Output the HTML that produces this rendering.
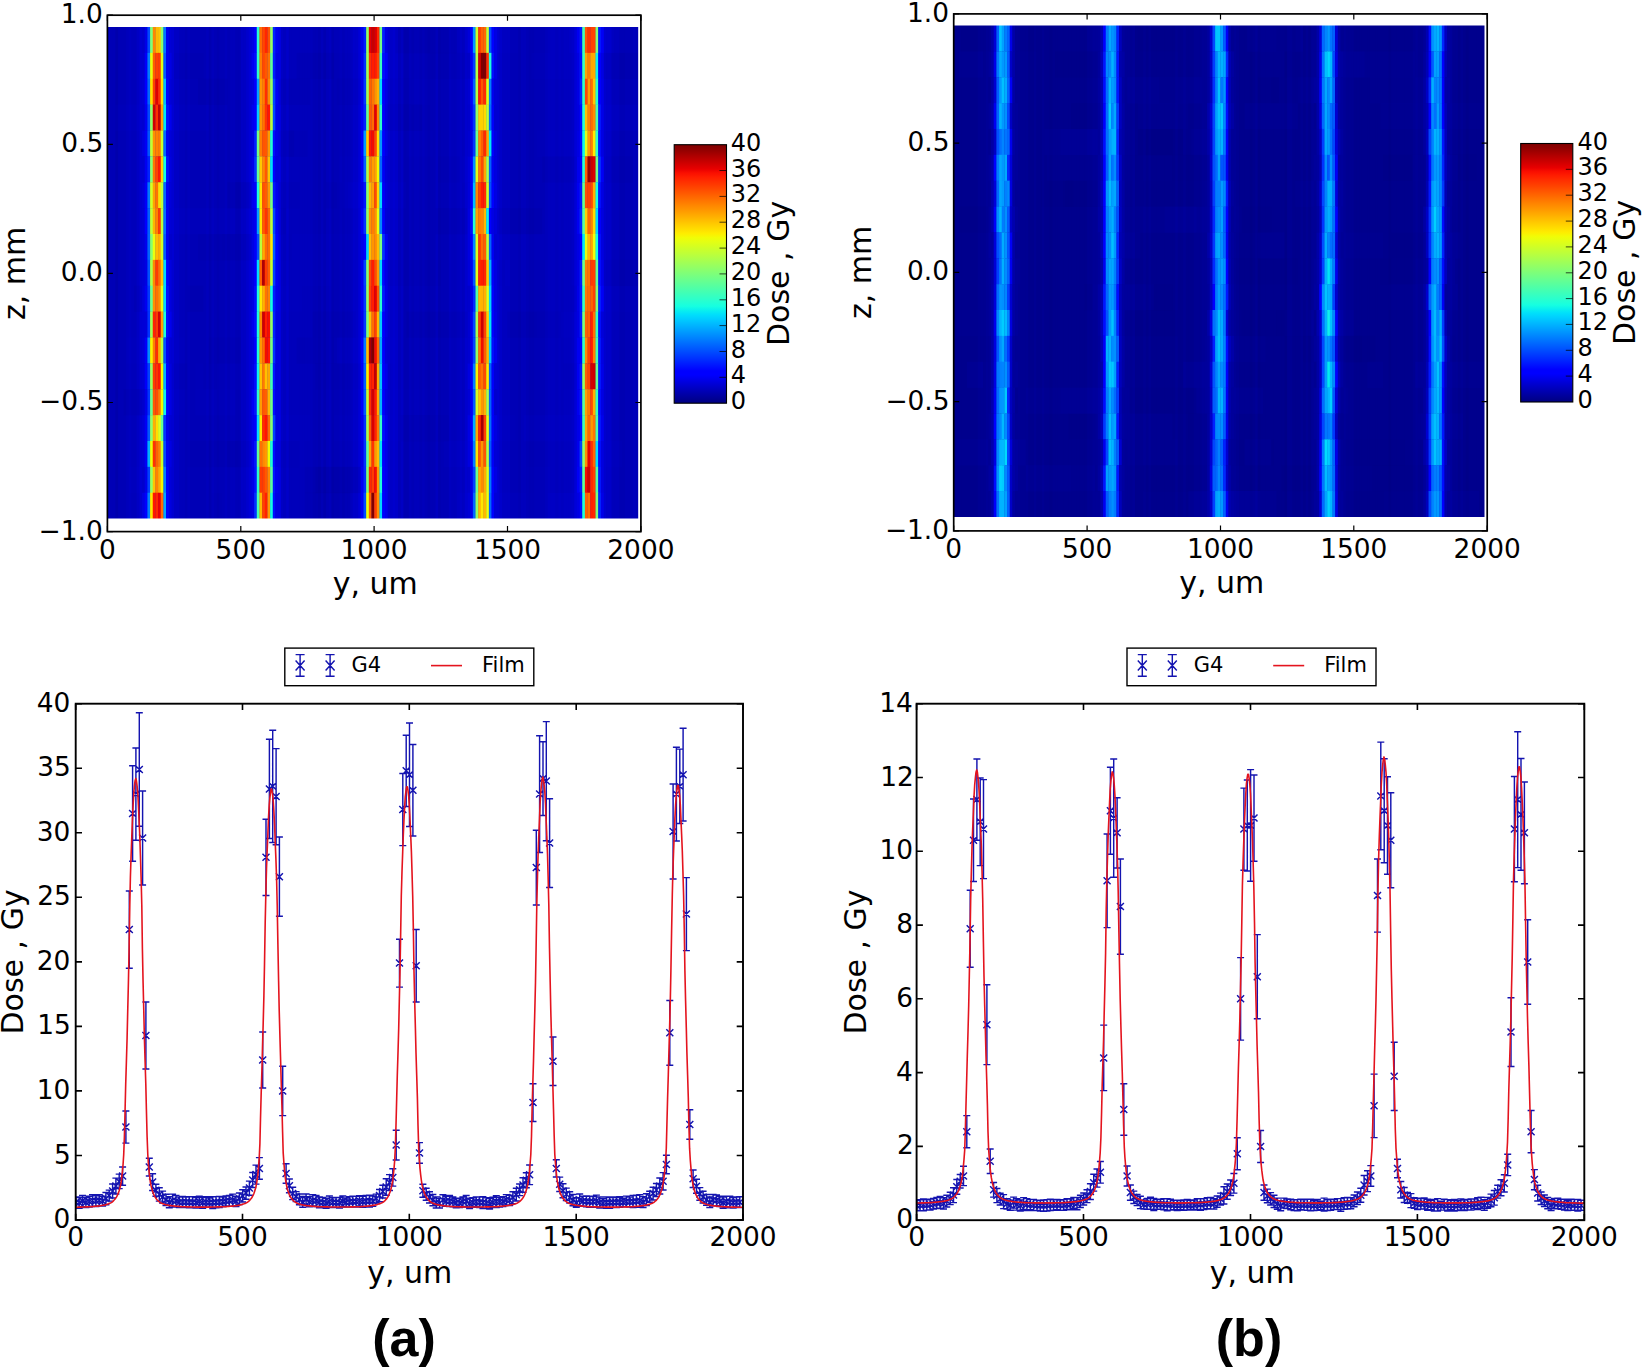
<!DOCTYPE html>
<html lang="en"><head><meta charset="utf-8"><title>Dose maps and profiles</title><style>html,body{margin:0;padding:0;background:#fff}svg{display:block}</style></head><body>
<svg width="1645" height="1369" viewBox="0 0 1645 1369" font-family="'DejaVu Sans','Liberation Sans',sans-serif" fill="#000">
<rect width="1645" height="1369" fill="#fff"/>
<defs><filter id="soft" x="-2%" y="-2%" width="104%" height="104%"><feGaussianBlur stdDeviation="0.7"/></filter><linearGradient id="jet" x1="0" y1="0" x2="0" y2="1"><stop offset="0" stop-color="#800000"/><stop offset="0.0156" stop-color="#8d0000"/><stop offset="0.0312" stop-color="#9f0000"/><stop offset="0.0469" stop-color="#b20000"/><stop offset="0.0625" stop-color="#c40000"/><stop offset="0.0781" stop-color="#d60000"/><stop offset="0.0938" stop-color="#e80000"/><stop offset="0.1094" stop-color="#fa0f00"/><stop offset="0.125" stop-color="#ff1e00"/><stop offset="0.1406" stop-color="#ff2d00"/><stop offset="0.1562" stop-color="#ff3b00"/><stop offset="0.1719" stop-color="#ff4a00"/><stop offset="0.1875" stop-color="#ff5900"/><stop offset="0.2031" stop-color="#ff6800"/><stop offset="0.2188" stop-color="#ff7700"/><stop offset="0.2344" stop-color="#ff8600"/><stop offset="0.25" stop-color="#ff9400"/><stop offset="0.2656" stop-color="#ffa300"/><stop offset="0.2812" stop-color="#ffb200"/><stop offset="0.2969" stop-color="#ffc100"/><stop offset="0.3125" stop-color="#ffd000"/><stop offset="0.3281" stop-color="#ffde00"/><stop offset="0.3438" stop-color="#feed00"/><stop offset="0.3594" stop-color="#f1fc06"/><stop offset="0.375" stop-color="#e4ff13"/><stop offset="0.3906" stop-color="#d7ff1f"/><stop offset="0.4062" stop-color="#caff2c"/><stop offset="0.4219" stop-color="#beff39"/><stop offset="0.4375" stop-color="#b1ff46"/><stop offset="0.4531" stop-color="#a4ff53"/><stop offset="0.4688" stop-color="#97ff60"/><stop offset="0.4844" stop-color="#8aff6d"/><stop offset="0.5" stop-color="#7dff7a"/><stop offset="0.5156" stop-color="#70ff87"/><stop offset="0.5312" stop-color="#63ff94"/><stop offset="0.5469" stop-color="#56ffa0"/><stop offset="0.5625" stop-color="#49ffad"/><stop offset="0.5781" stop-color="#3cffba"/><stop offset="0.5938" stop-color="#30ffc7"/><stop offset="0.6094" stop-color="#23ffd4"/><stop offset="0.625" stop-color="#16ffe1"/><stop offset="0.6406" stop-color="#09f0ee"/><stop offset="0.6562" stop-color="#00e0fb"/><stop offset="0.6719" stop-color="#00d0ff"/><stop offset="0.6875" stop-color="#00c0ff"/><stop offset="0.7031" stop-color="#00b0ff"/><stop offset="0.7188" stop-color="#00a0ff"/><stop offset="0.7344" stop-color="#0090ff"/><stop offset="0.75" stop-color="#0080ff"/><stop offset="0.7656" stop-color="#0070ff"/><stop offset="0.7812" stop-color="#0060ff"/><stop offset="0.7969" stop-color="#0050ff"/><stop offset="0.8125" stop-color="#0040ff"/><stop offset="0.8281" stop-color="#0030ff"/><stop offset="0.8438" stop-color="#0020ff"/><stop offset="0.8594" stop-color="#0010ff"/><stop offset="0.875" stop-color="#0000ff"/><stop offset="0.8906" stop-color="#0000ff"/><stop offset="0.9062" stop-color="#0000ed"/><stop offset="0.9219" stop-color="#0000da"/><stop offset="0.9375" stop-color="#0000c8"/><stop offset="0.9531" stop-color="#0000b6"/><stop offset="0.9688" stop-color="#0000a4"/><stop offset="0.9844" stop-color="#000092"/><stop offset="1" stop-color="#000080"/></linearGradient></defs>
<clipPath id="hc1"><rect x="107.4" y="27" width="530.8" height="491.6"/></clipPath>
<g clip-path="url(#hc1)"><g filter="url(#soft)">
<rect x="103.4" y="23" width="538.8" height="499.6" fill="#0000b6"/>
<rect x="107.4" y="23" width="2.97" height="499.6" fill="#0000bf"/>
<rect x="110.07" y="23" width="2.97" height="499.6" fill="#0000b6"/>
<rect x="112.73" y="23" width="2.97" height="499.6" fill="#0000b6"/>
<rect x="115.4" y="23" width="2.97" height="499.6" fill="#0000ad"/>
<rect x="118.07" y="23" width="2.97" height="499.6" fill="#0000b6"/>
<rect x="120.74" y="23" width="2.97" height="499.6" fill="#0000b6"/>
<rect x="123.41" y="23" width="2.97" height="499.6" fill="#0000b6"/>
<rect x="126.07" y="23" width="2.97" height="499.6" fill="#0000bb"/>
<rect x="128.74" y="23" width="2.97" height="499.6" fill="#0000bf"/>
<rect x="131.41" y="23" width="2.97" height="499.6" fill="#0000bb"/>
<rect x="134.08" y="23" width="2.97" height="499.6" fill="#0000bb"/>
<rect x="136.74" y="23" width="2.97" height="499.6" fill="#0000c4"/>
<rect x="139.41" y="23" width="2.97" height="499.6" fill="#0000d1"/>
<rect x="171.42" y="23" width="2.97" height="499.6" fill="#0000d1"/>
<rect x="174.09" y="23" width="2.97" height="499.6" fill="#0000c4"/>
<rect x="176.75" y="23" width="2.97" height="499.6" fill="#0000c4"/>
<rect x="179.42" y="23" width="2.97" height="499.6" fill="#0000bb"/>
<rect x="182.09" y="23" width="2.97" height="499.6" fill="#0000bb"/>
<rect x="184.76" y="23" width="2.97" height="499.6" fill="#0000b6"/>
<rect x="187.43" y="23" width="2.97" height="499.6" fill="#0000bb"/>
<rect x="190.09" y="23" width="2.97" height="499.6" fill="#0000b6"/>
<rect x="192.76" y="23" width="2.97" height="499.6" fill="#0000b6"/>
<rect x="195.43" y="23" width="2.97" height="499.6" fill="#0000b6"/>
<rect x="198.09" y="23" width="2.97" height="499.6" fill="#0000b6"/>
<rect x="200.76" y="23" width="2.97" height="499.6" fill="#0000b6"/>
<rect x="203.43" y="23" width="2.97" height="499.6" fill="#0000b6"/>
<rect x="206.1" y="23" width="2.97" height="499.6" fill="#0000bb"/>
<rect x="208.76" y="23" width="2.97" height="499.6" fill="#0000b2"/>
<rect x="211.43" y="23" width="2.97" height="499.6" fill="#0000bb"/>
<rect x="214.1" y="23" width="2.97" height="499.6" fill="#0000b6"/>
<rect x="216.77" y="23" width="2.97" height="499.6" fill="#0000b2"/>
<rect x="219.44" y="23" width="2.97" height="499.6" fill="#0000b6"/>
<rect x="222.1" y="23" width="2.97" height="499.6" fill="#0000b6"/>
<rect x="224.77" y="23" width="2.97" height="499.6" fill="#0000bb"/>
<rect x="227.44" y="23" width="2.97" height="499.6" fill="#0000b6"/>
<rect x="230.11" y="23" width="2.97" height="499.6" fill="#0000bb"/>
<rect x="232.77" y="23" width="2.97" height="499.6" fill="#0000bb"/>
<rect x="235.44" y="23" width="2.97" height="499.6" fill="#0000b6"/>
<rect x="238.11" y="23" width="2.97" height="499.6" fill="#0000b6"/>
<rect x="240.78" y="23" width="2.97" height="499.6" fill="#0000c4"/>
<rect x="243.44" y="23" width="2.97" height="499.6" fill="#0000c4"/>
<rect x="246.11" y="23" width="2.97" height="499.6" fill="#0000cd"/>
<rect x="248.78" y="23" width="2.97" height="499.6" fill="#0000d6"/>
<rect x="278.12" y="23" width="2.97" height="499.6" fill="#0000e3"/>
<rect x="280.79" y="23" width="2.97" height="499.6" fill="#0000c4"/>
<rect x="283.46" y="23" width="2.97" height="499.6" fill="#0000bf"/>
<rect x="286.12" y="23" width="2.97" height="499.6" fill="#0000c8"/>
<rect x="288.79" y="23" width="2.97" height="499.6" fill="#0000bb"/>
<rect x="291.46" y="23" width="2.97" height="499.6" fill="#0000bb"/>
<rect x="294.12" y="23" width="2.97" height="499.6" fill="#0000bb"/>
<rect x="296.79" y="23" width="2.97" height="499.6" fill="#0000bb"/>
<rect x="299.46" y="23" width="2.97" height="499.6" fill="#0000bb"/>
<rect x="302.13" y="23" width="2.97" height="499.6" fill="#0000bb"/>
<rect x="304.8" y="23" width="2.97" height="499.6" fill="#0000bb"/>
<rect x="307.46" y="23" width="2.97" height="499.6" fill="#0000bb"/>
<rect x="310.13" y="23" width="2.97" height="499.6" fill="#0000bb"/>
<rect x="312.8" y="23" width="2.97" height="499.6" fill="#0000b6"/>
<rect x="315.47" y="23" width="2.97" height="499.6" fill="#0000b6"/>
<rect x="318.13" y="23" width="2.97" height="499.6" fill="#0000b2"/>
<rect x="320.8" y="23" width="2.97" height="499.6" fill="#0000bb"/>
<rect x="323.47" y="23" width="2.97" height="499.6" fill="#0000b2"/>
<rect x="326.13" y="23" width="2.97" height="499.6" fill="#0000bb"/>
<rect x="328.8" y="23" width="2.97" height="499.6" fill="#0000bf"/>
<rect x="331.47" y="23" width="2.97" height="499.6" fill="#0000b2"/>
<rect x="334.14" y="23" width="2.97" height="499.6" fill="#0000b6"/>
<rect x="336.81" y="23" width="2.97" height="499.6" fill="#0000b6"/>
<rect x="339.47" y="23" width="2.97" height="499.6" fill="#0000bb"/>
<rect x="342.14" y="23" width="2.97" height="499.6" fill="#0000b6"/>
<rect x="344.81" y="23" width="2.97" height="499.6" fill="#0000bb"/>
<rect x="347.48" y="23" width="2.97" height="499.6" fill="#0000bb"/>
<rect x="350.14" y="23" width="2.97" height="499.6" fill="#0000bf"/>
<rect x="352.81" y="23" width="2.97" height="499.6" fill="#0000c8"/>
<rect x="355.48" y="23" width="2.97" height="499.6" fill="#0000c8"/>
<rect x="358.14" y="23" width="2.97" height="499.6" fill="#0000d6"/>
<rect x="387.49" y="23" width="2.97" height="499.6" fill="#0000d1"/>
<rect x="390.15" y="23" width="2.97" height="499.6" fill="#0000c8"/>
<rect x="392.82" y="23" width="2.97" height="499.6" fill="#0000cd"/>
<rect x="395.49" y="23" width="2.97" height="499.6" fill="#0000c8"/>
<rect x="398.16" y="23" width="2.97" height="499.6" fill="#0000bb"/>
<rect x="400.83" y="23" width="2.97" height="499.6" fill="#0000c4"/>
<rect x="403.49" y="23" width="2.97" height="499.6" fill="#0000b2"/>
<rect x="406.16" y="23" width="2.97" height="499.6" fill="#0000b2"/>
<rect x="408.83" y="23" width="2.97" height="499.6" fill="#0000bb"/>
<rect x="411.5" y="23" width="2.97" height="499.6" fill="#0000b6"/>
<rect x="414.16" y="23" width="2.97" height="499.6" fill="#0000bb"/>
<rect x="416.83" y="23" width="2.97" height="499.6" fill="#0000bb"/>
<rect x="419.5" y="23" width="2.97" height="499.6" fill="#0000b6"/>
<rect x="422.16" y="23" width="2.97" height="499.6" fill="#0000bb"/>
<rect x="424.83" y="23" width="2.97" height="499.6" fill="#0000b6"/>
<rect x="427.5" y="23" width="2.97" height="499.6" fill="#0000b2"/>
<rect x="430.17" y="23" width="2.97" height="499.6" fill="#0000b6"/>
<rect x="432.84" y="23" width="2.97" height="499.6" fill="#0000b6"/>
<rect x="435.5" y="23" width="2.97" height="499.6" fill="#0000bf"/>
<rect x="438.17" y="23" width="2.97" height="499.6" fill="#0000b2"/>
<rect x="440.84" y="23" width="2.97" height="499.6" fill="#0000b6"/>
<rect x="443.5" y="23" width="2.97" height="499.6" fill="#0000b6"/>
<rect x="446.17" y="23" width="2.97" height="499.6" fill="#0000b6"/>
<rect x="448.84" y="23" width="2.97" height="499.6" fill="#0000bf"/>
<rect x="451.51" y="23" width="2.97" height="499.6" fill="#0000bb"/>
<rect x="454.17" y="23" width="2.97" height="499.6" fill="#0000bb"/>
<rect x="456.84" y="23" width="2.97" height="499.6" fill="#0000bf"/>
<rect x="459.51" y="23" width="2.97" height="499.6" fill="#0000c4"/>
<rect x="462.18" y="23" width="2.97" height="499.6" fill="#0000bf"/>
<rect x="464.85" y="23" width="2.97" height="499.6" fill="#0000cd"/>
<rect x="496.86" y="23" width="2.97" height="499.6" fill="#0000d1"/>
<rect x="499.52" y="23" width="2.97" height="499.6" fill="#0000c8"/>
<rect x="502.19" y="23" width="2.97" height="499.6" fill="#0000bf"/>
<rect x="504.86" y="23" width="2.97" height="499.6" fill="#0000bf"/>
<rect x="507.52" y="23" width="2.97" height="499.6" fill="#0000bf"/>
<rect x="510.19" y="23" width="2.97" height="499.6" fill="#0000b6"/>
<rect x="512.86" y="23" width="2.97" height="499.6" fill="#0000b6"/>
<rect x="515.53" y="23" width="2.97" height="499.6" fill="#0000b6"/>
<rect x="518.2" y="23" width="2.97" height="499.6" fill="#0000b2"/>
<rect x="520.86" y="23" width="2.97" height="499.6" fill="#0000bb"/>
<rect x="523.53" y="23" width="2.97" height="499.6" fill="#0000bb"/>
<rect x="526.2" y="23" width="2.97" height="499.6" fill="#0000b6"/>
<rect x="528.87" y="23" width="2.97" height="499.6" fill="#0000b2"/>
<rect x="531.53" y="23" width="2.97" height="499.6" fill="#0000b2"/>
<rect x="534.2" y="23" width="2.97" height="499.6" fill="#0000b6"/>
<rect x="536.87" y="23" width="2.97" height="499.6" fill="#0000b6"/>
<rect x="539.53" y="23" width="2.97" height="499.6" fill="#0000b6"/>
<rect x="542.2" y="23" width="2.97" height="499.6" fill="#0000b6"/>
<rect x="544.87" y="23" width="2.97" height="499.6" fill="#0000bb"/>
<rect x="547.54" y="23" width="2.97" height="499.6" fill="#0000bf"/>
<rect x="550.21" y="23" width="2.97" height="499.6" fill="#0000bf"/>
<rect x="552.87" y="23" width="2.97" height="499.6" fill="#0000bf"/>
<rect x="555.54" y="23" width="2.97" height="499.6" fill="#0000bb"/>
<rect x="558.21" y="23" width="2.97" height="499.6" fill="#0000bf"/>
<rect x="560.88" y="23" width="2.97" height="499.6" fill="#0000bb"/>
<rect x="563.54" y="23" width="2.97" height="499.6" fill="#0000bf"/>
<rect x="566.21" y="23" width="2.97" height="499.6" fill="#0000bf"/>
<rect x="568.88" y="23" width="2.97" height="499.6" fill="#0000bf"/>
<rect x="571.54" y="23" width="2.97" height="499.6" fill="#0000c4"/>
<rect x="574.21" y="23" width="2.97" height="499.6" fill="#0000d6"/>
<rect x="603.55" y="23" width="2.97" height="499.6" fill="#0000cd"/>
<rect x="606.22" y="23" width="2.97" height="499.6" fill="#0000c8"/>
<rect x="608.89" y="23" width="2.97" height="499.6" fill="#0000c8"/>
<rect x="611.56" y="23" width="2.97" height="499.6" fill="#0000bb"/>
<rect x="614.23" y="23" width="2.97" height="499.6" fill="#0000bb"/>
<rect x="616.89" y="23" width="2.97" height="499.6" fill="#0000bb"/>
<rect x="619.56" y="23" width="2.97" height="499.6" fill="#0000b2"/>
<rect x="622.23" y="23" width="2.97" height="499.6" fill="#0000b2"/>
<rect x="624.89" y="23" width="2.97" height="499.6" fill="#0000b6"/>
<rect x="627.56" y="23" width="2.97" height="499.6" fill="#0000b6"/>
<rect x="630.23" y="23" width="2.97" height="499.6" fill="#0000b6"/>
<rect x="632.9" y="23" width="2.97" height="499.6" fill="#0000bb"/>
<rect x="635.56" y="23" width="2.97" height="499.6" fill="#0000b6"/>
<rect x="499.5" y="27" width="18.7" height="26.2" fill="#0000ff" opacity="0.04"/>
<rect x="568.9" y="27" width="45.3" height="26.2" fill="#0000ff" opacity="0.05"/>
<rect x="334.1" y="27" width="40" height="26.2" fill="#0000ff" opacity="0.04"/>
<rect x="550.2" y="27" width="74.7" height="26.2" fill="#0000ff" opacity="0.04"/>
<rect x="395.5" y="27" width="61.4" height="26.2" fill="#000060" opacity="0.06"/>
<rect x="296.8" y="52.9" width="37.3" height="26.2" fill="#000060" opacity="0.06"/>
<rect x="430.2" y="52.9" width="69.4" height="26.2" fill="#000060" opacity="0.04"/>
<rect x="174.1" y="52.9" width="29.3" height="26.2" fill="#000060" opacity="0.03"/>
<rect x="531.5" y="52.9" width="42.7" height="26.2" fill="#0000ff" opacity="0.04"/>
<rect x="603.6" y="52.9" width="34.7" height="26.2" fill="#000060" opacity="0.06"/>
<rect x="275.5" y="78.7" width="34.7" height="26.2" fill="#000060" opacity="0.05"/>
<rect x="198.1" y="78.7" width="29.3" height="26.2" fill="#000060" opacity="0.06"/>
<rect x="576.9" y="78.7" width="21.3" height="26.2" fill="#0000ff" opacity="0.05"/>
<rect x="336.8" y="78.7" width="74.7" height="26.2" fill="#000060" opacity="0.03"/>
<rect x="387.5" y="78.7" width="42.7" height="26.2" fill="#0000ff" opacity="0.03"/>
<rect x="574.2" y="104.6" width="64" height="26.2" fill="#0000ff" opacity="0.05"/>
<rect x="376.8" y="104.6" width="45.3" height="26.2" fill="#000060" opacity="0.06"/>
<rect x="160.8" y="104.6" width="48" height="26.2" fill="#0000ff" opacity="0.05"/>
<rect x="115.4" y="104.6" width="42.7" height="26.2" fill="#0000ff" opacity="0.05"/>
<rect x="579.5" y="104.6" width="58.7" height="26.2" fill="#0000ff" opacity="0.03"/>
<rect x="406.2" y="130.5" width="26.7" height="26.2" fill="#0000ff" opacity="0.03"/>
<rect x="286.1" y="130.5" width="21.3" height="26.2" fill="#000060" opacity="0.04"/>
<rect x="568.9" y="130.5" width="18.7" height="26.2" fill="#0000ff" opacity="0.03"/>
<rect x="278.1" y="130.5" width="16" height="26.2" fill="#000060" opacity="0.05"/>
<rect x="536.9" y="130.5" width="32" height="26.2" fill="#0000ff" opacity="0.04"/>
<rect x="576.9" y="156.4" width="56" height="26.2" fill="#000060" opacity="0.04"/>
<rect x="438.2" y="156.4" width="24" height="26.2" fill="#000060" opacity="0.03"/>
<rect x="339.5" y="156.4" width="29.3" height="26.2" fill="#0000ff" opacity="0.03"/>
<rect x="542.2" y="156.4" width="53.4" height="26.2" fill="#000060" opacity="0.05"/>
<rect x="459.5" y="156.4" width="26.7" height="26.2" fill="#0000ff" opacity="0.06"/>
<rect x="326.1" y="182.2" width="16" height="26.2" fill="#000060" opacity="0.04"/>
<rect x="347.5" y="182.2" width="21.3" height="26.2" fill="#0000ff" opacity="0.05"/>
<rect x="227.4" y="182.2" width="53.4" height="26.2" fill="#000060" opacity="0.05"/>
<rect x="336.8" y="182.2" width="69.4" height="26.2" fill="#0000ff" opacity="0.05"/>
<rect x="235.4" y="182.2" width="64" height="26.2" fill="#000060" opacity="0.03"/>
<rect x="470.2" y="208.1" width="72" height="26.2" fill="#000060" opacity="0.05"/>
<rect x="168.8" y="208.1" width="66.7" height="26.2" fill="#0000ff" opacity="0.06"/>
<rect x="435.5" y="208.1" width="40" height="26.2" fill="#000060" opacity="0.06"/>
<rect x="142.1" y="208.1" width="24" height="26.2" fill="#0000ff" opacity="0.05"/>
<rect x="251.4" y="208.1" width="34.7" height="26.2" fill="#000060" opacity="0.06"/>
<rect x="259.4" y="234" width="16" height="26.2" fill="#0000ff" opacity="0.04"/>
<rect x="280.8" y="234" width="74.7" height="26.2" fill="#0000ff" opacity="0.04"/>
<rect x="222.1" y="234" width="69.4" height="26.2" fill="#000060" opacity="0.03"/>
<rect x="198.1" y="234" width="77.4" height="26.2" fill="#000060" opacity="0.04"/>
<rect x="478.2" y="234" width="66.7" height="26.2" fill="#0000ff" opacity="0.06"/>
<rect x="590.2" y="259.9" width="48" height="26.2" fill="#000060" opacity="0.06"/>
<rect x="384.8" y="259.9" width="56" height="26.2" fill="#000060" opacity="0.03"/>
<rect x="288.8" y="259.9" width="42.7" height="26.2" fill="#0000ff" opacity="0.04"/>
<rect x="472.8" y="259.9" width="37.3" height="26.2" fill="#0000ff" opacity="0.05"/>
<rect x="478.2" y="259.9" width="26.7" height="26.2" fill="#000060" opacity="0.03"/>
<rect x="134.1" y="285.7" width="37.3" height="26.2" fill="#000060" opacity="0.05"/>
<rect x="262.1" y="285.7" width="40" height="26.2" fill="#0000ff" opacity="0.03"/>
<rect x="187.4" y="285.7" width="16" height="26.2" fill="#000060" opacity="0.05"/>
<rect x="571.5" y="285.7" width="21.3" height="26.2" fill="#000060" opacity="0.05"/>
<rect x="571.5" y="285.7" width="61.4" height="26.2" fill="#0000ff" opacity="0.03"/>
<rect x="406.2" y="311.6" width="72" height="26.2" fill="#000060" opacity="0.05"/>
<rect x="536.9" y="311.6" width="53.4" height="26.2" fill="#0000ff" opacity="0.03"/>
<rect x="139.4" y="311.6" width="34.7" height="26.2" fill="#0000ff" opacity="0.05"/>
<rect x="507.5" y="311.6" width="53.4" height="26.2" fill="#000060" opacity="0.05"/>
<rect x="312.8" y="311.6" width="42.7" height="26.2" fill="#000060" opacity="0.04"/>
<rect x="304.8" y="337.5" width="37.3" height="26.2" fill="#0000ff" opacity="0.03"/>
<rect x="126.1" y="337.5" width="58.7" height="26.2" fill="#0000ff" opacity="0.03"/>
<rect x="334.1" y="337.5" width="61.4" height="26.2" fill="#0000ff" opacity="0.04"/>
<rect x="208.8" y="337.5" width="32" height="26.2" fill="#000060" opacity="0.03"/>
<rect x="296.8" y="337.5" width="40" height="26.2" fill="#000060" opacity="0.06"/>
<rect x="195.4" y="363.4" width="45.3" height="26.2" fill="#0000ff" opacity="0.04"/>
<rect x="168.8" y="363.4" width="48" height="26.2" fill="#000060" opacity="0.03"/>
<rect x="563.5" y="363.4" width="21.3" height="26.2" fill="#000060" opacity="0.03"/>
<rect x="315.5" y="363.4" width="74.7" height="26.2" fill="#000060" opacity="0.04"/>
<rect x="187.4" y="363.4" width="16" height="26.2" fill="#0000ff" opacity="0.05"/>
<rect x="123.4" y="389.2" width="34.7" height="26.2" fill="#000060" opacity="0.05"/>
<rect x="392.8" y="389.2" width="37.3" height="26.2" fill="#0000ff" opacity="0.03"/>
<rect x="166.1" y="389.2" width="18.7" height="26.2" fill="#0000ff" opacity="0.03"/>
<rect x="195.4" y="389.2" width="40" height="26.2" fill="#0000ff" opacity="0.05"/>
<rect x="136.7" y="389.2" width="34.7" height="26.2" fill="#000060" opacity="0.05"/>
<rect x="270.1" y="415.1" width="40" height="26.2" fill="#0000ff" opacity="0.04"/>
<rect x="334.1" y="415.1" width="66.7" height="26.2" fill="#0000ff" opacity="0.03"/>
<rect x="523.5" y="415.1" width="53.4" height="26.2" fill="#0000ff" opacity="0.06"/>
<rect x="400.8" y="415.1" width="48" height="26.2" fill="#000060" opacity="0.03"/>
<rect x="472.8" y="415.1" width="42.7" height="26.2" fill="#0000ff" opacity="0.03"/>
<rect x="251.4" y="441" width="53.4" height="26.2" fill="#0000ff" opacity="0.03"/>
<rect x="587.5" y="441" width="34.7" height="26.2" fill="#0000ff" opacity="0.04"/>
<rect x="187.4" y="441" width="50.7" height="26.2" fill="#000060" opacity="0.03"/>
<rect x="443.5" y="441" width="37.3" height="26.2" fill="#0000ff" opacity="0.05"/>
<rect x="227.4" y="441" width="72" height="26.2" fill="#000060" opacity="0.04"/>
<rect x="304.8" y="466.9" width="69.4" height="26.2" fill="#000060" opacity="0.05"/>
<rect x="526.2" y="466.9" width="24" height="26.2" fill="#0000ff" opacity="0.03"/>
<rect x="128.7" y="466.9" width="21.3" height="26.2" fill="#0000ff" opacity="0.04"/>
<rect x="315.5" y="466.9" width="45.3" height="26.2" fill="#000060" opacity="0.06"/>
<rect x="211.4" y="466.9" width="45.3" height="26.2" fill="#0000ff" opacity="0.04"/>
<rect x="304.8" y="492.7" width="45.3" height="26.2" fill="#000060" opacity="0.05"/>
<rect x="222.1" y="492.7" width="40" height="26.2" fill="#0000ff" opacity="0.03"/>
<rect x="520.9" y="492.7" width="58.7" height="26.2" fill="#0000ff" opacity="0.04"/>
<rect x="547.5" y="492.7" width="58.7" height="26.2" fill="#0000ff" opacity="0.05"/>
<rect x="456.8" y="492.7" width="64" height="26.2" fill="#0000ff" opacity="0.06"/>
<rect x="142.08" y="23" width="2.97" height="30.17" fill="#0000cd"/>
<rect x="144.75" y="23" width="2.97" height="30.17" fill="#0000e8"/>
<rect x="147.41" y="23" width="2.97" height="30.17" fill="#0048ff"/>
<rect x="150.08" y="23" width="2.97" height="30.17" fill="#7dff7a"/>
<rect x="152.75" y="23" width="2.97" height="30.17" fill="#ff8600"/>
<rect x="155.42" y="23" width="2.97" height="30.17" fill="#ffb900"/>
<rect x="158.08" y="23" width="2.97" height="30.17" fill="#ffc400"/>
<rect x="160.75" y="23" width="2.97" height="30.17" fill="#8dff6a"/>
<rect x="163.42" y="23" width="2.97" height="30.17" fill="#0078ff"/>
<rect x="166.09" y="23" width="2.97" height="30.17" fill="#0000f1"/>
<rect x="168.75" y="23" width="2.97" height="30.17" fill="#0000d6"/>
<rect x="251.44" y="23" width="2.97" height="30.17" fill="#0000e3"/>
<rect x="254.11" y="23" width="2.97" height="30.17" fill="#0004ff"/>
<rect x="256.78" y="23" width="2.97" height="30.17" fill="#26ffd1"/>
<rect x="259.45" y="23" width="2.97" height="30.17" fill="#ff6c00"/>
<rect x="262.12" y="23" width="2.97" height="30.17" fill="#ff4700"/>
<rect x="264.78" y="23" width="2.97" height="30.17" fill="#ff2500"/>
<rect x="267.45" y="23" width="2.97" height="30.17" fill="#ff5200"/>
<rect x="270.12" y="23" width="2.97" height="30.17" fill="#97ff60"/>
<rect x="272.78" y="23" width="2.97" height="30.17" fill="#0024ff"/>
<rect x="275.45" y="23" width="2.97" height="30.17" fill="#0000f1"/>
<rect x="360.81" y="23" width="2.97" height="30.17" fill="#0000ed"/>
<rect x="363.48" y="23" width="2.97" height="30.17" fill="#001cff"/>
<rect x="366.15" y="23" width="2.97" height="30.17" fill="#94ff63"/>
<rect x="368.82" y="23" width="2.97" height="30.17" fill="#e80000"/>
<rect x="371.48" y="23" width="2.97" height="30.17" fill="#c80000"/>
<rect x="374.15" y="23" width="2.97" height="30.17" fill="#da0000"/>
<rect x="376.82" y="23" width="2.97" height="30.17" fill="#ff2500"/>
<rect x="379.49" y="23" width="2.97" height="30.17" fill="#73ff83"/>
<rect x="382.15" y="23" width="2.97" height="30.17" fill="#0024ff"/>
<rect x="384.82" y="23" width="2.97" height="30.17" fill="#0000e3"/>
<rect x="467.51" y="23" width="2.97" height="30.17" fill="#0000da"/>
<rect x="470.18" y="23" width="2.97" height="30.17" fill="#0000ff"/>
<rect x="472.85" y="23" width="2.97" height="30.17" fill="#0098ff"/>
<rect x="475.51" y="23" width="2.97" height="30.17" fill="#caff2c"/>
<rect x="478.18" y="23" width="2.97" height="30.17" fill="#ff3b00"/>
<rect x="480.85" y="23" width="2.97" height="30.17" fill="#ff6000"/>
<rect x="483.52" y="23" width="2.97" height="30.17" fill="#ff6800"/>
<rect x="486.19" y="23" width="2.97" height="30.17" fill="#c4ff33"/>
<rect x="488.85" y="23" width="2.97" height="30.17" fill="#0050ff"/>
<rect x="491.52" y="23" width="2.97" height="30.17" fill="#0000ff"/>
<rect x="494.19" y="23" width="2.97" height="30.17" fill="#0000e3"/>
<rect x="576.88" y="23" width="2.97" height="30.17" fill="#0000f1"/>
<rect x="579.55" y="23" width="2.97" height="30.17" fill="#0018ff"/>
<rect x="582.22" y="23" width="2.97" height="30.17" fill="#43ffb4"/>
<rect x="584.88" y="23" width="2.97" height="30.17" fill="#ff5500"/>
<rect x="587.55" y="23" width="2.97" height="30.17" fill="#ff3000"/>
<rect x="590.22" y="23" width="2.97" height="30.17" fill="#ff3f00"/>
<rect x="592.88" y="23" width="2.97" height="30.17" fill="#ff4300"/>
<rect x="595.55" y="23" width="2.97" height="30.17" fill="#80ff77"/>
<rect x="598.22" y="23" width="2.97" height="30.17" fill="#0018ff"/>
<rect x="600.89" y="23" width="2.97" height="30.17" fill="#0000f6"/>
<rect x="142.08" y="52.87" width="2.97" height="26.17" fill="#0000d1"/>
<rect x="144.75" y="52.87" width="2.97" height="26.17" fill="#0000fa"/>
<rect x="147.41" y="52.87" width="2.97" height="26.17" fill="#007cff"/>
<rect x="150.08" y="52.87" width="2.97" height="26.17" fill="#e7ff0f"/>
<rect x="152.75" y="52.87" width="2.97" height="26.17" fill="#ff5d00"/>
<rect x="155.42" y="52.87" width="2.97" height="26.17" fill="#ff3f00"/>
<rect x="158.08" y="52.87" width="2.97" height="26.17" fill="#ff3b00"/>
<rect x="160.75" y="52.87" width="2.97" height="26.17" fill="#e1ff16"/>
<rect x="163.42" y="52.87" width="2.97" height="26.17" fill="#005cff"/>
<rect x="166.09" y="52.87" width="2.97" height="26.17" fill="#0000f1"/>
<rect x="168.75" y="52.87" width="2.97" height="26.17" fill="#0000e3"/>
<rect x="251.44" y="52.87" width="2.97" height="26.17" fill="#0000f1"/>
<rect x="254.11" y="52.87" width="2.97" height="26.17" fill="#000cff"/>
<rect x="256.78" y="52.87" width="2.97" height="26.17" fill="#2cffca"/>
<rect x="259.45" y="52.87" width="2.97" height="26.17" fill="#ff7e00"/>
<rect x="262.12" y="52.87" width="2.97" height="26.17" fill="#ff4a00"/>
<rect x="264.78" y="52.87" width="2.97" height="26.17" fill="#ff5900"/>
<rect x="267.45" y="52.87" width="2.97" height="26.17" fill="#ff6f00"/>
<rect x="270.12" y="52.87" width="2.97" height="26.17" fill="#60ff97"/>
<rect x="272.78" y="52.87" width="2.97" height="26.17" fill="#001cff"/>
<rect x="275.45" y="52.87" width="2.97" height="26.17" fill="#0000e3"/>
<rect x="360.81" y="52.87" width="2.97" height="26.17" fill="#0000f1"/>
<rect x="363.48" y="52.87" width="2.97" height="26.17" fill="#0030ff"/>
<rect x="366.15" y="52.87" width="2.97" height="26.17" fill="#9dff5a"/>
<rect x="368.82" y="52.87" width="2.97" height="26.17" fill="#ff2d00"/>
<rect x="371.48" y="52.87" width="2.97" height="26.17" fill="#ff1e00"/>
<rect x="374.15" y="52.87" width="2.97" height="26.17" fill="#ff1e00"/>
<rect x="376.82" y="52.87" width="2.97" height="26.17" fill="#ff4300"/>
<rect x="379.49" y="52.87" width="2.97" height="26.17" fill="#39ffbe"/>
<rect x="382.15" y="52.87" width="2.97" height="26.17" fill="#0010ff"/>
<rect x="384.82" y="52.87" width="2.97" height="26.17" fill="#0000f6"/>
<rect x="467.51" y="52.87" width="2.97" height="26.17" fill="#0000c8"/>
<rect x="470.18" y="52.87" width="2.97" height="26.17" fill="#0000fa"/>
<rect x="472.85" y="52.87" width="2.97" height="26.17" fill="#0040ff"/>
<rect x="475.51" y="52.87" width="2.97" height="26.17" fill="#b7ff40"/>
<rect x="478.18" y="52.87" width="2.97" height="26.17" fill="#d60000"/>
<rect x="480.85" y="52.87" width="2.97" height="26.17" fill="#800000"/>
<rect x="483.52" y="52.87" width="2.97" height="26.17" fill="#800000"/>
<rect x="486.19" y="52.87" width="2.97" height="26.17" fill="#ff3000"/>
<rect x="488.85" y="52.87" width="2.97" height="26.17" fill="#1cffdb"/>
<rect x="491.52" y="52.87" width="2.97" height="26.17" fill="#0008ff"/>
<rect x="494.19" y="52.87" width="2.97" height="26.17" fill="#0000e3"/>
<rect x="576.88" y="52.87" width="2.97" height="26.17" fill="#0000e3"/>
<rect x="579.55" y="52.87" width="2.97" height="26.17" fill="#0010ff"/>
<rect x="582.22" y="52.87" width="2.97" height="26.17" fill="#39ffbe"/>
<rect x="584.88" y="52.87" width="2.97" height="26.17" fill="#ffa300"/>
<rect x="587.55" y="52.87" width="2.97" height="26.17" fill="#ff7e00"/>
<rect x="590.22" y="52.87" width="2.97" height="26.17" fill="#ffa700"/>
<rect x="592.88" y="52.87" width="2.97" height="26.17" fill="#ffab00"/>
<rect x="595.55" y="52.87" width="2.97" height="26.17" fill="#09f0ee"/>
<rect x="598.22" y="52.87" width="2.97" height="26.17" fill="#0004ff"/>
<rect x="600.89" y="52.87" width="2.97" height="26.17" fill="#0000e3"/>
<rect x="142.08" y="78.75" width="2.97" height="26.17" fill="#0000d6"/>
<rect x="144.75" y="78.75" width="2.97" height="26.17" fill="#0000ff"/>
<rect x="147.41" y="78.75" width="2.97" height="26.17" fill="#0068ff"/>
<rect x="150.08" y="78.75" width="2.97" height="26.17" fill="#ffe200"/>
<rect x="152.75" y="78.75" width="2.97" height="26.17" fill="#ff4300"/>
<rect x="155.42" y="78.75" width="2.97" height="26.17" fill="#df0000"/>
<rect x="158.08" y="78.75" width="2.97" height="26.17" fill="#ff2d00"/>
<rect x="160.75" y="78.75" width="2.97" height="26.17" fill="#ffe200"/>
<rect x="163.42" y="78.75" width="2.97" height="26.17" fill="#00bcff"/>
<rect x="166.09" y="78.75" width="2.97" height="26.17" fill="#0000ff"/>
<rect x="168.75" y="78.75" width="2.97" height="26.17" fill="#0000da"/>
<rect x="251.44" y="78.75" width="2.97" height="26.17" fill="#0000df"/>
<rect x="254.11" y="78.75" width="2.97" height="26.17" fill="#0000ff"/>
<rect x="256.78" y="78.75" width="2.97" height="26.17" fill="#00a4ff"/>
<rect x="259.45" y="78.75" width="2.97" height="26.17" fill="#ff9400"/>
<rect x="262.12" y="78.75" width="2.97" height="26.17" fill="#ff7e00"/>
<rect x="264.78" y="78.75" width="2.97" height="26.17" fill="#ff2d00"/>
<rect x="267.45" y="78.75" width="2.97" height="26.17" fill="#ff8900"/>
<rect x="270.12" y="78.75" width="2.97" height="26.17" fill="#97ff60"/>
<rect x="272.78" y="78.75" width="2.97" height="26.17" fill="#0044ff"/>
<rect x="275.45" y="78.75" width="2.97" height="26.17" fill="#0000f6"/>
<rect x="360.81" y="78.75" width="2.97" height="26.17" fill="#0000ed"/>
<rect x="363.48" y="78.75" width="2.97" height="26.17" fill="#0038ff"/>
<rect x="366.15" y="78.75" width="2.97" height="26.17" fill="#a0ff56"/>
<rect x="368.82" y="78.75" width="2.97" height="26.17" fill="#ff6000"/>
<rect x="371.48" y="78.75" width="2.97" height="26.17" fill="#ff7700"/>
<rect x="374.15" y="78.75" width="2.97" height="26.17" fill="#ff9400"/>
<rect x="376.82" y="78.75" width="2.97" height="26.17" fill="#ffb200"/>
<rect x="379.49" y="78.75" width="2.97" height="26.17" fill="#00dcfe"/>
<rect x="382.15" y="78.75" width="2.97" height="26.17" fill="#0000ff"/>
<rect x="384.82" y="78.75" width="2.97" height="26.17" fill="#0000e3"/>
<rect x="467.51" y="78.75" width="2.97" height="26.17" fill="#0000d1"/>
<rect x="470.18" y="78.75" width="2.97" height="26.17" fill="#0000ff"/>
<rect x="472.85" y="78.75" width="2.97" height="26.17" fill="#0060ff"/>
<rect x="475.51" y="78.75" width="2.97" height="26.17" fill="#b4ff43"/>
<rect x="478.18" y="78.75" width="2.97" height="26.17" fill="#ff1a00"/>
<rect x="480.85" y="78.75" width="2.97" height="26.17" fill="#ff5200"/>
<rect x="483.52" y="78.75" width="2.97" height="26.17" fill="#ff2900"/>
<rect x="486.19" y="78.75" width="2.97" height="26.17" fill="#deff19"/>
<rect x="488.85" y="78.75" width="2.97" height="26.17" fill="#007cff"/>
<rect x="491.52" y="78.75" width="2.97" height="26.17" fill="#0000ed"/>
<rect x="494.19" y="78.75" width="2.97" height="26.17" fill="#0000d6"/>
<rect x="576.88" y="78.75" width="2.97" height="26.17" fill="#0000e3"/>
<rect x="579.55" y="78.75" width="2.97" height="26.17" fill="#0020ff"/>
<rect x="582.22" y="78.75" width="2.97" height="26.17" fill="#33ffc4"/>
<rect x="584.88" y="78.75" width="2.97" height="26.17" fill="#ff4700"/>
<rect x="587.55" y="78.75" width="2.97" height="26.17" fill="#ff9f00"/>
<rect x="590.22" y="78.75" width="2.97" height="26.17" fill="#ff6c00"/>
<rect x="592.88" y="78.75" width="2.97" height="26.17" fill="#ffc800"/>
<rect x="595.55" y="78.75" width="2.97" height="26.17" fill="#2cffca"/>
<rect x="598.22" y="78.75" width="2.97" height="26.17" fill="#0004ff"/>
<rect x="600.89" y="78.75" width="2.97" height="26.17" fill="#0000e8"/>
<rect x="142.08" y="104.62" width="2.97" height="26.17" fill="#0000d1"/>
<rect x="144.75" y="104.62" width="2.97" height="26.17" fill="#0000f1"/>
<rect x="147.41" y="104.62" width="2.97" height="26.17" fill="#0048ff"/>
<rect x="150.08" y="104.62" width="2.97" height="26.17" fill="#90ff66"/>
<rect x="152.75" y="104.62" width="2.97" height="26.17" fill="#cd0000"/>
<rect x="155.42" y="104.62" width="2.97" height="26.17" fill="#ff2d00"/>
<rect x="158.08" y="104.62" width="2.97" height="26.17" fill="#c40000"/>
<rect x="160.75" y="104.62" width="2.97" height="26.17" fill="#ffa700"/>
<rect x="163.42" y="104.62" width="2.97" height="26.17" fill="#02e8f4"/>
<rect x="166.09" y="104.62" width="2.97" height="26.17" fill="#000cff"/>
<rect x="168.75" y="104.62" width="2.97" height="26.17" fill="#0000ed"/>
<rect x="251.44" y="104.62" width="2.97" height="26.17" fill="#0000ed"/>
<rect x="254.11" y="104.62" width="2.97" height="26.17" fill="#0000ff"/>
<rect x="256.78" y="104.62" width="2.97" height="26.17" fill="#00ccff"/>
<rect x="259.45" y="104.62" width="2.97" height="26.17" fill="#ff9400"/>
<rect x="262.12" y="104.62" width="2.97" height="26.17" fill="#ff7300"/>
<rect x="264.78" y="104.62" width="2.97" height="26.17" fill="#ff3000"/>
<rect x="267.45" y="104.62" width="2.97" height="26.17" fill="#ff1600"/>
<rect x="270.12" y="104.62" width="2.97" height="26.17" fill="#baff3c"/>
<rect x="272.78" y="104.62" width="2.97" height="26.17" fill="#0048ff"/>
<rect x="275.45" y="104.62" width="2.97" height="26.17" fill="#0000ed"/>
<rect x="360.81" y="104.62" width="2.97" height="26.17" fill="#0000f6"/>
<rect x="363.48" y="104.62" width="2.97" height="26.17" fill="#0024ff"/>
<rect x="366.15" y="104.62" width="2.97" height="26.17" fill="#66ff90"/>
<rect x="368.82" y="104.62" width="2.97" height="26.17" fill="#ff5900"/>
<rect x="371.48" y="104.62" width="2.97" height="26.17" fill="#ff6c00"/>
<rect x="374.15" y="104.62" width="2.97" height="26.17" fill="#e40000"/>
<rect x="376.82" y="104.62" width="2.97" height="26.17" fill="#ff8d00"/>
<rect x="379.49" y="104.62" width="2.97" height="26.17" fill="#2cffca"/>
<rect x="382.15" y="104.62" width="2.97" height="26.17" fill="#0000ff"/>
<rect x="384.82" y="104.62" width="2.97" height="26.17" fill="#0000df"/>
<rect x="467.51" y="104.62" width="2.97" height="26.17" fill="#0000cd"/>
<rect x="470.18" y="104.62" width="2.97" height="26.17" fill="#0000f6"/>
<rect x="472.85" y="104.62" width="2.97" height="26.17" fill="#0034ff"/>
<rect x="475.51" y="104.62" width="2.97" height="26.17" fill="#8dff6a"/>
<rect x="478.18" y="104.62" width="2.97" height="26.17" fill="#ffd000"/>
<rect x="480.85" y="104.62" width="2.97" height="26.17" fill="#ffd000"/>
<rect x="483.52" y="104.62" width="2.97" height="26.17" fill="#ffdb00"/>
<rect x="486.19" y="104.62" width="2.97" height="26.17" fill="#baff3c"/>
<rect x="488.85" y="104.62" width="2.97" height="26.17" fill="#006cff"/>
<rect x="491.52" y="104.62" width="2.97" height="26.17" fill="#0000fa"/>
<rect x="494.19" y="104.62" width="2.97" height="26.17" fill="#0000d1"/>
<rect x="576.88" y="104.62" width="2.97" height="26.17" fill="#0000df"/>
<rect x="579.55" y="104.62" width="2.97" height="26.17" fill="#000cff"/>
<rect x="582.22" y="104.62" width="2.97" height="26.17" fill="#26ffd1"/>
<rect x="584.88" y="104.62" width="2.97" height="26.17" fill="#ffc100"/>
<rect x="587.55" y="104.62" width="2.97" height="26.17" fill="#ff8200"/>
<rect x="590.22" y="104.62" width="2.97" height="26.17" fill="#ff6c00"/>
<rect x="592.88" y="104.62" width="2.97" height="26.17" fill="#ff8d00"/>
<rect x="595.55" y="104.62" width="2.97" height="26.17" fill="#49ffad"/>
<rect x="598.22" y="104.62" width="2.97" height="26.17" fill="#001cff"/>
<rect x="600.89" y="104.62" width="2.97" height="26.17" fill="#0000e8"/>
<rect x="142.08" y="130.49" width="2.97" height="26.17" fill="#0000df"/>
<rect x="144.75" y="130.49" width="2.97" height="26.17" fill="#0000f6"/>
<rect x="147.41" y="130.49" width="2.97" height="26.17" fill="#0054ff"/>
<rect x="150.08" y="130.49" width="2.97" height="26.17" fill="#beff39"/>
<rect x="152.75" y="130.49" width="2.97" height="26.17" fill="#ff9100"/>
<rect x="155.42" y="130.49" width="2.97" height="26.17" fill="#ff8200"/>
<rect x="158.08" y="130.49" width="2.97" height="26.17" fill="#ff7a00"/>
<rect x="160.75" y="130.49" width="2.97" height="26.17" fill="#ceff29"/>
<rect x="163.42" y="130.49" width="2.97" height="26.17" fill="#006cff"/>
<rect x="166.09" y="130.49" width="2.97" height="26.17" fill="#0000f1"/>
<rect x="168.75" y="130.49" width="2.97" height="26.17" fill="#0000da"/>
<rect x="251.44" y="130.49" width="2.97" height="26.17" fill="#0000df"/>
<rect x="254.11" y="130.49" width="2.97" height="26.17" fill="#0020ff"/>
<rect x="256.78" y="130.49" width="2.97" height="26.17" fill="#73ff83"/>
<rect x="259.45" y="130.49" width="2.97" height="26.17" fill="#ff7e00"/>
<rect x="262.12" y="130.49" width="2.97" height="26.17" fill="#ff5500"/>
<rect x="264.78" y="130.49" width="2.97" height="26.17" fill="#ff5900"/>
<rect x="267.45" y="130.49" width="2.97" height="26.17" fill="#ff9800"/>
<rect x="270.12" y="130.49" width="2.97" height="26.17" fill="#23ffd4"/>
<rect x="272.78" y="130.49" width="2.97" height="26.17" fill="#0008ff"/>
<rect x="275.45" y="130.49" width="2.97" height="26.17" fill="#0000e8"/>
<rect x="360.81" y="130.49" width="2.97" height="26.17" fill="#0000ff"/>
<rect x="363.48" y="130.49" width="2.97" height="26.17" fill="#0098ff"/>
<rect x="366.15" y="130.49" width="2.97" height="26.17" fill="#ffd000"/>
<rect x="368.82" y="130.49" width="2.97" height="26.17" fill="#ff1600"/>
<rect x="371.48" y="130.49" width="2.97" height="26.17" fill="#f10800"/>
<rect x="374.15" y="130.49" width="2.97" height="26.17" fill="#ff4700"/>
<rect x="376.82" y="130.49" width="2.97" height="26.17" fill="#ffde00"/>
<rect x="379.49" y="130.49" width="2.97" height="26.17" fill="#0098ff"/>
<rect x="382.15" y="130.49" width="2.97" height="26.17" fill="#0000ff"/>
<rect x="384.82" y="130.49" width="2.97" height="26.17" fill="#0000e3"/>
<rect x="467.51" y="130.49" width="2.97" height="26.17" fill="#0000d1"/>
<rect x="470.18" y="130.49" width="2.97" height="26.17" fill="#0000e3"/>
<rect x="472.85" y="130.49" width="2.97" height="26.17" fill="#0034ff"/>
<rect x="475.51" y="130.49" width="2.97" height="26.17" fill="#6aff8d"/>
<rect x="478.18" y="130.49" width="2.97" height="26.17" fill="#ff8600"/>
<rect x="480.85" y="130.49" width="2.97" height="26.17" fill="#ff5d00"/>
<rect x="483.52" y="130.49" width="2.97" height="26.17" fill="#ff2900"/>
<rect x="486.19" y="130.49" width="2.97" height="26.17" fill="#ffa700"/>
<rect x="488.85" y="130.49" width="2.97" height="26.17" fill="#02e8f4"/>
<rect x="491.52" y="130.49" width="2.97" height="26.17" fill="#0000ff"/>
<rect x="494.19" y="130.49" width="2.97" height="26.17" fill="#0000df"/>
<rect x="576.88" y="130.49" width="2.97" height="26.17" fill="#0000e3"/>
<rect x="579.55" y="130.49" width="2.97" height="26.17" fill="#0008ff"/>
<rect x="582.22" y="130.49" width="2.97" height="26.17" fill="#0ff8e7"/>
<rect x="584.88" y="130.49" width="2.97" height="26.17" fill="#e1ff16"/>
<rect x="587.55" y="130.49" width="2.97" height="26.17" fill="#ff9c00"/>
<rect x="590.22" y="130.49" width="2.97" height="26.17" fill="#ff7e00"/>
<rect x="592.88" y="130.49" width="2.97" height="26.17" fill="#feed00"/>
<rect x="595.55" y="130.49" width="2.97" height="26.17" fill="#30ffc7"/>
<rect x="598.22" y="130.49" width="2.97" height="26.17" fill="#0014ff"/>
<rect x="600.89" y="130.49" width="2.97" height="26.17" fill="#0000e3"/>
<rect x="142.08" y="156.37" width="2.97" height="26.17" fill="#0000d1"/>
<rect x="144.75" y="156.37" width="2.97" height="26.17" fill="#0000f1"/>
<rect x="147.41" y="156.37" width="2.97" height="26.17" fill="#0024ff"/>
<rect x="150.08" y="156.37" width="2.97" height="26.17" fill="#87ff70"/>
<rect x="152.75" y="156.37" width="2.97" height="26.17" fill="#ff7700"/>
<rect x="155.42" y="156.37" width="2.97" height="26.17" fill="#ff4300"/>
<rect x="158.08" y="156.37" width="2.97" height="26.17" fill="#ff1300"/>
<rect x="160.75" y="156.37" width="2.97" height="26.17" fill="#ffd700"/>
<rect x="163.42" y="156.37" width="2.97" height="26.17" fill="#16ffe1"/>
<rect x="166.09" y="156.37" width="2.97" height="26.17" fill="#0010ff"/>
<rect x="168.75" y="156.37" width="2.97" height="26.17" fill="#0000df"/>
<rect x="251.44" y="156.37" width="2.97" height="26.17" fill="#0000e8"/>
<rect x="254.11" y="156.37" width="2.97" height="26.17" fill="#0030ff"/>
<rect x="256.78" y="156.37" width="2.97" height="26.17" fill="#63ff94"/>
<rect x="259.45" y="156.37" width="2.97" height="26.17" fill="#ffc800"/>
<rect x="262.12" y="156.37" width="2.97" height="26.17" fill="#ff8900"/>
<rect x="264.78" y="156.37" width="2.97" height="26.17" fill="#ff5900"/>
<rect x="267.45" y="156.37" width="2.97" height="26.17" fill="#ffc400"/>
<rect x="270.12" y="156.37" width="2.97" height="26.17" fill="#00e0fb"/>
<rect x="272.78" y="156.37" width="2.97" height="26.17" fill="#0004ff"/>
<rect x="275.45" y="156.37" width="2.97" height="26.17" fill="#0000df"/>
<rect x="360.81" y="156.37" width="2.97" height="26.17" fill="#0000fa"/>
<rect x="363.48" y="156.37" width="2.97" height="26.17" fill="#0060ff"/>
<rect x="366.15" y="156.37" width="2.97" height="26.17" fill="#adff49"/>
<rect x="368.82" y="156.37" width="2.97" height="26.17" fill="#ff7e00"/>
<rect x="371.48" y="156.37" width="2.97" height="26.17" fill="#ff9c00"/>
<rect x="374.15" y="156.37" width="2.97" height="26.17" fill="#ffa300"/>
<rect x="376.82" y="156.37" width="2.97" height="26.17" fill="#f1fc06"/>
<rect x="379.49" y="156.37" width="2.97" height="26.17" fill="#0068ff"/>
<rect x="382.15" y="156.37" width="2.97" height="26.17" fill="#0000f6"/>
<rect x="384.82" y="156.37" width="2.97" height="26.17" fill="#0000da"/>
<rect x="467.51" y="156.37" width="2.97" height="26.17" fill="#0000da"/>
<rect x="470.18" y="156.37" width="2.97" height="26.17" fill="#0000ff"/>
<rect x="472.85" y="156.37" width="2.97" height="26.17" fill="#0090ff"/>
<rect x="475.51" y="156.37" width="2.97" height="26.17" fill="#e1ff16"/>
<rect x="478.18" y="156.37" width="2.97" height="26.17" fill="#ff7a00"/>
<rect x="480.85" y="156.37" width="2.97" height="26.17" fill="#ff4a00"/>
<rect x="483.52" y="156.37" width="2.97" height="26.17" fill="#ffa700"/>
<rect x="486.19" y="156.37" width="2.97" height="26.17" fill="#aaff4d"/>
<rect x="488.85" y="156.37" width="2.97" height="26.17" fill="#0060ff"/>
<rect x="491.52" y="156.37" width="2.97" height="26.17" fill="#0000f1"/>
<rect x="494.19" y="156.37" width="2.97" height="26.17" fill="#0000df"/>
<rect x="576.88" y="156.37" width="2.97" height="26.17" fill="#0000ed"/>
<rect x="579.55" y="156.37" width="2.97" height="26.17" fill="#0004ff"/>
<rect x="582.22" y="156.37" width="2.97" height="26.17" fill="#26ffd1"/>
<rect x="584.88" y="156.37" width="2.97" height="26.17" fill="#ff5d00"/>
<rect x="587.55" y="156.37" width="2.97" height="26.17" fill="#960000"/>
<rect x="590.22" y="156.37" width="2.97" height="26.17" fill="#c80000"/>
<rect x="592.88" y="156.37" width="2.97" height="26.17" fill="#da0000"/>
<rect x="595.55" y="156.37" width="2.97" height="26.17" fill="#6dff8a"/>
<rect x="598.22" y="156.37" width="2.97" height="26.17" fill="#0030ff"/>
<rect x="600.89" y="156.37" width="2.97" height="26.17" fill="#0000f6"/>
<rect x="142.08" y="182.24" width="2.97" height="26.17" fill="#0000da"/>
<rect x="144.75" y="182.24" width="2.97" height="26.17" fill="#0000fa"/>
<rect x="147.41" y="182.24" width="2.97" height="26.17" fill="#0078ff"/>
<rect x="150.08" y="182.24" width="2.97" height="26.17" fill="#d1ff26"/>
<rect x="152.75" y="182.24" width="2.97" height="26.17" fill="#ffa300"/>
<rect x="155.42" y="182.24" width="2.97" height="26.17" fill="#ff7300"/>
<rect x="158.08" y="182.24" width="2.97" height="26.17" fill="#ffde00"/>
<rect x="160.75" y="182.24" width="2.97" height="26.17" fill="#baff3c"/>
<rect x="163.42" y="182.24" width="2.97" height="26.17" fill="#0068ff"/>
<rect x="166.09" y="182.24" width="2.97" height="26.17" fill="#0000f6"/>
<rect x="168.75" y="182.24" width="2.97" height="26.17" fill="#0000da"/>
<rect x="251.44" y="182.24" width="2.97" height="26.17" fill="#0000ed"/>
<rect x="254.11" y="182.24" width="2.97" height="26.17" fill="#0000ff"/>
<rect x="256.78" y="182.24" width="2.97" height="26.17" fill="#1cffdb"/>
<rect x="259.45" y="182.24" width="2.97" height="26.17" fill="#ffe200"/>
<rect x="262.12" y="182.24" width="2.97" height="26.17" fill="#ff5200"/>
<rect x="264.78" y="182.24" width="2.97" height="26.17" fill="#ff5d00"/>
<rect x="267.45" y="182.24" width="2.97" height="26.17" fill="#ff9800"/>
<rect x="270.12" y="182.24" width="2.97" height="26.17" fill="#77ff80"/>
<rect x="272.78" y="182.24" width="2.97" height="26.17" fill="#0018ff"/>
<rect x="275.45" y="182.24" width="2.97" height="26.17" fill="#0000ed"/>
<rect x="360.81" y="182.24" width="2.97" height="26.17" fill="#0000e8"/>
<rect x="363.48" y="182.24" width="2.97" height="26.17" fill="#0014ff"/>
<rect x="366.15" y="182.24" width="2.97" height="26.17" fill="#87ff70"/>
<rect x="368.82" y="182.24" width="2.97" height="26.17" fill="#ffb900"/>
<rect x="371.48" y="182.24" width="2.97" height="26.17" fill="#ff9f00"/>
<rect x="374.15" y="182.24" width="2.97" height="26.17" fill="#ff4e00"/>
<rect x="376.82" y="182.24" width="2.97" height="26.17" fill="#ffd700"/>
<rect x="379.49" y="182.24" width="2.97" height="26.17" fill="#00d8ff"/>
<rect x="382.15" y="182.24" width="2.97" height="26.17" fill="#0000fa"/>
<rect x="384.82" y="182.24" width="2.97" height="26.17" fill="#0000df"/>
<rect x="467.51" y="182.24" width="2.97" height="26.17" fill="#0000da"/>
<rect x="470.18" y="182.24" width="2.97" height="26.17" fill="#0004ff"/>
<rect x="472.85" y="182.24" width="2.97" height="26.17" fill="#00bcff"/>
<rect x="475.51" y="182.24" width="2.97" height="26.17" fill="#ff8600"/>
<rect x="478.18" y="182.24" width="2.97" height="26.17" fill="#ff3f00"/>
<rect x="480.85" y="182.24" width="2.97" height="26.17" fill="#ff1e00"/>
<rect x="483.52" y="182.24" width="2.97" height="26.17" fill="#ff2900"/>
<rect x="486.19" y="182.24" width="2.97" height="26.17" fill="#ceff29"/>
<rect x="488.85" y="182.24" width="2.97" height="26.17" fill="#0050ff"/>
<rect x="491.52" y="182.24" width="2.97" height="26.17" fill="#0000ff"/>
<rect x="494.19" y="182.24" width="2.97" height="26.17" fill="#0000e3"/>
<rect x="576.88" y="182.24" width="2.97" height="26.17" fill="#0000f1"/>
<rect x="579.55" y="182.24" width="2.97" height="26.17" fill="#0014ff"/>
<rect x="582.22" y="182.24" width="2.97" height="26.17" fill="#66ff90"/>
<rect x="584.88" y="182.24" width="2.97" height="26.17" fill="#ff4e00"/>
<rect x="587.55" y="182.24" width="2.97" height="26.17" fill="#ff3f00"/>
<rect x="590.22" y="182.24" width="2.97" height="26.17" fill="#ff4a00"/>
<rect x="592.88" y="182.24" width="2.97" height="26.17" fill="#ffb200"/>
<rect x="595.55" y="182.24" width="2.97" height="26.17" fill="#16ffe1"/>
<rect x="598.22" y="182.24" width="2.97" height="26.17" fill="#0014ff"/>
<rect x="600.89" y="182.24" width="2.97" height="26.17" fill="#0000e3"/>
<rect x="142.08" y="208.12" width="2.97" height="26.17" fill="#0000d6"/>
<rect x="144.75" y="208.12" width="2.97" height="26.17" fill="#0000ff"/>
<rect x="147.41" y="208.12" width="2.97" height="26.17" fill="#0060ff"/>
<rect x="150.08" y="208.12" width="2.97" height="26.17" fill="#c1ff36"/>
<rect x="152.75" y="208.12" width="2.97" height="26.17" fill="#ffb600"/>
<rect x="155.42" y="208.12" width="2.97" height="26.17" fill="#ff8200"/>
<rect x="158.08" y="208.12" width="2.97" height="26.17" fill="#ff3b00"/>
<rect x="160.75" y="208.12" width="2.97" height="26.17" fill="#baff3c"/>
<rect x="163.42" y="208.12" width="2.97" height="26.17" fill="#0070ff"/>
<rect x="166.09" y="208.12" width="2.97" height="26.17" fill="#0000f6"/>
<rect x="168.75" y="208.12" width="2.97" height="26.17" fill="#0000d6"/>
<rect x="251.44" y="208.12" width="2.97" height="26.17" fill="#0000e3"/>
<rect x="254.11" y="208.12" width="2.97" height="26.17" fill="#0000f1"/>
<rect x="256.78" y="208.12" width="2.97" height="26.17" fill="#00a0ff"/>
<rect x="259.45" y="208.12" width="2.97" height="26.17" fill="#ffe600"/>
<rect x="262.12" y="208.12" width="2.97" height="26.17" fill="#ff5d00"/>
<rect x="264.78" y="208.12" width="2.97" height="26.17" fill="#ff3400"/>
<rect x="267.45" y="208.12" width="2.97" height="26.17" fill="#ff6800"/>
<rect x="270.12" y="208.12" width="2.97" height="26.17" fill="#beff39"/>
<rect x="272.78" y="208.12" width="2.97" height="26.17" fill="#0044ff"/>
<rect x="275.45" y="208.12" width="2.97" height="26.17" fill="#0000f6"/>
<rect x="360.81" y="208.12" width="2.97" height="26.17" fill="#0000fa"/>
<rect x="363.48" y="208.12" width="2.97" height="26.17" fill="#0034ff"/>
<rect x="366.15" y="208.12" width="2.97" height="26.17" fill="#90ff66"/>
<rect x="368.82" y="208.12" width="2.97" height="26.17" fill="#ff9100"/>
<rect x="371.48" y="208.12" width="2.97" height="26.17" fill="#ff7e00"/>
<rect x="374.15" y="208.12" width="2.97" height="26.17" fill="#ff9400"/>
<rect x="376.82" y="208.12" width="2.97" height="26.17" fill="#ebff0c"/>
<rect x="379.49" y="208.12" width="2.97" height="26.17" fill="#0088ff"/>
<rect x="382.15" y="208.12" width="2.97" height="26.17" fill="#0000ff"/>
<rect x="384.82" y="208.12" width="2.97" height="26.17" fill="#0000d6"/>
<rect x="467.51" y="208.12" width="2.97" height="26.17" fill="#0000df"/>
<rect x="470.18" y="208.12" width="2.97" height="26.17" fill="#000cff"/>
<rect x="472.85" y="208.12" width="2.97" height="26.17" fill="#26ffd1"/>
<rect x="475.51" y="208.12" width="2.97" height="26.17" fill="#ff9f00"/>
<rect x="478.18" y="208.12" width="2.97" height="26.17" fill="#ff7e00"/>
<rect x="480.85" y="208.12" width="2.97" height="26.17" fill="#ff8600"/>
<rect x="483.52" y="208.12" width="2.97" height="26.17" fill="#ffb900"/>
<rect x="486.19" y="208.12" width="2.97" height="26.17" fill="#09f0ee"/>
<rect x="488.85" y="208.12" width="2.97" height="26.17" fill="#0000ff"/>
<rect x="491.52" y="208.12" width="2.97" height="26.17" fill="#0000e3"/>
<rect x="494.19" y="208.12" width="2.97" height="26.17" fill="#0000da"/>
<rect x="576.88" y="208.12" width="2.97" height="26.17" fill="#0000f1"/>
<rect x="579.55" y="208.12" width="2.97" height="26.17" fill="#0028ff"/>
<rect x="582.22" y="208.12" width="2.97" height="26.17" fill="#56ffa0"/>
<rect x="584.88" y="208.12" width="2.97" height="26.17" fill="#ffd000"/>
<rect x="587.55" y="208.12" width="2.97" height="26.17" fill="#ff6800"/>
<rect x="590.22" y="208.12" width="2.97" height="26.17" fill="#ff8200"/>
<rect x="592.88" y="208.12" width="2.97" height="26.17" fill="#ffde00"/>
<rect x="595.55" y="208.12" width="2.97" height="26.17" fill="#00d8ff"/>
<rect x="598.22" y="208.12" width="2.97" height="26.17" fill="#0000ff"/>
<rect x="600.89" y="208.12" width="2.97" height="26.17" fill="#0000df"/>
<rect x="142.08" y="233.99" width="2.97" height="26.17" fill="#0000d6"/>
<rect x="144.75" y="233.99" width="2.97" height="26.17" fill="#0000ed"/>
<rect x="147.41" y="233.99" width="2.97" height="26.17" fill="#0064ff"/>
<rect x="150.08" y="233.99" width="2.97" height="26.17" fill="#87ff70"/>
<rect x="152.75" y="233.99" width="2.97" height="26.17" fill="#ebff0c"/>
<rect x="155.42" y="233.99" width="2.97" height="26.17" fill="#ffbd00"/>
<rect x="158.08" y="233.99" width="2.97" height="26.17" fill="#ffae00"/>
<rect x="160.75" y="233.99" width="2.97" height="26.17" fill="#d1ff26"/>
<rect x="163.42" y="233.99" width="2.97" height="26.17" fill="#005cff"/>
<rect x="166.09" y="233.99" width="2.97" height="26.17" fill="#0000f1"/>
<rect x="168.75" y="233.99" width="2.97" height="26.17" fill="#0000cd"/>
<rect x="251.44" y="233.99" width="2.97" height="26.17" fill="#0000e3"/>
<rect x="254.11" y="233.99" width="2.97" height="26.17" fill="#0000fa"/>
<rect x="256.78" y="233.99" width="2.97" height="26.17" fill="#004cff"/>
<rect x="259.45" y="233.99" width="2.97" height="26.17" fill="#baff3c"/>
<rect x="262.12" y="233.99" width="2.97" height="26.17" fill="#ffab00"/>
<rect x="264.78" y="233.99" width="2.97" height="26.17" fill="#ff6c00"/>
<rect x="267.45" y="233.99" width="2.97" height="26.17" fill="#ff6c00"/>
<rect x="270.12" y="233.99" width="2.97" height="26.17" fill="#ffea00"/>
<rect x="272.78" y="233.99" width="2.97" height="26.17" fill="#005cff"/>
<rect x="275.45" y="233.99" width="2.97" height="26.17" fill="#0000ff"/>
<rect x="360.81" y="233.99" width="2.97" height="26.17" fill="#0000e8"/>
<rect x="363.48" y="233.99" width="2.97" height="26.17" fill="#0000ff"/>
<rect x="366.15" y="233.99" width="2.97" height="26.17" fill="#00d4ff"/>
<rect x="368.82" y="233.99" width="2.97" height="26.17" fill="#ffbd00"/>
<rect x="371.48" y="233.99" width="2.97" height="26.17" fill="#ff9400"/>
<rect x="374.15" y="233.99" width="2.97" height="26.17" fill="#ff8d00"/>
<rect x="376.82" y="233.99" width="2.97" height="26.17" fill="#ffbd00"/>
<rect x="379.49" y="233.99" width="2.97" height="26.17" fill="#7aff7d"/>
<rect x="382.15" y="233.99" width="2.97" height="26.17" fill="#0034ff"/>
<rect x="384.82" y="233.99" width="2.97" height="26.17" fill="#0000f1"/>
<rect x="467.51" y="233.99" width="2.97" height="26.17" fill="#0000df"/>
<rect x="470.18" y="233.99" width="2.97" height="26.17" fill="#0000ff"/>
<rect x="472.85" y="233.99" width="2.97" height="26.17" fill="#0088ff"/>
<rect x="475.51" y="233.99" width="2.97" height="26.17" fill="#dbff1c"/>
<rect x="478.18" y="233.99" width="2.97" height="26.17" fill="#ff3800"/>
<rect x="480.85" y="233.99" width="2.97" height="26.17" fill="#ff6c00"/>
<rect x="483.52" y="233.99" width="2.97" height="26.17" fill="#ff5d00"/>
<rect x="486.19" y="233.99" width="2.97" height="26.17" fill="#c1ff36"/>
<rect x="488.85" y="233.99" width="2.97" height="26.17" fill="#0064ff"/>
<rect x="491.52" y="233.99" width="2.97" height="26.17" fill="#0000f1"/>
<rect x="494.19" y="233.99" width="2.97" height="26.17" fill="#0000d1"/>
<rect x="576.88" y="233.99" width="2.97" height="26.17" fill="#0000e3"/>
<rect x="579.55" y="233.99" width="2.97" height="26.17" fill="#0000ff"/>
<rect x="582.22" y="233.99" width="2.97" height="26.17" fill="#02e8f4"/>
<rect x="584.88" y="233.99" width="2.97" height="26.17" fill="#e7ff0f"/>
<rect x="587.55" y="233.99" width="2.97" height="26.17" fill="#ffb900"/>
<rect x="590.22" y="233.99" width="2.97" height="26.17" fill="#ffa300"/>
<rect x="592.88" y="233.99" width="2.97" height="26.17" fill="#eeff09"/>
<rect x="595.55" y="233.99" width="2.97" height="26.17" fill="#19ffde"/>
<rect x="598.22" y="233.99" width="2.97" height="26.17" fill="#0008ff"/>
<rect x="600.89" y="233.99" width="2.97" height="26.17" fill="#0000df"/>
<rect x="142.08" y="259.86" width="2.97" height="26.17" fill="#0000d6"/>
<rect x="144.75" y="259.86" width="2.97" height="26.17" fill="#0000e3"/>
<rect x="147.41" y="259.86" width="2.97" height="26.17" fill="#0050ff"/>
<rect x="150.08" y="259.86" width="2.97" height="26.17" fill="#adff49"/>
<rect x="152.75" y="259.86" width="2.97" height="26.17" fill="#ff8900"/>
<rect x="155.42" y="259.86" width="2.97" height="26.17" fill="#ff3b00"/>
<rect x="158.08" y="259.86" width="2.97" height="26.17" fill="#ff6c00"/>
<rect x="160.75" y="259.86" width="2.97" height="26.17" fill="#ffc800"/>
<rect x="163.42" y="259.86" width="2.97" height="26.17" fill="#00d8ff"/>
<rect x="166.09" y="259.86" width="2.97" height="26.17" fill="#0000ff"/>
<rect x="168.75" y="259.86" width="2.97" height="26.17" fill="#0000df"/>
<rect x="251.44" y="259.86" width="2.97" height="26.17" fill="#0000e3"/>
<rect x="254.11" y="259.86" width="2.97" height="26.17" fill="#0004ff"/>
<rect x="256.78" y="259.86" width="2.97" height="26.17" fill="#00e0fb"/>
<rect x="259.45" y="259.86" width="2.97" height="26.17" fill="#ff6000"/>
<rect x="262.12" y="259.86" width="2.97" height="26.17" fill="#b20000"/>
<rect x="264.78" y="259.86" width="2.97" height="26.17" fill="#ff3b00"/>
<rect x="267.45" y="259.86" width="2.97" height="26.17" fill="#ff5d00"/>
<rect x="270.12" y="259.86" width="2.97" height="26.17" fill="#caff2c"/>
<rect x="272.78" y="259.86" width="2.97" height="26.17" fill="#0040ff"/>
<rect x="275.45" y="259.86" width="2.97" height="26.17" fill="#0000f6"/>
<rect x="360.81" y="259.86" width="2.97" height="26.17" fill="#0000f1"/>
<rect x="363.48" y="259.86" width="2.97" height="26.17" fill="#0040ff"/>
<rect x="366.15" y="259.86" width="2.97" height="26.17" fill="#87ff70"/>
<rect x="368.82" y="259.86" width="2.97" height="26.17" fill="#ff4a00"/>
<rect x="371.48" y="259.86" width="2.97" height="26.17" fill="#ff1e00"/>
<rect x="374.15" y="259.86" width="2.97" height="26.17" fill="#ff4e00"/>
<rect x="376.82" y="259.86" width="2.97" height="26.17" fill="#ff9800"/>
<rect x="379.49" y="259.86" width="2.97" height="26.17" fill="#00dcfe"/>
<rect x="382.15" y="259.86" width="2.97" height="26.17" fill="#0008ff"/>
<rect x="384.82" y="259.86" width="2.97" height="26.17" fill="#0000e3"/>
<rect x="467.51" y="259.86" width="2.97" height="26.17" fill="#0000da"/>
<rect x="470.18" y="259.86" width="2.97" height="26.17" fill="#0000f1"/>
<rect x="472.85" y="259.86" width="2.97" height="26.17" fill="#0058ff"/>
<rect x="475.51" y="259.86" width="2.97" height="26.17" fill="#e4ff13"/>
<rect x="478.18" y="259.86" width="2.97" height="26.17" fill="#ff2200"/>
<rect x="480.85" y="259.86" width="2.97" height="26.17" fill="#ff1e00"/>
<rect x="483.52" y="259.86" width="2.97" height="26.17" fill="#ff2500"/>
<rect x="486.19" y="259.86" width="2.97" height="26.17" fill="#ffcc00"/>
<rect x="488.85" y="259.86" width="2.97" height="26.17" fill="#00b0ff"/>
<rect x="491.52" y="259.86" width="2.97" height="26.17" fill="#0000fa"/>
<rect x="494.19" y="259.86" width="2.97" height="26.17" fill="#0000df"/>
<rect x="576.88" y="259.86" width="2.97" height="26.17" fill="#0000e3"/>
<rect x="579.55" y="259.86" width="2.97" height="26.17" fill="#001cff"/>
<rect x="582.22" y="259.86" width="2.97" height="26.17" fill="#6dff8a"/>
<rect x="584.88" y="259.86" width="2.97" height="26.17" fill="#ff7e00"/>
<rect x="587.55" y="259.86" width="2.97" height="26.17" fill="#ff7300"/>
<rect x="590.22" y="259.86" width="2.97" height="26.17" fill="#ff3b00"/>
<rect x="592.88" y="259.86" width="2.97" height="26.17" fill="#ff3f00"/>
<rect x="595.55" y="259.86" width="2.97" height="26.17" fill="#5dff9a"/>
<rect x="598.22" y="259.86" width="2.97" height="26.17" fill="#0010ff"/>
<rect x="600.89" y="259.86" width="2.97" height="26.17" fill="#0000e8"/>
<rect x="142.08" y="285.74" width="2.97" height="26.17" fill="#0000da"/>
<rect x="144.75" y="285.74" width="2.97" height="26.17" fill="#0000f1"/>
<rect x="147.41" y="285.74" width="2.97" height="26.17" fill="#0038ff"/>
<rect x="150.08" y="285.74" width="2.97" height="26.17" fill="#6aff8d"/>
<rect x="152.75" y="285.74" width="2.97" height="26.17" fill="#ff9100"/>
<rect x="155.42" y="285.74" width="2.97" height="26.17" fill="#ff7300"/>
<rect x="158.08" y="285.74" width="2.97" height="26.17" fill="#ff8d00"/>
<rect x="160.75" y="285.74" width="2.97" height="26.17" fill="#e4ff13"/>
<rect x="163.42" y="285.74" width="2.97" height="26.17" fill="#00d8ff"/>
<rect x="166.09" y="285.74" width="2.97" height="26.17" fill="#000cff"/>
<rect x="168.75" y="285.74" width="2.97" height="26.17" fill="#0000df"/>
<rect x="251.44" y="285.74" width="2.97" height="26.17" fill="#0000e3"/>
<rect x="254.11" y="285.74" width="2.97" height="26.17" fill="#0008ff"/>
<rect x="256.78" y="285.74" width="2.97" height="26.17" fill="#1cffdb"/>
<rect x="259.45" y="285.74" width="2.97" height="26.17" fill="#ffe600"/>
<rect x="262.12" y="285.74" width="2.97" height="26.17" fill="#ffb200"/>
<rect x="264.78" y="285.74" width="2.97" height="26.17" fill="#ff7300"/>
<rect x="267.45" y="285.74" width="2.97" height="26.17" fill="#ff8200"/>
<rect x="270.12" y="285.74" width="2.97" height="26.17" fill="#13fce4"/>
<rect x="272.78" y="285.74" width="2.97" height="26.17" fill="#001cff"/>
<rect x="275.45" y="285.74" width="2.97" height="26.17" fill="#0000ed"/>
<rect x="360.81" y="285.74" width="2.97" height="26.17" fill="#0000f6"/>
<rect x="363.48" y="285.74" width="2.97" height="26.17" fill="#0038ff"/>
<rect x="366.15" y="285.74" width="2.97" height="26.17" fill="#90ff66"/>
<rect x="368.82" y="285.74" width="2.97" height="26.17" fill="#ff3f00"/>
<rect x="371.48" y="285.74" width="2.97" height="26.17" fill="#ff1a00"/>
<rect x="374.15" y="285.74" width="2.97" height="26.17" fill="#e40000"/>
<rect x="376.82" y="285.74" width="2.97" height="26.17" fill="#ff5500"/>
<rect x="379.49" y="285.74" width="2.97" height="26.17" fill="#26ffd1"/>
<rect x="382.15" y="285.74" width="2.97" height="26.17" fill="#001cff"/>
<rect x="384.82" y="285.74" width="2.97" height="26.17" fill="#0000e8"/>
<rect x="467.51" y="285.74" width="2.97" height="26.17" fill="#0000cd"/>
<rect x="470.18" y="285.74" width="2.97" height="26.17" fill="#0000e8"/>
<rect x="472.85" y="285.74" width="2.97" height="26.17" fill="#002cff"/>
<rect x="475.51" y="285.74" width="2.97" height="26.17" fill="#50ffa7"/>
<rect x="478.18" y="285.74" width="2.97" height="26.17" fill="#ffb600"/>
<rect x="480.85" y="285.74" width="2.97" height="26.17" fill="#ffb200"/>
<rect x="483.52" y="285.74" width="2.97" height="26.17" fill="#ffb200"/>
<rect x="486.19" y="285.74" width="2.97" height="26.17" fill="#e4ff13"/>
<rect x="488.85" y="285.74" width="2.97" height="26.17" fill="#00d4ff"/>
<rect x="491.52" y="285.74" width="2.97" height="26.17" fill="#0000ff"/>
<rect x="494.19" y="285.74" width="2.97" height="26.17" fill="#0000df"/>
<rect x="576.88" y="285.74" width="2.97" height="26.17" fill="#0000e8"/>
<rect x="579.55" y="285.74" width="2.97" height="26.17" fill="#0014ff"/>
<rect x="582.22" y="285.74" width="2.97" height="26.17" fill="#36ffc1"/>
<rect x="584.88" y="285.74" width="2.97" height="26.17" fill="#ff7700"/>
<rect x="587.55" y="285.74" width="2.97" height="26.17" fill="#ff6800"/>
<rect x="590.22" y="285.74" width="2.97" height="26.17" fill="#ff6400"/>
<rect x="592.88" y="285.74" width="2.97" height="26.17" fill="#ff4300"/>
<rect x="595.55" y="285.74" width="2.97" height="26.17" fill="#83ff73"/>
<rect x="598.22" y="285.74" width="2.97" height="26.17" fill="#0020ff"/>
<rect x="600.89" y="285.74" width="2.97" height="26.17" fill="#0000f6"/>
<rect x="142.08" y="311.61" width="2.97" height="26.17" fill="#0000d6"/>
<rect x="144.75" y="311.61" width="2.97" height="26.17" fill="#0000da"/>
<rect x="147.41" y="311.61" width="2.97" height="26.17" fill="#0030ff"/>
<rect x="150.08" y="311.61" width="2.97" height="26.17" fill="#a0ff56"/>
<rect x="152.75" y="311.61" width="2.97" height="26.17" fill="#ff2200"/>
<rect x="155.42" y="311.61" width="2.97" height="26.17" fill="#ff3800"/>
<rect x="158.08" y="311.61" width="2.97" height="26.17" fill="#d60000"/>
<rect x="160.75" y="311.61" width="2.97" height="26.17" fill="#ffa300"/>
<rect x="163.42" y="311.61" width="2.97" height="26.17" fill="#1cffdb"/>
<rect x="166.09" y="311.61" width="2.97" height="26.17" fill="#0008ff"/>
<rect x="168.75" y="311.61" width="2.97" height="26.17" fill="#0000ed"/>
<rect x="251.44" y="311.61" width="2.97" height="26.17" fill="#0000ed"/>
<rect x="254.11" y="311.61" width="2.97" height="26.17" fill="#0010ff"/>
<rect x="256.78" y="311.61" width="2.97" height="26.17" fill="#1fffd7"/>
<rect x="259.45" y="311.61" width="2.97" height="26.17" fill="#ff8900"/>
<rect x="262.12" y="311.61" width="2.97" height="26.17" fill="#cd0000"/>
<rect x="264.78" y="311.61" width="2.97" height="26.17" fill="#ff1e00"/>
<rect x="267.45" y="311.61" width="2.97" height="26.17" fill="#f60b00"/>
<rect x="270.12" y="311.61" width="2.97" height="26.17" fill="#94ff63"/>
<rect x="272.78" y="311.61" width="2.97" height="26.17" fill="#0024ff"/>
<rect x="275.45" y="311.61" width="2.97" height="26.17" fill="#0000e3"/>
<rect x="360.81" y="311.61" width="2.97" height="26.17" fill="#0000ed"/>
<rect x="363.48" y="311.61" width="2.97" height="26.17" fill="#0038ff"/>
<rect x="366.15" y="311.61" width="2.97" height="26.17" fill="#7dff7a"/>
<rect x="368.82" y="311.61" width="2.97" height="26.17" fill="#ffc100"/>
<rect x="371.48" y="311.61" width="2.97" height="26.17" fill="#ff6c00"/>
<rect x="374.15" y="311.61" width="2.97" height="26.17" fill="#ff4300"/>
<rect x="376.82" y="311.61" width="2.97" height="26.17" fill="#ffb900"/>
<rect x="379.49" y="311.61" width="2.97" height="26.17" fill="#00ccff"/>
<rect x="382.15" y="311.61" width="2.97" height="26.17" fill="#0000ff"/>
<rect x="384.82" y="311.61" width="2.97" height="26.17" fill="#0000e3"/>
<rect x="467.51" y="311.61" width="2.97" height="26.17" fill="#0000d1"/>
<rect x="470.18" y="311.61" width="2.97" height="26.17" fill="#0000f1"/>
<rect x="472.85" y="311.61" width="2.97" height="26.17" fill="#0048ff"/>
<rect x="475.51" y="311.61" width="2.97" height="26.17" fill="#a7ff50"/>
<rect x="478.18" y="311.61" width="2.97" height="26.17" fill="#ff3b00"/>
<rect x="480.85" y="311.61" width="2.97" height="26.17" fill="#cd0000"/>
<rect x="483.52" y="311.61" width="2.97" height="26.17" fill="#ff4300"/>
<rect x="486.19" y="311.61" width="2.97" height="26.17" fill="#ffd000"/>
<rect x="488.85" y="311.61" width="2.97" height="26.17" fill="#00e4f8"/>
<rect x="491.52" y="311.61" width="2.97" height="26.17" fill="#0000ff"/>
<rect x="494.19" y="311.61" width="2.97" height="26.17" fill="#0000e3"/>
<rect x="576.88" y="311.61" width="2.97" height="26.17" fill="#0000e3"/>
<rect x="579.55" y="311.61" width="2.97" height="26.17" fill="#001cff"/>
<rect x="582.22" y="311.61" width="2.97" height="26.17" fill="#7aff7d"/>
<rect x="584.88" y="311.61" width="2.97" height="26.17" fill="#ff6000"/>
<rect x="587.55" y="311.61" width="2.97" height="26.17" fill="#ff6000"/>
<rect x="590.22" y="311.61" width="2.97" height="26.17" fill="#ff2200"/>
<rect x="592.88" y="311.61" width="2.97" height="26.17" fill="#ff7300"/>
<rect x="595.55" y="311.61" width="2.97" height="26.17" fill="#36ffc1"/>
<rect x="598.22" y="311.61" width="2.97" height="26.17" fill="#0010ff"/>
<rect x="600.89" y="311.61" width="2.97" height="26.17" fill="#0000da"/>
<rect x="142.08" y="337.48" width="2.97" height="26.17" fill="#0000da"/>
<rect x="144.75" y="337.48" width="2.97" height="26.17" fill="#0000fa"/>
<rect x="147.41" y="337.48" width="2.97" height="26.17" fill="#008cff"/>
<rect x="150.08" y="337.48" width="2.97" height="26.17" fill="#f8f500"/>
<rect x="152.75" y="337.48" width="2.97" height="26.17" fill="#ff8200"/>
<rect x="155.42" y="337.48" width="2.97" height="26.17" fill="#ff2d00"/>
<rect x="158.08" y="337.48" width="2.97" height="26.17" fill="#ffab00"/>
<rect x="160.75" y="337.48" width="2.97" height="26.17" fill="#b7ff40"/>
<rect x="163.42" y="337.48" width="2.97" height="26.17" fill="#0054ff"/>
<rect x="166.09" y="337.48" width="2.97" height="26.17" fill="#0000f1"/>
<rect x="168.75" y="337.48" width="2.97" height="26.17" fill="#0000d6"/>
<rect x="251.44" y="337.48" width="2.97" height="26.17" fill="#0000df"/>
<rect x="254.11" y="337.48" width="2.97" height="26.17" fill="#0004ff"/>
<rect x="256.78" y="337.48" width="2.97" height="26.17" fill="#1fffd7"/>
<rect x="259.45" y="337.48" width="2.97" height="26.17" fill="#ff9800"/>
<rect x="262.12" y="337.48" width="2.97" height="26.17" fill="#ff6f00"/>
<rect x="264.78" y="337.48" width="2.97" height="26.17" fill="#f10800"/>
<rect x="267.45" y="337.48" width="2.97" height="26.17" fill="#ff1600"/>
<rect x="270.12" y="337.48" width="2.97" height="26.17" fill="#7aff7d"/>
<rect x="272.78" y="337.48" width="2.97" height="26.17" fill="#0030ff"/>
<rect x="275.45" y="337.48" width="2.97" height="26.17" fill="#0000e3"/>
<rect x="360.81" y="337.48" width="2.97" height="26.17" fill="#0000ff"/>
<rect x="363.48" y="337.48" width="2.97" height="26.17" fill="#0078ff"/>
<rect x="366.15" y="337.48" width="2.97" height="26.17" fill="#ffc100"/>
<rect x="368.82" y="337.48" width="2.97" height="26.17" fill="#ad0000"/>
<rect x="371.48" y="337.48" width="2.97" height="26.17" fill="#800000"/>
<rect x="374.15" y="337.48" width="2.97" height="26.17" fill="#f60b00"/>
<rect x="376.82" y="337.48" width="2.97" height="26.17" fill="#ff6c00"/>
<rect x="379.49" y="337.48" width="2.97" height="26.17" fill="#00acff"/>
<rect x="382.15" y="337.48" width="2.97" height="26.17" fill="#0000ff"/>
<rect x="384.82" y="337.48" width="2.97" height="26.17" fill="#0000da"/>
<rect x="467.51" y="337.48" width="2.97" height="26.17" fill="#0000d1"/>
<rect x="470.18" y="337.48" width="2.97" height="26.17" fill="#0000f1"/>
<rect x="472.85" y="337.48" width="2.97" height="26.17" fill="#0044ff"/>
<rect x="475.51" y="337.48" width="2.97" height="26.17" fill="#90ff66"/>
<rect x="478.18" y="337.48" width="2.97" height="26.17" fill="#ff7300"/>
<rect x="480.85" y="337.48" width="2.97" height="26.17" fill="#f10800"/>
<rect x="483.52" y="337.48" width="2.97" height="26.17" fill="#ff5d00"/>
<rect x="486.19" y="337.48" width="2.97" height="26.17" fill="#ffb600"/>
<rect x="488.85" y="337.48" width="2.97" height="26.17" fill="#00c8ff"/>
<rect x="491.52" y="337.48" width="2.97" height="26.17" fill="#0010ff"/>
<rect x="494.19" y="337.48" width="2.97" height="26.17" fill="#0000ed"/>
<rect x="576.88" y="337.48" width="2.97" height="26.17" fill="#0000f1"/>
<rect x="579.55" y="337.48" width="2.97" height="26.17" fill="#0004ff"/>
<rect x="582.22" y="337.48" width="2.97" height="26.17" fill="#33ffc4"/>
<rect x="584.88" y="337.48" width="2.97" height="26.17" fill="#ff8900"/>
<rect x="587.55" y="337.48" width="2.97" height="26.17" fill="#ff3f00"/>
<rect x="590.22" y="337.48" width="2.97" height="26.17" fill="#ff1a00"/>
<rect x="592.88" y="337.48" width="2.97" height="26.17" fill="#ff8200"/>
<rect x="595.55" y="337.48" width="2.97" height="26.17" fill="#43ffb4"/>
<rect x="598.22" y="337.48" width="2.97" height="26.17" fill="#001cff"/>
<rect x="600.89" y="337.48" width="2.97" height="26.17" fill="#0000e3"/>
<rect x="142.08" y="363.36" width="2.97" height="26.17" fill="#0000d6"/>
<rect x="144.75" y="363.36" width="2.97" height="26.17" fill="#0000fa"/>
<rect x="147.41" y="363.36" width="2.97" height="26.17" fill="#0040ff"/>
<rect x="150.08" y="363.36" width="2.97" height="26.17" fill="#9aff5d"/>
<rect x="152.75" y="363.36" width="2.97" height="26.17" fill="#ff3b00"/>
<rect x="155.42" y="363.36" width="2.97" height="26.17" fill="#ff3000"/>
<rect x="158.08" y="363.36" width="2.97" height="26.17" fill="#ff1600"/>
<rect x="160.75" y="363.36" width="2.97" height="26.17" fill="#f1fc06"/>
<rect x="163.42" y="363.36" width="2.97" height="26.17" fill="#00b4ff"/>
<rect x="166.09" y="363.36" width="2.97" height="26.17" fill="#0000ff"/>
<rect x="168.75" y="363.36" width="2.97" height="26.17" fill="#0000df"/>
<rect x="251.44" y="363.36" width="2.97" height="26.17" fill="#0000e3"/>
<rect x="254.11" y="363.36" width="2.97" height="26.17" fill="#000cff"/>
<rect x="256.78" y="363.36" width="2.97" height="26.17" fill="#0cf4eb"/>
<rect x="259.45" y="363.36" width="2.97" height="26.17" fill="#ffc100"/>
<rect x="262.12" y="363.36" width="2.97" height="26.17" fill="#ff7a00"/>
<rect x="264.78" y="363.36" width="2.97" height="26.17" fill="#ffc100"/>
<rect x="267.45" y="363.36" width="2.97" height="26.17" fill="#ffa700"/>
<rect x="270.12" y="363.36" width="2.97" height="26.17" fill="#43ffb4"/>
<rect x="272.78" y="363.36" width="2.97" height="26.17" fill="#0014ff"/>
<rect x="275.45" y="363.36" width="2.97" height="26.17" fill="#0000df"/>
<rect x="360.81" y="363.36" width="2.97" height="26.17" fill="#0000fa"/>
<rect x="363.48" y="363.36" width="2.97" height="26.17" fill="#005cff"/>
<rect x="366.15" y="363.36" width="2.97" height="26.17" fill="#fbf100"/>
<rect x="368.82" y="363.36" width="2.97" height="26.17" fill="#ff2500"/>
<rect x="371.48" y="363.36" width="2.97" height="26.17" fill="#ff2200"/>
<rect x="374.15" y="363.36" width="2.97" height="26.17" fill="#c40000"/>
<rect x="376.82" y="363.36" width="2.97" height="26.17" fill="#ffae00"/>
<rect x="379.49" y="363.36" width="2.97" height="26.17" fill="#00c4ff"/>
<rect x="382.15" y="363.36" width="2.97" height="26.17" fill="#0000ff"/>
<rect x="384.82" y="363.36" width="2.97" height="26.17" fill="#0000e8"/>
<rect x="467.51" y="363.36" width="2.97" height="26.17" fill="#0000df"/>
<rect x="470.18" y="363.36" width="2.97" height="26.17" fill="#0000fa"/>
<rect x="472.85" y="363.36" width="2.97" height="26.17" fill="#0080ff"/>
<rect x="475.51" y="363.36" width="2.97" height="26.17" fill="#f8f500"/>
<rect x="478.18" y="363.36" width="2.97" height="26.17" fill="#ff5d00"/>
<rect x="480.85" y="363.36" width="2.97" height="26.17" fill="#ff7300"/>
<rect x="483.52" y="363.36" width="2.97" height="26.17" fill="#ff4a00"/>
<rect x="486.19" y="363.36" width="2.97" height="26.17" fill="#ffea00"/>
<rect x="488.85" y="363.36" width="2.97" height="26.17" fill="#0064ff"/>
<rect x="491.52" y="363.36" width="2.97" height="26.17" fill="#0000fa"/>
<rect x="494.19" y="363.36" width="2.97" height="26.17" fill="#0000d6"/>
<rect x="576.88" y="363.36" width="2.97" height="26.17" fill="#0000f1"/>
<rect x="579.55" y="363.36" width="2.97" height="26.17" fill="#0018ff"/>
<rect x="582.22" y="363.36" width="2.97" height="26.17" fill="#94ff63"/>
<rect x="584.88" y="363.36" width="2.97" height="26.17" fill="#ff5d00"/>
<rect x="587.55" y="363.36" width="2.97" height="26.17" fill="#ff4300"/>
<rect x="590.22" y="363.36" width="2.97" height="26.17" fill="#d10000"/>
<rect x="592.88" y="363.36" width="2.97" height="26.17" fill="#cd0000"/>
<rect x="595.55" y="363.36" width="2.97" height="26.17" fill="#5dff9a"/>
<rect x="598.22" y="363.36" width="2.97" height="26.17" fill="#001cff"/>
<rect x="600.89" y="363.36" width="2.97" height="26.17" fill="#0000e8"/>
<rect x="142.08" y="389.23" width="2.97" height="26.17" fill="#0000cd"/>
<rect x="144.75" y="389.23" width="2.97" height="26.17" fill="#0000e8"/>
<rect x="147.41" y="389.23" width="2.97" height="26.17" fill="#0034ff"/>
<rect x="150.08" y="389.23" width="2.97" height="26.17" fill="#6aff8d"/>
<rect x="152.75" y="389.23" width="2.97" height="26.17" fill="#ff5900"/>
<rect x="155.42" y="389.23" width="2.97" height="26.17" fill="#ff4e00"/>
<rect x="158.08" y="389.23" width="2.97" height="26.17" fill="#ff7700"/>
<rect x="160.75" y="389.23" width="2.97" height="26.17" fill="#f1fc06"/>
<rect x="163.42" y="389.23" width="2.97" height="26.17" fill="#09f0ee"/>
<rect x="166.09" y="389.23" width="2.97" height="26.17" fill="#0000ff"/>
<rect x="168.75" y="389.23" width="2.97" height="26.17" fill="#0000e3"/>
<rect x="251.44" y="389.23" width="2.97" height="26.17" fill="#0000f6"/>
<rect x="254.11" y="389.23" width="2.97" height="26.17" fill="#0018ff"/>
<rect x="256.78" y="389.23" width="2.97" height="26.17" fill="#29ffce"/>
<rect x="259.45" y="389.23" width="2.97" height="26.17" fill="#ff9c00"/>
<rect x="262.12" y="389.23" width="2.97" height="26.17" fill="#ff5900"/>
<rect x="264.78" y="389.23" width="2.97" height="26.17" fill="#ff6000"/>
<rect x="267.45" y="389.23" width="2.97" height="26.17" fill="#ffb600"/>
<rect x="270.12" y="389.23" width="2.97" height="26.17" fill="#73ff83"/>
<rect x="272.78" y="389.23" width="2.97" height="26.17" fill="#0010ff"/>
<rect x="275.45" y="389.23" width="2.97" height="26.17" fill="#0000e3"/>
<rect x="360.81" y="389.23" width="2.97" height="26.17" fill="#0000ff"/>
<rect x="363.48" y="389.23" width="2.97" height="26.17" fill="#0058ff"/>
<rect x="366.15" y="389.23" width="2.97" height="26.17" fill="#c4ff33"/>
<rect x="368.82" y="389.23" width="2.97" height="26.17" fill="#ff2d00"/>
<rect x="371.48" y="389.23" width="2.97" height="26.17" fill="#d10000"/>
<rect x="374.15" y="389.23" width="2.97" height="26.17" fill="#ff1a00"/>
<rect x="376.82" y="389.23" width="2.97" height="26.17" fill="#ffa700"/>
<rect x="379.49" y="389.23" width="2.97" height="26.17" fill="#00b4ff"/>
<rect x="382.15" y="389.23" width="2.97" height="26.17" fill="#0000ff"/>
<rect x="384.82" y="389.23" width="2.97" height="26.17" fill="#0000df"/>
<rect x="467.51" y="389.23" width="2.97" height="26.17" fill="#0000d6"/>
<rect x="470.18" y="389.23" width="2.97" height="26.17" fill="#0000fa"/>
<rect x="472.85" y="389.23" width="2.97" height="26.17" fill="#005cff"/>
<rect x="475.51" y="389.23" width="2.97" height="26.17" fill="#d4ff23"/>
<rect x="478.18" y="389.23" width="2.97" height="26.17" fill="#ffc400"/>
<rect x="480.85" y="389.23" width="2.97" height="26.17" fill="#ff9400"/>
<rect x="483.52" y="389.23" width="2.97" height="26.17" fill="#ffb200"/>
<rect x="486.19" y="389.23" width="2.97" height="26.17" fill="#aaff4d"/>
<rect x="488.85" y="389.23" width="2.97" height="26.17" fill="#0064ff"/>
<rect x="491.52" y="389.23" width="2.97" height="26.17" fill="#0000fa"/>
<rect x="494.19" y="389.23" width="2.97" height="26.17" fill="#0000cd"/>
<rect x="576.88" y="389.23" width="2.97" height="26.17" fill="#0000f1"/>
<rect x="579.55" y="389.23" width="2.97" height="26.17" fill="#0014ff"/>
<rect x="582.22" y="389.23" width="2.97" height="26.17" fill="#56ffa0"/>
<rect x="584.88" y="389.23" width="2.97" height="26.17" fill="#ff9f00"/>
<rect x="587.55" y="389.23" width="2.97" height="26.17" fill="#ff7a00"/>
<rect x="590.22" y="389.23" width="2.97" height="26.17" fill="#ff4a00"/>
<rect x="592.88" y="389.23" width="2.97" height="26.17" fill="#ffb200"/>
<rect x="595.55" y="389.23" width="2.97" height="26.17" fill="#39ffbe"/>
<rect x="598.22" y="389.23" width="2.97" height="26.17" fill="#000cff"/>
<rect x="600.89" y="389.23" width="2.97" height="26.17" fill="#0000e3"/>
<rect x="142.08" y="415.11" width="2.97" height="26.17" fill="#0000da"/>
<rect x="144.75" y="415.11" width="2.97" height="26.17" fill="#0000f6"/>
<rect x="147.41" y="415.11" width="2.97" height="26.17" fill="#0058ff"/>
<rect x="150.08" y="415.11" width="2.97" height="26.17" fill="#8dff6a"/>
<rect x="152.75" y="415.11" width="2.97" height="26.17" fill="#ffae00"/>
<rect x="155.42" y="415.11" width="2.97" height="26.17" fill="#ffde00"/>
<rect x="158.08" y="415.11" width="2.97" height="26.17" fill="#dbff1c"/>
<rect x="160.75" y="415.11" width="2.97" height="26.17" fill="#63ff94"/>
<rect x="163.42" y="415.11" width="2.97" height="26.17" fill="#0030ff"/>
<rect x="166.09" y="415.11" width="2.97" height="26.17" fill="#0000ed"/>
<rect x="168.75" y="415.11" width="2.97" height="26.17" fill="#0000d6"/>
<rect x="251.44" y="415.11" width="2.97" height="26.17" fill="#0000ed"/>
<rect x="254.11" y="415.11" width="2.97" height="26.17" fill="#0000ff"/>
<rect x="256.78" y="415.11" width="2.97" height="26.17" fill="#00dcfe"/>
<rect x="259.45" y="415.11" width="2.97" height="26.17" fill="#ffea00"/>
<rect x="262.12" y="415.11" width="2.97" height="26.17" fill="#ff2d00"/>
<rect x="264.78" y="415.11" width="2.97" height="26.17" fill="#ff1300"/>
<rect x="267.45" y="415.11" width="2.97" height="26.17" fill="#ff6c00"/>
<rect x="270.12" y="415.11" width="2.97" height="26.17" fill="#87ff70"/>
<rect x="272.78" y="415.11" width="2.97" height="26.17" fill="#0040ff"/>
<rect x="275.45" y="415.11" width="2.97" height="26.17" fill="#0000e3"/>
<rect x="360.81" y="415.11" width="2.97" height="26.17" fill="#0000f1"/>
<rect x="363.48" y="415.11" width="2.97" height="26.17" fill="#0030ff"/>
<rect x="366.15" y="415.11" width="2.97" height="26.17" fill="#a7ff50"/>
<rect x="368.82" y="415.11" width="2.97" height="26.17" fill="#ff5d00"/>
<rect x="371.48" y="415.11" width="2.97" height="26.17" fill="#da0000"/>
<rect x="374.15" y="415.11" width="2.97" height="26.17" fill="#ff2500"/>
<rect x="376.82" y="415.11" width="2.97" height="26.17" fill="#ff7a00"/>
<rect x="379.49" y="415.11" width="2.97" height="26.17" fill="#30ffc7"/>
<rect x="382.15" y="415.11" width="2.97" height="26.17" fill="#000cff"/>
<rect x="384.82" y="415.11" width="2.97" height="26.17" fill="#0000ed"/>
<rect x="467.51" y="415.11" width="2.97" height="26.17" fill="#0000e3"/>
<rect x="470.18" y="415.11" width="2.97" height="26.17" fill="#0000ff"/>
<rect x="472.85" y="415.11" width="2.97" height="26.17" fill="#00acff"/>
<rect x="475.51" y="415.11" width="2.97" height="26.17" fill="#ffa700"/>
<rect x="478.18" y="415.11" width="2.97" height="26.17" fill="#ff2500"/>
<rect x="480.85" y="415.11" width="2.97" height="26.17" fill="#a40000"/>
<rect x="483.52" y="415.11" width="2.97" height="26.17" fill="#ff3f00"/>
<rect x="486.19" y="415.11" width="2.97" height="26.17" fill="#e4ff13"/>
<rect x="488.85" y="415.11" width="2.97" height="26.17" fill="#006cff"/>
<rect x="491.52" y="415.11" width="2.97" height="26.17" fill="#0000fa"/>
<rect x="494.19" y="415.11" width="2.97" height="26.17" fill="#0000df"/>
<rect x="576.88" y="415.11" width="2.97" height="26.17" fill="#0000e8"/>
<rect x="579.55" y="415.11" width="2.97" height="26.17" fill="#0008ff"/>
<rect x="582.22" y="415.11" width="2.97" height="26.17" fill="#40ffb7"/>
<rect x="584.88" y="415.11" width="2.97" height="26.17" fill="#ffa700"/>
<rect x="587.55" y="415.11" width="2.97" height="26.17" fill="#ff6800"/>
<rect x="590.22" y="415.11" width="2.97" height="26.17" fill="#ff9800"/>
<rect x="592.88" y="415.11" width="2.97" height="26.17" fill="#ff7700"/>
<rect x="595.55" y="415.11" width="2.97" height="26.17" fill="#46ffb1"/>
<rect x="598.22" y="415.11" width="2.97" height="26.17" fill="#001cff"/>
<rect x="600.89" y="415.11" width="2.97" height="26.17" fill="#0000ed"/>
<rect x="142.08" y="440.98" width="2.97" height="26.17" fill="#0000d6"/>
<rect x="144.75" y="440.98" width="2.97" height="26.17" fill="#0000f6"/>
<rect x="147.41" y="440.98" width="2.97" height="26.17" fill="#00b0ff"/>
<rect x="150.08" y="440.98" width="2.97" height="26.17" fill="#eeff09"/>
<rect x="152.75" y="440.98" width="2.97" height="26.17" fill="#ff3000"/>
<rect x="155.42" y="440.98" width="2.97" height="26.17" fill="#ff6400"/>
<rect x="158.08" y="440.98" width="2.97" height="26.17" fill="#ff8200"/>
<rect x="160.75" y="440.98" width="2.97" height="26.17" fill="#caff2c"/>
<rect x="163.42" y="440.98" width="2.97" height="26.17" fill="#004cff"/>
<rect x="166.09" y="440.98" width="2.97" height="26.17" fill="#0000f6"/>
<rect x="168.75" y="440.98" width="2.97" height="26.17" fill="#0000e3"/>
<rect x="251.44" y="440.98" width="2.97" height="26.17" fill="#0000ed"/>
<rect x="254.11" y="440.98" width="2.97" height="26.17" fill="#0018ff"/>
<rect x="256.78" y="440.98" width="2.97" height="26.17" fill="#5dff9a"/>
<rect x="259.45" y="440.98" width="2.97" height="26.17" fill="#ff6f00"/>
<rect x="262.12" y="440.98" width="2.97" height="26.17" fill="#ff8900"/>
<rect x="264.78" y="440.98" width="2.97" height="26.17" fill="#ff9800"/>
<rect x="267.45" y="440.98" width="2.97" height="26.17" fill="#f1fc06"/>
<rect x="270.12" y="440.98" width="2.97" height="26.17" fill="#1fffd7"/>
<rect x="272.78" y="440.98" width="2.97" height="26.17" fill="#0008ff"/>
<rect x="275.45" y="440.98" width="2.97" height="26.17" fill="#0000df"/>
<rect x="360.81" y="440.98" width="2.97" height="26.17" fill="#0000e8"/>
<rect x="363.48" y="440.98" width="2.97" height="26.17" fill="#0030ff"/>
<rect x="366.15" y="440.98" width="2.97" height="26.17" fill="#5dff9a"/>
<rect x="368.82" y="440.98" width="2.97" height="26.17" fill="#ffa300"/>
<rect x="371.48" y="440.98" width="2.97" height="26.17" fill="#ff3400"/>
<rect x="374.15" y="440.98" width="2.97" height="26.17" fill="#ff9800"/>
<rect x="376.82" y="440.98" width="2.97" height="26.17" fill="#ffbd00"/>
<rect x="379.49" y="440.98" width="2.97" height="26.17" fill="#00e4f8"/>
<rect x="382.15" y="440.98" width="2.97" height="26.17" fill="#0000ff"/>
<rect x="384.82" y="440.98" width="2.97" height="26.17" fill="#0000e8"/>
<rect x="467.51" y="440.98" width="2.97" height="26.17" fill="#0000df"/>
<rect x="470.18" y="440.98" width="2.97" height="26.17" fill="#0000f6"/>
<rect x="472.85" y="440.98" width="2.97" height="26.17" fill="#0080ff"/>
<rect x="475.51" y="440.98" width="2.97" height="26.17" fill="#ffe200"/>
<rect x="478.18" y="440.98" width="2.97" height="26.17" fill="#ff5500"/>
<rect x="480.85" y="440.98" width="2.97" height="26.17" fill="#ff9400"/>
<rect x="483.52" y="440.98" width="2.97" height="26.17" fill="#ff5500"/>
<rect x="486.19" y="440.98" width="2.97" height="26.17" fill="#b7ff40"/>
<rect x="488.85" y="440.98" width="2.97" height="26.17" fill="#0058ff"/>
<rect x="491.52" y="440.98" width="2.97" height="26.17" fill="#0000f6"/>
<rect x="494.19" y="440.98" width="2.97" height="26.17" fill="#0000d6"/>
<rect x="576.88" y="440.98" width="2.97" height="26.17" fill="#0000ed"/>
<rect x="579.55" y="440.98" width="2.97" height="26.17" fill="#0044ff"/>
<rect x="582.22" y="440.98" width="2.97" height="26.17" fill="#8dff6a"/>
<rect x="584.88" y="440.98" width="2.97" height="26.17" fill="#ff8d00"/>
<rect x="587.55" y="440.98" width="2.97" height="26.17" fill="#e80000"/>
<rect x="590.22" y="440.98" width="2.97" height="26.17" fill="#ff2d00"/>
<rect x="592.88" y="440.98" width="2.97" height="26.17" fill="#ff6800"/>
<rect x="595.55" y="440.98" width="2.97" height="26.17" fill="#00dcfe"/>
<rect x="598.22" y="440.98" width="2.97" height="26.17" fill="#0008ff"/>
<rect x="600.89" y="440.98" width="2.97" height="26.17" fill="#0000df"/>
<rect x="142.08" y="466.85" width="2.97" height="26.17" fill="#0000cd"/>
<rect x="144.75" y="466.85" width="2.97" height="26.17" fill="#0000e8"/>
<rect x="147.41" y="466.85" width="2.97" height="26.17" fill="#0040ff"/>
<rect x="150.08" y="466.85" width="2.97" height="26.17" fill="#94ff63"/>
<rect x="152.75" y="466.85" width="2.97" height="26.17" fill="#ffc400"/>
<rect x="155.42" y="466.85" width="2.97" height="26.17" fill="#ff8200"/>
<rect x="158.08" y="466.85" width="2.97" height="26.17" fill="#ffab00"/>
<rect x="160.75" y="466.85" width="2.97" height="26.17" fill="#f4f802"/>
<rect x="163.42" y="466.85" width="2.97" height="26.17" fill="#0080ff"/>
<rect x="166.09" y="466.85" width="2.97" height="26.17" fill="#0000ff"/>
<rect x="168.75" y="466.85" width="2.97" height="26.17" fill="#0000da"/>
<rect x="251.44" y="466.85" width="2.97" height="26.17" fill="#0000e8"/>
<rect x="254.11" y="466.85" width="2.97" height="26.17" fill="#0014ff"/>
<rect x="256.78" y="466.85" width="2.97" height="26.17" fill="#2cffca"/>
<rect x="259.45" y="466.85" width="2.97" height="26.17" fill="#ff3b00"/>
<rect x="262.12" y="466.85" width="2.97" height="26.17" fill="#ff3f00"/>
<rect x="264.78" y="466.85" width="2.97" height="26.17" fill="#ff5900"/>
<rect x="267.45" y="466.85" width="2.97" height="26.17" fill="#ff8900"/>
<rect x="270.12" y="466.85" width="2.97" height="26.17" fill="#5aff9d"/>
<rect x="272.78" y="466.85" width="2.97" height="26.17" fill="#0014ff"/>
<rect x="275.45" y="466.85" width="2.97" height="26.17" fill="#0000ed"/>
<rect x="360.81" y="466.85" width="2.97" height="26.17" fill="#0000f6"/>
<rect x="363.48" y="466.85" width="2.97" height="26.17" fill="#002cff"/>
<rect x="366.15" y="466.85" width="2.97" height="26.17" fill="#80ff77"/>
<rect x="368.82" y="466.85" width="2.97" height="26.17" fill="#ff2500"/>
<rect x="371.48" y="466.85" width="2.97" height="26.17" fill="#ff3b00"/>
<rect x="374.15" y="466.85" width="2.97" height="26.17" fill="#f60b00"/>
<rect x="376.82" y="466.85" width="2.97" height="26.17" fill="#ff9800"/>
<rect x="379.49" y="466.85" width="2.97" height="26.17" fill="#1cffdb"/>
<rect x="382.15" y="466.85" width="2.97" height="26.17" fill="#0000ff"/>
<rect x="384.82" y="466.85" width="2.97" height="26.17" fill="#0000ed"/>
<rect x="467.51" y="466.85" width="2.97" height="26.17" fill="#0000cd"/>
<rect x="470.18" y="466.85" width="2.97" height="26.17" fill="#0000ed"/>
<rect x="472.85" y="466.85" width="2.97" height="26.17" fill="#0040ff"/>
<rect x="475.51" y="466.85" width="2.97" height="26.17" fill="#6aff8d"/>
<rect x="478.18" y="466.85" width="2.97" height="26.17" fill="#ffa700"/>
<rect x="480.85" y="466.85" width="2.97" height="26.17" fill="#ff8900"/>
<rect x="483.52" y="466.85" width="2.97" height="26.17" fill="#ffae00"/>
<rect x="486.19" y="466.85" width="2.97" height="26.17" fill="#e1ff16"/>
<rect x="488.85" y="466.85" width="2.97" height="26.17" fill="#0078ff"/>
<rect x="491.52" y="466.85" width="2.97" height="26.17" fill="#0000ff"/>
<rect x="494.19" y="466.85" width="2.97" height="26.17" fill="#0000e3"/>
<rect x="576.88" y="466.85" width="2.97" height="26.17" fill="#0000f6"/>
<rect x="579.55" y="466.85" width="2.97" height="26.17" fill="#0014ff"/>
<rect x="582.22" y="466.85" width="2.97" height="26.17" fill="#60ff97"/>
<rect x="584.88" y="466.85" width="2.97" height="26.17" fill="#f10800"/>
<rect x="587.55" y="466.85" width="2.97" height="26.17" fill="#cd0000"/>
<rect x="590.22" y="466.85" width="2.97" height="26.17" fill="#ff2900"/>
<rect x="592.88" y="466.85" width="2.97" height="26.17" fill="#ff3f00"/>
<rect x="595.55" y="466.85" width="2.97" height="26.17" fill="#50ffa7"/>
<rect x="598.22" y="466.85" width="2.97" height="26.17" fill="#0018ff"/>
<rect x="600.89" y="466.85" width="2.97" height="26.17" fill="#0000df"/>
<rect x="142.08" y="492.73" width="2.97" height="30.17" fill="#0000e3"/>
<rect x="144.75" y="492.73" width="2.97" height="30.17" fill="#0000ff"/>
<rect x="147.41" y="492.73" width="2.97" height="30.17" fill="#007cff"/>
<rect x="150.08" y="492.73" width="2.97" height="30.17" fill="#ffea00"/>
<rect x="152.75" y="492.73" width="2.97" height="30.17" fill="#ff1600"/>
<rect x="155.42" y="492.73" width="2.97" height="30.17" fill="#ff2500"/>
<rect x="158.08" y="492.73" width="2.97" height="30.17" fill="#ed0400"/>
<rect x="160.75" y="492.73" width="2.97" height="30.17" fill="#ff6c00"/>
<rect x="163.42" y="492.73" width="2.97" height="30.17" fill="#00a8ff"/>
<rect x="166.09" y="492.73" width="2.97" height="30.17" fill="#0000ff"/>
<rect x="168.75" y="492.73" width="2.97" height="30.17" fill="#0000df"/>
<rect x="251.44" y="492.73" width="2.97" height="30.17" fill="#0000e3"/>
<rect x="254.11" y="492.73" width="2.97" height="30.17" fill="#0030ff"/>
<rect x="256.78" y="492.73" width="2.97" height="30.17" fill="#46ffb1"/>
<rect x="259.45" y="492.73" width="2.97" height="30.17" fill="#ffb900"/>
<rect x="262.12" y="492.73" width="2.97" height="30.17" fill="#ff4300"/>
<rect x="264.78" y="492.73" width="2.97" height="30.17" fill="#ff2200"/>
<rect x="267.45" y="492.73" width="2.97" height="30.17" fill="#ff9800"/>
<rect x="270.12" y="492.73" width="2.97" height="30.17" fill="#13fce4"/>
<rect x="272.78" y="492.73" width="2.97" height="30.17" fill="#0010ff"/>
<rect x="275.45" y="492.73" width="2.97" height="30.17" fill="#0000e3"/>
<rect x="360.81" y="492.73" width="2.97" height="30.17" fill="#0000f6"/>
<rect x="363.48" y="492.73" width="2.97" height="30.17" fill="#004cff"/>
<rect x="366.15" y="492.73" width="2.97" height="30.17" fill="#ebff0c"/>
<rect x="368.82" y="492.73" width="2.97" height="30.17" fill="#ff6000"/>
<rect x="371.48" y="492.73" width="2.97" height="30.17" fill="#800000"/>
<rect x="374.15" y="492.73" width="2.97" height="30.17" fill="#ff3f00"/>
<rect x="376.82" y="492.73" width="2.97" height="30.17" fill="#ff8d00"/>
<rect x="379.49" y="492.73" width="2.97" height="30.17" fill="#00d8ff"/>
<rect x="382.15" y="492.73" width="2.97" height="30.17" fill="#0004ff"/>
<rect x="384.82" y="492.73" width="2.97" height="30.17" fill="#0000ed"/>
<rect x="467.51" y="492.73" width="2.97" height="30.17" fill="#0000d6"/>
<rect x="470.18" y="492.73" width="2.97" height="30.17" fill="#0000ed"/>
<rect x="472.85" y="492.73" width="2.97" height="30.17" fill="#0068ff"/>
<rect x="475.51" y="492.73" width="2.97" height="30.17" fill="#90ff66"/>
<rect x="478.18" y="492.73" width="2.97" height="30.17" fill="#ffb600"/>
<rect x="480.85" y="492.73" width="2.97" height="30.17" fill="#ffe600"/>
<rect x="483.52" y="492.73" width="2.97" height="30.17" fill="#ffb900"/>
<rect x="486.19" y="492.73" width="2.97" height="30.17" fill="#eeff09"/>
<rect x="488.85" y="492.73" width="2.97" height="30.17" fill="#0068ff"/>
<rect x="491.52" y="492.73" width="2.97" height="30.17" fill="#0000ff"/>
<rect x="494.19" y="492.73" width="2.97" height="30.17" fill="#0000d6"/>
<rect x="576.88" y="492.73" width="2.97" height="30.17" fill="#0000e3"/>
<rect x="579.55" y="492.73" width="2.97" height="30.17" fill="#0008ff"/>
<rect x="582.22" y="492.73" width="2.97" height="30.17" fill="#23ffd4"/>
<rect x="584.88" y="492.73" width="2.97" height="30.17" fill="#ff6000"/>
<rect x="587.55" y="492.73" width="2.97" height="30.17" fill="#ff6f00"/>
<rect x="590.22" y="492.73" width="2.97" height="30.17" fill="#ff2200"/>
<rect x="592.88" y="492.73" width="2.97" height="30.17" fill="#ff2900"/>
<rect x="595.55" y="492.73" width="2.97" height="30.17" fill="#7dff7a"/>
<rect x="598.22" y="492.73" width="2.97" height="30.17" fill="#0028ff"/>
<rect x="600.89" y="492.73" width="2.97" height="30.17" fill="#0000e8"/>
</g></g>
<path d="M107.4 531.6v-5.5M107.4 15.2v5.5M240.8 531.6v-5.5M240.8 15.2v5.5M374.1 531.6v-5.5M374.1 15.2v5.5M507.5 531.6v-5.5M507.5 15.2v5.5M640.9 531.6v-5.5M640.9 15.2v5.5M107.4 15.2h5.5M640.9 15.2h-5.5M107.4 144.3h5.5M640.9 144.3h-5.5M107.4 273.4h5.5M640.9 273.4h-5.5M107.4 402.5h5.5M640.9 402.5h-5.5M107.4 531.6h5.5M640.9 531.6h-5.5" stroke="#000" stroke-width="1.2" fill="none"/>
<rect x="107.4" y="15.2" width="533.5" height="516.4" fill="none" stroke="#000" stroke-width="1.7"/>
<text x="107.4" y="559.1" font-size="26.4" text-anchor="middle">0</text>
<text x="240.8" y="559.1" font-size="26.4" text-anchor="middle">500</text>
<text x="374.1" y="559.1" font-size="26.4" text-anchor="middle">1000</text>
<text x="507.5" y="559.1" font-size="26.4" text-anchor="middle">1500</text>
<text x="640.9" y="559.1" font-size="26.4" text-anchor="middle">2000</text>
<text x="102.7" y="23.1" font-size="26.4" text-anchor="end">1.0</text>
<text x="103.2" y="152.2" font-size="26.4" text-anchor="end">0.5</text>
<text x="102.7" y="281.3" font-size="26.4" text-anchor="end">0.0</text>
<text x="103.2" y="410.4" font-size="26.4" text-anchor="end">−0.5</text>
<text x="102.7" y="539.5" font-size="26.4" text-anchor="end">−1.0</text>
<text x="375.3" y="593.6" font-size="30" text-anchor="middle">y, um</text>
<text transform="translate(25.4 273.4) rotate(-90)" font-size="30" text-anchor="middle">z, mm</text>
<rect x="674.2" y="144.7" width="52.3" height="258.5" fill="url(#jet)" stroke="#000" stroke-width="1.1"/>
<text x="730.8" y="409.2" font-size="24" text-anchor="start">0</text>
<text x="730.8" y="383.3" font-size="24" text-anchor="start">4</text>
<text x="730.8" y="357.5" font-size="24" text-anchor="start">8</text>
<text x="730.8" y="331.6" font-size="24" text-anchor="start">12</text>
<text x="730.8" y="305.8" font-size="24" text-anchor="start">16</text>
<text x="730.8" y="279.9" font-size="24" text-anchor="start">20</text>
<text x="730.8" y="254.1" font-size="24" text-anchor="start">24</text>
<text x="730.8" y="228.2" font-size="24" text-anchor="start">28</text>
<text x="730.8" y="202.4" font-size="24" text-anchor="start">32</text>
<text x="730.8" y="176.5" font-size="24" text-anchor="start">36</text>
<text x="730.8" y="150.7" font-size="24" text-anchor="start">40</text>
<path d="M726.5 377.3h-7M726.5 351.5h-7M726.5 325.6h-7M726.5 299.8h-7M726.5 273.9h-7M726.5 248.1h-7M726.5 222.2h-7M726.5 196.4h-7M726.5 170.5h-7" stroke="#000" stroke-width="0.9" fill="none" opacity="0.8"/>
<text transform="translate(789.3 273.4) rotate(-90)" font-size="30" text-anchor="middle">Dose , Gy</text>
<clipPath id="hc2"><rect x="953.7" y="25.5" width="530.8" height="491.4"/></clipPath>
<g clip-path="url(#hc2)"><g filter="url(#soft)">
<rect x="949.7" y="21.5" width="538.8" height="499.4" fill="#00008d"/>
<rect x="953.7" y="21.5" width="2.97" height="499.4" fill="#00008d"/>
<rect x="956.37" y="21.5" width="2.97" height="499.4" fill="#00008d"/>
<rect x="959.04" y="21.5" width="2.97" height="499.4" fill="#00008d"/>
<rect x="961.7" y="21.5" width="2.97" height="499.4" fill="#00008d"/>
<rect x="964.37" y="21.5" width="2.97" height="499.4" fill="#00008d"/>
<rect x="967.04" y="21.5" width="2.97" height="499.4" fill="#00008d"/>
<rect x="969.71" y="21.5" width="2.97" height="499.4" fill="#00008d"/>
<rect x="972.37" y="21.5" width="2.97" height="499.4" fill="#00008d"/>
<rect x="975.04" y="21.5" width="2.97" height="499.4" fill="#00008d"/>
<rect x="977.71" y="21.5" width="2.97" height="499.4" fill="#000092"/>
<rect x="980.38" y="21.5" width="2.97" height="499.4" fill="#000092"/>
<rect x="983.04" y="21.5" width="2.97" height="499.4" fill="#000092"/>
<rect x="985.71" y="21.5" width="2.97" height="499.4" fill="#000096"/>
<rect x="1017.72" y="21.5" width="2.97" height="499.4" fill="#000096"/>
<rect x="1020.39" y="21.5" width="2.97" height="499.4" fill="#000092"/>
<rect x="1023.06" y="21.5" width="2.97" height="499.4" fill="#000092"/>
<rect x="1025.72" y="21.5" width="2.97" height="499.4" fill="#000092"/>
<rect x="1028.39" y="21.5" width="2.97" height="499.4" fill="#00008d"/>
<rect x="1031.06" y="21.5" width="2.97" height="499.4" fill="#00008d"/>
<rect x="1033.73" y="21.5" width="2.97" height="499.4" fill="#000092"/>
<rect x="1036.39" y="21.5" width="2.97" height="499.4" fill="#00008d"/>
<rect x="1039.06" y="21.5" width="2.97" height="499.4" fill="#00008d"/>
<rect x="1041.73" y="21.5" width="2.97" height="499.4" fill="#000092"/>
<rect x="1044.39" y="21.5" width="2.97" height="499.4" fill="#00008d"/>
<rect x="1047.06" y="21.5" width="2.97" height="499.4" fill="#00008d"/>
<rect x="1049.73" y="21.5" width="2.97" height="499.4" fill="#000089"/>
<rect x="1052.4" y="21.5" width="2.97" height="499.4" fill="#00008d"/>
<rect x="1055.07" y="21.5" width="2.97" height="499.4" fill="#00008d"/>
<rect x="1057.73" y="21.5" width="2.97" height="499.4" fill="#00008d"/>
<rect x="1060.4" y="21.5" width="2.97" height="499.4" fill="#00008d"/>
<rect x="1063.07" y="21.5" width="2.97" height="499.4" fill="#00008d"/>
<rect x="1065.74" y="21.5" width="2.97" height="499.4" fill="#00008d"/>
<rect x="1068.4" y="21.5" width="2.97" height="499.4" fill="#00008d"/>
<rect x="1071.07" y="21.5" width="2.97" height="499.4" fill="#00008d"/>
<rect x="1073.74" y="21.5" width="2.97" height="499.4" fill="#00008d"/>
<rect x="1076.4" y="21.5" width="2.97" height="499.4" fill="#00008d"/>
<rect x="1079.07" y="21.5" width="2.97" height="499.4" fill="#00008d"/>
<rect x="1081.74" y="21.5" width="2.97" height="499.4" fill="#00008d"/>
<rect x="1084.41" y="21.5" width="2.97" height="499.4" fill="#00008d"/>
<rect x="1087.08" y="21.5" width="2.97" height="499.4" fill="#000092"/>
<rect x="1089.74" y="21.5" width="2.97" height="499.4" fill="#000092"/>
<rect x="1092.41" y="21.5" width="2.97" height="499.4" fill="#000096"/>
<rect x="1095.08" y="21.5" width="2.97" height="499.4" fill="#000096"/>
<rect x="1124.42" y="21.5" width="2.97" height="499.4" fill="#000096"/>
<rect x="1127.09" y="21.5" width="2.97" height="499.4" fill="#000096"/>
<rect x="1129.76" y="21.5" width="2.97" height="499.4" fill="#000092"/>
<rect x="1132.42" y="21.5" width="2.97" height="499.4" fill="#000096"/>
<rect x="1135.09" y="21.5" width="2.97" height="499.4" fill="#00008d"/>
<rect x="1137.76" y="21.5" width="2.97" height="499.4" fill="#00008d"/>
<rect x="1140.42" y="21.5" width="2.97" height="499.4" fill="#00008d"/>
<rect x="1143.09" y="21.5" width="2.97" height="499.4" fill="#000092"/>
<rect x="1145.76" y="21.5" width="2.97" height="499.4" fill="#00008d"/>
<rect x="1148.43" y="21.5" width="2.97" height="499.4" fill="#000092"/>
<rect x="1151.1" y="21.5" width="2.97" height="499.4" fill="#00008d"/>
<rect x="1153.76" y="21.5" width="2.97" height="499.4" fill="#00008d"/>
<rect x="1156.43" y="21.5" width="2.97" height="499.4" fill="#00008d"/>
<rect x="1159.1" y="21.5" width="2.97" height="499.4" fill="#00008d"/>
<rect x="1161.77" y="21.5" width="2.97" height="499.4" fill="#00008d"/>
<rect x="1164.43" y="21.5" width="2.97" height="499.4" fill="#00008d"/>
<rect x="1167.1" y="21.5" width="2.97" height="499.4" fill="#00008d"/>
<rect x="1169.77" y="21.5" width="2.97" height="499.4" fill="#00008d"/>
<rect x="1172.43" y="21.5" width="2.97" height="499.4" fill="#00008d"/>
<rect x="1175.1" y="21.5" width="2.97" height="499.4" fill="#000092"/>
<rect x="1177.77" y="21.5" width="2.97" height="499.4" fill="#00008d"/>
<rect x="1180.44" y="21.5" width="2.97" height="499.4" fill="#00008d"/>
<rect x="1183.11" y="21.5" width="2.97" height="499.4" fill="#000092"/>
<rect x="1185.77" y="21.5" width="2.97" height="499.4" fill="#00008d"/>
<rect x="1188.44" y="21.5" width="2.97" height="499.4" fill="#00008d"/>
<rect x="1191.11" y="21.5" width="2.97" height="499.4" fill="#00008d"/>
<rect x="1193.78" y="21.5" width="2.97" height="499.4" fill="#000092"/>
<rect x="1196.44" y="21.5" width="2.97" height="499.4" fill="#000092"/>
<rect x="1199.11" y="21.5" width="2.97" height="499.4" fill="#000092"/>
<rect x="1201.78" y="21.5" width="2.97" height="499.4" fill="#000096"/>
<rect x="1204.45" y="21.5" width="2.97" height="499.4" fill="#000096"/>
<rect x="1233.79" y="21.5" width="2.97" height="499.4" fill="#000096"/>
<rect x="1236.45" y="21.5" width="2.97" height="499.4" fill="#000092"/>
<rect x="1239.12" y="21.5" width="2.97" height="499.4" fill="#00008d"/>
<rect x="1241.79" y="21.5" width="2.97" height="499.4" fill="#00008d"/>
<rect x="1244.46" y="21.5" width="2.97" height="499.4" fill="#00008d"/>
<rect x="1247.12" y="21.5" width="2.97" height="499.4" fill="#00008d"/>
<rect x="1249.79" y="21.5" width="2.97" height="499.4" fill="#000089"/>
<rect x="1252.46" y="21.5" width="2.97" height="499.4" fill="#00008d"/>
<rect x="1255.13" y="21.5" width="2.97" height="499.4" fill="#000092"/>
<rect x="1257.8" y="21.5" width="2.97" height="499.4" fill="#000089"/>
<rect x="1260.46" y="21.5" width="2.97" height="499.4" fill="#00008d"/>
<rect x="1263.13" y="21.5" width="2.97" height="499.4" fill="#00008d"/>
<rect x="1265.8" y="21.5" width="2.97" height="499.4" fill="#00008d"/>
<rect x="1268.47" y="21.5" width="2.97" height="499.4" fill="#00008d"/>
<rect x="1271.13" y="21.5" width="2.97" height="499.4" fill="#00008d"/>
<rect x="1273.8" y="21.5" width="2.97" height="499.4" fill="#00008d"/>
<rect x="1276.47" y="21.5" width="2.97" height="499.4" fill="#00008d"/>
<rect x="1279.13" y="21.5" width="2.97" height="499.4" fill="#00008d"/>
<rect x="1281.8" y="21.5" width="2.97" height="499.4" fill="#00008d"/>
<rect x="1284.47" y="21.5" width="2.97" height="499.4" fill="#000089"/>
<rect x="1287.14" y="21.5" width="2.97" height="499.4" fill="#000092"/>
<rect x="1289.81" y="21.5" width="2.97" height="499.4" fill="#000092"/>
<rect x="1292.47" y="21.5" width="2.97" height="499.4" fill="#00008d"/>
<rect x="1295.14" y="21.5" width="2.97" height="499.4" fill="#00008d"/>
<rect x="1297.81" y="21.5" width="2.97" height="499.4" fill="#00008d"/>
<rect x="1300.47" y="21.5" width="2.97" height="499.4" fill="#000092"/>
<rect x="1303.14" y="21.5" width="2.97" height="499.4" fill="#00008d"/>
<rect x="1305.81" y="21.5" width="2.97" height="499.4" fill="#000092"/>
<rect x="1308.48" y="21.5" width="2.97" height="499.4" fill="#00008d"/>
<rect x="1311.14" y="21.5" width="2.97" height="499.4" fill="#000096"/>
<rect x="1343.15" y="21.5" width="2.97" height="499.4" fill="#000096"/>
<rect x="1345.82" y="21.5" width="2.97" height="499.4" fill="#000092"/>
<rect x="1348.49" y="21.5" width="2.97" height="499.4" fill="#000092"/>
<rect x="1351.16" y="21.5" width="2.97" height="499.4" fill="#000092"/>
<rect x="1353.83" y="21.5" width="2.97" height="499.4" fill="#00008d"/>
<rect x="1356.49" y="21.5" width="2.97" height="499.4" fill="#00008d"/>
<rect x="1359.16" y="21.5" width="2.97" height="499.4" fill="#00008d"/>
<rect x="1361.83" y="21.5" width="2.97" height="499.4" fill="#00008d"/>
<rect x="1364.5" y="21.5" width="2.97" height="499.4" fill="#00008d"/>
<rect x="1367.16" y="21.5" width="2.97" height="499.4" fill="#00008d"/>
<rect x="1369.83" y="21.5" width="2.97" height="499.4" fill="#00008d"/>
<rect x="1372.5" y="21.5" width="2.97" height="499.4" fill="#00008d"/>
<rect x="1375.16" y="21.5" width="2.97" height="499.4" fill="#00008d"/>
<rect x="1377.83" y="21.5" width="2.97" height="499.4" fill="#00008d"/>
<rect x="1380.5" y="21.5" width="2.97" height="499.4" fill="#00008d"/>
<rect x="1383.17" y="21.5" width="2.97" height="499.4" fill="#00008d"/>
<rect x="1385.84" y="21.5" width="2.97" height="499.4" fill="#00008d"/>
<rect x="1388.5" y="21.5" width="2.97" height="499.4" fill="#000089"/>
<rect x="1391.17" y="21.5" width="2.97" height="499.4" fill="#00008d"/>
<rect x="1393.84" y="21.5" width="2.97" height="499.4" fill="#00008d"/>
<rect x="1396.51" y="21.5" width="2.97" height="499.4" fill="#00008d"/>
<rect x="1399.17" y="21.5" width="2.97" height="499.4" fill="#00008d"/>
<rect x="1401.84" y="21.5" width="2.97" height="499.4" fill="#00008d"/>
<rect x="1404.51" y="21.5" width="2.97" height="499.4" fill="#00008d"/>
<rect x="1407.18" y="21.5" width="2.97" height="499.4" fill="#00008d"/>
<rect x="1409.84" y="21.5" width="2.97" height="499.4" fill="#00008d"/>
<rect x="1412.51" y="21.5" width="2.97" height="499.4" fill="#000092"/>
<rect x="1415.18" y="21.5" width="2.97" height="499.4" fill="#000096"/>
<rect x="1417.85" y="21.5" width="2.97" height="499.4" fill="#000092"/>
<rect x="1420.51" y="21.5" width="2.97" height="499.4" fill="#000092"/>
<rect x="1449.86" y="21.5" width="2.97" height="499.4" fill="#00009b"/>
<rect x="1452.52" y="21.5" width="2.97" height="499.4" fill="#000092"/>
<rect x="1455.19" y="21.5" width="2.97" height="499.4" fill="#000092"/>
<rect x="1457.86" y="21.5" width="2.97" height="499.4" fill="#00008d"/>
<rect x="1460.53" y="21.5" width="2.97" height="499.4" fill="#000092"/>
<rect x="1463.19" y="21.5" width="2.97" height="499.4" fill="#00008d"/>
<rect x="1465.86" y="21.5" width="2.97" height="499.4" fill="#000089"/>
<rect x="1468.53" y="21.5" width="2.97" height="499.4" fill="#00008d"/>
<rect x="1471.2" y="21.5" width="2.97" height="499.4" fill="#00008d"/>
<rect x="1473.86" y="21.5" width="2.97" height="499.4" fill="#00008d"/>
<rect x="1476.53" y="21.5" width="2.97" height="499.4" fill="#00008d"/>
<rect x="1479.2" y="21.5" width="2.97" height="499.4" fill="#00008d"/>
<rect x="1481.87" y="21.5" width="2.97" height="499.4" fill="#00008d"/>
<rect x="1276.5" y="25.5" width="18.7" height="26.2" fill="#000060" opacity="0.05"/>
<rect x="1137.8" y="25.5" width="40" height="26.2" fill="#000060" opacity="0.03"/>
<rect x="1087.1" y="25.5" width="26.7" height="26.2" fill="#0000ff" opacity="0.03"/>
<rect x="1247.1" y="25.5" width="56" height="26.2" fill="#0000ff" opacity="0.05"/>
<rect x="961.7" y="25.5" width="74.7" height="26.2" fill="#000060" opacity="0.03"/>
<rect x="1055.1" y="51.4" width="50.7" height="26.2" fill="#000060" opacity="0.06"/>
<rect x="1313.8" y="51.4" width="50.7" height="26.2" fill="#0000ff" opacity="0.04"/>
<rect x="959" y="51.4" width="24" height="26.2" fill="#0000ff" opacity="0.04"/>
<rect x="1353.8" y="51.4" width="61.4" height="26.2" fill="#0000ff" opacity="0.04"/>
<rect x="1257.8" y="51.4" width="26.7" height="26.2" fill="#0000ff" opacity="0.03"/>
<rect x="1279.1" y="77.2" width="48" height="26.2" fill="#0000ff" opacity="0.04"/>
<rect x="1159.1" y="77.2" width="18.7" height="26.2" fill="#000060" opacity="0.05"/>
<rect x="1271.1" y="77.2" width="26.7" height="26.2" fill="#000060" opacity="0.03"/>
<rect x="1127.1" y="77.2" width="74.7" height="26.2" fill="#0000ff" opacity="0.05"/>
<rect x="1369.8" y="77.2" width="58.7" height="26.2" fill="#0000ff" opacity="0.03"/>
<rect x="1431.2" y="103.1" width="53.4" height="26.2" fill="#0000ff" opacity="0.03"/>
<rect x="1380.5" y="103.1" width="58.7" height="26.2" fill="#0000ff" opacity="0.04"/>
<rect x="1137.8" y="103.1" width="50.7" height="26.2" fill="#0000ff" opacity="0.03"/>
<rect x="1244.5" y="103.1" width="53.4" height="26.2" fill="#0000ff" opacity="0.05"/>
<rect x="1071.1" y="103.1" width="48" height="26.2" fill="#000060" opacity="0.05"/>
<rect x="1044.4" y="129" width="66.7" height="26.2" fill="#0000ff" opacity="0.05"/>
<rect x="1145.8" y="129" width="45.3" height="26.2" fill="#000060" opacity="0.06"/>
<rect x="1060.4" y="129" width="77.4" height="26.2" fill="#0000ff" opacity="0.04"/>
<rect x="1103.1" y="129" width="69.4" height="26.2" fill="#000060" opacity="0.05"/>
<rect x="1183.1" y="129" width="26.7" height="26.2" fill="#0000ff" opacity="0.04"/>
<rect x="1436.5" y="154.8" width="40" height="26.2" fill="#000060" opacity="0.04"/>
<rect x="1047.1" y="154.8" width="40" height="26.2" fill="#0000ff" opacity="0.03"/>
<rect x="1412.5" y="154.8" width="45.3" height="26.2" fill="#0000ff" opacity="0.04"/>
<rect x="1383.2" y="154.8" width="48" height="26.2" fill="#000060" opacity="0.06"/>
<rect x="1172.4" y="154.8" width="45.3" height="26.2" fill="#000060" opacity="0.03"/>
<rect x="1143.1" y="180.7" width="61.4" height="26.2" fill="#000060" opacity="0.04"/>
<rect x="1295.1" y="180.7" width="24" height="26.2" fill="#0000ff" opacity="0.03"/>
<rect x="1041.7" y="180.7" width="32" height="26.2" fill="#000060" opacity="0.03"/>
<rect x="1063.1" y="180.7" width="69.4" height="26.2" fill="#000060" opacity="0.04"/>
<rect x="1065.7" y="180.7" width="37.3" height="26.2" fill="#000060" opacity="0.03"/>
<rect x="959" y="206.5" width="40" height="26.2" fill="#000060" opacity="0.05"/>
<rect x="1420.5" y="206.5" width="32" height="26.2" fill="#000060" opacity="0.03"/>
<rect x="1135.1" y="206.5" width="61.4" height="26.2" fill="#0000ff" opacity="0.04"/>
<rect x="1228.5" y="206.5" width="42.7" height="26.2" fill="#000060" opacity="0.04"/>
<rect x="1164.4" y="206.5" width="77.4" height="26.2" fill="#0000ff" opacity="0.04"/>
<rect x="1100.4" y="232.4" width="40" height="26.2" fill="#0000ff" opacity="0.04"/>
<rect x="1257.8" y="232.4" width="26.7" height="26.2" fill="#0000ff" opacity="0.05"/>
<rect x="1431.2" y="232.4" width="29.3" height="26.2" fill="#0000ff" opacity="0.05"/>
<rect x="1391.2" y="232.4" width="53.4" height="26.2" fill="#000060" opacity="0.05"/>
<rect x="1316.5" y="232.4" width="66.7" height="26.2" fill="#0000ff" opacity="0.03"/>
<rect x="1108.4" y="258.3" width="26.7" height="26.2" fill="#000060" opacity="0.03"/>
<rect x="1233.8" y="258.3" width="64" height="26.2" fill="#000060" opacity="0.04"/>
<rect x="1436.5" y="258.3" width="18.7" height="26.2" fill="#0000ff" opacity="0.06"/>
<rect x="988.4" y="258.3" width="32" height="26.2" fill="#0000ff" opacity="0.03"/>
<rect x="1380.5" y="258.3" width="34.7" height="26.2" fill="#000060" opacity="0.03"/>
<rect x="1388.5" y="284.1" width="40" height="26.2" fill="#0000ff" opacity="0.03"/>
<rect x="1092.4" y="284.1" width="61.4" height="26.2" fill="#0000ff" opacity="0.05"/>
<rect x="1084.4" y="284.1" width="16" height="26.2" fill="#000060" opacity="0.05"/>
<rect x="1441.9" y="284.1" width="16" height="26.2" fill="#0000ff" opacity="0.05"/>
<rect x="1145.8" y="284.1" width="26.7" height="26.2" fill="#000060" opacity="0.03"/>
<rect x="1276.5" y="310" width="32" height="26.2" fill="#000060" opacity="0.05"/>
<rect x="956.4" y="310" width="21.3" height="26.2" fill="#0000ff" opacity="0.03"/>
<rect x="1119.1" y="310" width="58.7" height="26.2" fill="#000060" opacity="0.06"/>
<rect x="1241.8" y="310" width="34.7" height="26.2" fill="#000060" opacity="0.03"/>
<rect x="1284.5" y="310" width="69.4" height="26.2" fill="#0000ff" opacity="0.04"/>
<rect x="1303.1" y="335.9" width="58.7" height="26.2" fill="#000060" opacity="0.04"/>
<rect x="1316.5" y="335.9" width="58.7" height="26.2" fill="#000060" opacity="0.05"/>
<rect x="1425.8" y="335.9" width="29.3" height="26.2" fill="#000060" opacity="0.04"/>
<rect x="1204.4" y="335.9" width="61.4" height="26.2" fill="#0000ff" opacity="0.03"/>
<rect x="980.4" y="335.9" width="29.3" height="26.2" fill="#000060" opacity="0.03"/>
<rect x="1183.1" y="361.7" width="48" height="26.2" fill="#0000ff" opacity="0.06"/>
<rect x="967" y="361.7" width="16" height="26.2" fill="#0000ff" opacity="0.06"/>
<rect x="1367.2" y="361.7" width="16" height="26.2" fill="#0000ff" opacity="0.04"/>
<rect x="1415.2" y="361.7" width="18.7" height="26.2" fill="#0000ff" opacity="0.06"/>
<rect x="1441.9" y="361.7" width="42.7" height="26.2" fill="#0000ff" opacity="0.04"/>
<rect x="1196.4" y="387.6" width="66.7" height="26.2" fill="#0000ff" opacity="0.05"/>
<rect x="1313.8" y="387.6" width="34.7" height="26.2" fill="#0000ff" opacity="0.03"/>
<rect x="1025.7" y="387.6" width="74.7" height="26.2" fill="#0000ff" opacity="0.04"/>
<rect x="1129.8" y="387.6" width="74.7" height="26.2" fill="#000060" opacity="0.03"/>
<rect x="1060.4" y="387.6" width="69.4" height="26.2" fill="#0000ff" opacity="0.03"/>
<rect x="1417.8" y="413.4" width="16" height="26.2" fill="#0000ff" opacity="0.03"/>
<rect x="1188.4" y="413.4" width="45.3" height="26.2" fill="#000060" opacity="0.03"/>
<rect x="1420.5" y="413.4" width="42.7" height="26.2" fill="#0000ff" opacity="0.04"/>
<rect x="1103.1" y="413.4" width="69.4" height="26.2" fill="#0000ff" opacity="0.04"/>
<rect x="1068.4" y="413.4" width="26.7" height="26.2" fill="#000060" opacity="0.05"/>
<rect x="1127.1" y="439.3" width="50.7" height="26.2" fill="#0000ff" opacity="0.03"/>
<rect x="1332.5" y="439.3" width="72" height="26.2" fill="#000060" opacity="0.03"/>
<rect x="1244.5" y="439.3" width="26.7" height="26.2" fill="#0000ff" opacity="0.06"/>
<rect x="956.4" y="439.3" width="69.4" height="26.2" fill="#0000ff" opacity="0.05"/>
<rect x="1209.8" y="439.3" width="64" height="26.2" fill="#000060" opacity="0.03"/>
<rect x="1071.1" y="465.2" width="29.3" height="26.2" fill="#000060" opacity="0.04"/>
<rect x="1143.1" y="465.2" width="74.7" height="26.2" fill="#000060" opacity="0.04"/>
<rect x="1025.7" y="465.2" width="69.4" height="26.2" fill="#0000ff" opacity="0.05"/>
<rect x="1372.5" y="465.2" width="56" height="26.2" fill="#000060" opacity="0.03"/>
<rect x="1281.8" y="465.2" width="50.7" height="26.2" fill="#000060" opacity="0.05"/>
<rect x="1212.4" y="491" width="64" height="26.2" fill="#0000ff" opacity="0.05"/>
<rect x="1327.2" y="491" width="56" height="26.2" fill="#000060" opacity="0.04"/>
<rect x="1188.4" y="491" width="72" height="26.2" fill="#0000ff" opacity="0.06"/>
<rect x="1428.5" y="491" width="50.7" height="26.2" fill="#0000ff" opacity="0.05"/>
<rect x="1311.1" y="491" width="18.7" height="26.2" fill="#000060" opacity="0.04"/>
<rect x="988.38" y="21.5" width="2.97" height="30.16" fill="#000096"/>
<rect x="991.05" y="21.5" width="2.97" height="30.16" fill="#0000a8"/>
<rect x="993.71" y="21.5" width="2.97" height="30.16" fill="#0000d6"/>
<rect x="996.38" y="21.5" width="2.97" height="30.16" fill="#0060ff"/>
<rect x="999.05" y="21.5" width="2.97" height="30.16" fill="#00c4ff"/>
<rect x="1001.72" y="21.5" width="2.97" height="30.16" fill="#00a0ff"/>
<rect x="1004.38" y="21.5" width="2.97" height="30.16" fill="#007cff"/>
<rect x="1007.05" y="21.5" width="2.97" height="30.16" fill="#0064ff"/>
<rect x="1009.72" y="21.5" width="2.97" height="30.16" fill="#0000e8"/>
<rect x="1012.38" y="21.5" width="2.97" height="30.16" fill="#0000a8"/>
<rect x="1015.05" y="21.5" width="2.97" height="30.16" fill="#000096"/>
<rect x="1097.75" y="21.5" width="2.97" height="30.16" fill="#00009b"/>
<rect x="1100.41" y="21.5" width="2.97" height="30.16" fill="#0000b2"/>
<rect x="1103.08" y="21.5" width="2.97" height="30.16" fill="#0000ff"/>
<rect x="1105.75" y="21.5" width="2.97" height="30.16" fill="#0078ff"/>
<rect x="1108.41" y="21.5" width="2.97" height="30.16" fill="#00a8ff"/>
<rect x="1111.08" y="21.5" width="2.97" height="30.16" fill="#0094ff"/>
<rect x="1113.75" y="21.5" width="2.97" height="30.16" fill="#0084ff"/>
<rect x="1116.42" y="21.5" width="2.97" height="30.16" fill="#0020ff"/>
<rect x="1119.09" y="21.5" width="2.97" height="30.16" fill="#0000bb"/>
<rect x="1121.75" y="21.5" width="2.97" height="30.16" fill="#00009b"/>
<rect x="1207.11" y="21.5" width="2.97" height="30.16" fill="#00009f"/>
<rect x="1209.78" y="21.5" width="2.97" height="30.16" fill="#0000cd"/>
<rect x="1212.45" y="21.5" width="2.97" height="30.16" fill="#0048ff"/>
<rect x="1215.12" y="21.5" width="2.97" height="30.16" fill="#00c4ff"/>
<rect x="1217.78" y="21.5" width="2.97" height="30.16" fill="#00c8ff"/>
<rect x="1220.45" y="21.5" width="2.97" height="30.16" fill="#009cff"/>
<rect x="1223.12" y="21.5" width="2.97" height="30.16" fill="#005cff"/>
<rect x="1225.79" y="21.5" width="2.97" height="30.16" fill="#0000f6"/>
<rect x="1228.45" y="21.5" width="2.97" height="30.16" fill="#0000a4"/>
<rect x="1231.12" y="21.5" width="2.97" height="30.16" fill="#000092"/>
<rect x="1313.81" y="21.5" width="2.97" height="30.16" fill="#000096"/>
<rect x="1316.48" y="21.5" width="2.97" height="30.16" fill="#0000a8"/>
<rect x="1319.15" y="21.5" width="2.97" height="30.16" fill="#0000da"/>
<rect x="1321.82" y="21.5" width="2.97" height="30.16" fill="#0068ff"/>
<rect x="1324.48" y="21.5" width="2.97" height="30.16" fill="#0084ff"/>
<rect x="1327.15" y="21.5" width="2.97" height="30.16" fill="#0098ff"/>
<rect x="1329.82" y="21.5" width="2.97" height="30.16" fill="#0074ff"/>
<rect x="1332.49" y="21.5" width="2.97" height="30.16" fill="#0060ff"/>
<rect x="1335.15" y="21.5" width="2.97" height="30.16" fill="#0000d6"/>
<rect x="1337.82" y="21.5" width="2.97" height="30.16" fill="#0000a4"/>
<rect x="1340.49" y="21.5" width="2.97" height="30.16" fill="#000092"/>
<rect x="1423.18" y="21.5" width="2.97" height="30.16" fill="#00009b"/>
<rect x="1425.85" y="21.5" width="2.97" height="30.16" fill="#0000b2"/>
<rect x="1428.52" y="21.5" width="2.97" height="30.16" fill="#000cff"/>
<rect x="1431.18" y="21.5" width="2.97" height="30.16" fill="#0090ff"/>
<rect x="1433.85" y="21.5" width="2.97" height="30.16" fill="#00a8ff"/>
<rect x="1436.52" y="21.5" width="2.97" height="30.16" fill="#00b4ff"/>
<rect x="1439.18" y="21.5" width="2.97" height="30.16" fill="#0098ff"/>
<rect x="1441.85" y="21.5" width="2.97" height="30.16" fill="#0028ff"/>
<rect x="1444.52" y="21.5" width="2.97" height="30.16" fill="#0000bf"/>
<rect x="1447.19" y="21.5" width="2.97" height="30.16" fill="#00009f"/>
<rect x="988.38" y="51.36" width="2.97" height="26.16" fill="#00009b"/>
<rect x="991.05" y="51.36" width="2.97" height="26.16" fill="#0000a8"/>
<rect x="993.71" y="51.36" width="2.97" height="26.16" fill="#0000e8"/>
<rect x="996.38" y="51.36" width="2.97" height="26.16" fill="#0078ff"/>
<rect x="999.05" y="51.36" width="2.97" height="26.16" fill="#00acff"/>
<rect x="1001.72" y="51.36" width="2.97" height="26.16" fill="#0098ff"/>
<rect x="1004.38" y="51.36" width="2.97" height="26.16" fill="#0098ff"/>
<rect x="1007.05" y="51.36" width="2.97" height="26.16" fill="#005cff"/>
<rect x="1009.72" y="51.36" width="2.97" height="26.16" fill="#0000c8"/>
<rect x="1012.38" y="51.36" width="2.97" height="26.16" fill="#0000a8"/>
<rect x="1015.05" y="51.36" width="2.97" height="26.16" fill="#000096"/>
<rect x="1097.75" y="51.36" width="2.97" height="26.16" fill="#00009b"/>
<rect x="1100.41" y="51.36" width="2.97" height="26.16" fill="#0000bb"/>
<rect x="1103.08" y="51.36" width="2.97" height="26.16" fill="#0014ff"/>
<rect x="1105.75" y="51.36" width="2.97" height="26.16" fill="#0088ff"/>
<rect x="1108.41" y="51.36" width="2.97" height="26.16" fill="#008cff"/>
<rect x="1111.08" y="51.36" width="2.97" height="26.16" fill="#00b4ff"/>
<rect x="1113.75" y="51.36" width="2.97" height="26.16" fill="#0088ff"/>
<rect x="1116.42" y="51.36" width="2.97" height="26.16" fill="#0014ff"/>
<rect x="1119.09" y="51.36" width="2.97" height="26.16" fill="#0000ad"/>
<rect x="1121.75" y="51.36" width="2.97" height="26.16" fill="#0000a4"/>
<rect x="1207.11" y="51.36" width="2.97" height="26.16" fill="#00009f"/>
<rect x="1209.78" y="51.36" width="2.97" height="26.16" fill="#0000c4"/>
<rect x="1212.45" y="51.36" width="2.97" height="26.16" fill="#003cff"/>
<rect x="1215.12" y="51.36" width="2.97" height="26.16" fill="#0088ff"/>
<rect x="1217.78" y="51.36" width="2.97" height="26.16" fill="#00b8ff"/>
<rect x="1220.45" y="51.36" width="2.97" height="26.16" fill="#00b0ff"/>
<rect x="1223.12" y="51.36" width="2.97" height="26.16" fill="#00a4ff"/>
<rect x="1225.79" y="51.36" width="2.97" height="26.16" fill="#0028ff"/>
<rect x="1228.45" y="51.36" width="2.97" height="26.16" fill="#0000b2"/>
<rect x="1231.12" y="51.36" width="2.97" height="26.16" fill="#00009f"/>
<rect x="1313.81" y="51.36" width="2.97" height="26.16" fill="#000096"/>
<rect x="1316.48" y="51.36" width="2.97" height="26.16" fill="#0000a8"/>
<rect x="1319.15" y="51.36" width="2.97" height="26.16" fill="#0000e8"/>
<rect x="1321.82" y="51.36" width="2.97" height="26.16" fill="#0074ff"/>
<rect x="1324.48" y="51.36" width="2.97" height="26.16" fill="#00c0ff"/>
<rect x="1327.15" y="51.36" width="2.97" height="26.16" fill="#00d8ff"/>
<rect x="1329.82" y="51.36" width="2.97" height="26.16" fill="#00b8ff"/>
<rect x="1332.49" y="51.36" width="2.97" height="26.16" fill="#0048ff"/>
<rect x="1335.15" y="51.36" width="2.97" height="26.16" fill="#0000df"/>
<rect x="1337.82" y="51.36" width="2.97" height="26.16" fill="#0000a8"/>
<rect x="1340.49" y="51.36" width="2.97" height="26.16" fill="#00009f"/>
<rect x="1423.18" y="51.36" width="2.97" height="26.16" fill="#00009f"/>
<rect x="1425.85" y="51.36" width="2.97" height="26.16" fill="#0000b6"/>
<rect x="1428.52" y="51.36" width="2.97" height="26.16" fill="#0004ff"/>
<rect x="1431.18" y="51.36" width="2.97" height="26.16" fill="#0058ff"/>
<rect x="1433.85" y="51.36" width="2.97" height="26.16" fill="#00a0ff"/>
<rect x="1436.52" y="51.36" width="2.97" height="26.16" fill="#00a0ff"/>
<rect x="1439.18" y="51.36" width="2.97" height="26.16" fill="#0074ff"/>
<rect x="1441.85" y="51.36" width="2.97" height="26.16" fill="#0000ff"/>
<rect x="1444.52" y="51.36" width="2.97" height="26.16" fill="#0000b2"/>
<rect x="1447.19" y="51.36" width="2.97" height="26.16" fill="#00009f"/>
<rect x="988.38" y="77.23" width="2.97" height="26.16" fill="#000092"/>
<rect x="991.05" y="77.23" width="2.97" height="26.16" fill="#0000a4"/>
<rect x="993.71" y="77.23" width="2.97" height="26.16" fill="#0000d1"/>
<rect x="996.38" y="77.23" width="2.97" height="26.16" fill="#005cff"/>
<rect x="999.05" y="77.23" width="2.97" height="26.16" fill="#009cff"/>
<rect x="1001.72" y="77.23" width="2.97" height="26.16" fill="#00c0ff"/>
<rect x="1004.38" y="77.23" width="2.97" height="26.16" fill="#00acff"/>
<rect x="1007.05" y="77.23" width="2.97" height="26.16" fill="#0068ff"/>
<rect x="1009.72" y="77.23" width="2.97" height="26.16" fill="#0000f6"/>
<rect x="1012.38" y="77.23" width="2.97" height="26.16" fill="#0000a4"/>
<rect x="1015.05" y="77.23" width="2.97" height="26.16" fill="#000096"/>
<rect x="1097.75" y="77.23" width="2.97" height="26.16" fill="#00009f"/>
<rect x="1100.41" y="77.23" width="2.97" height="26.16" fill="#0000b2"/>
<rect x="1103.08" y="77.23" width="2.97" height="26.16" fill="#000cff"/>
<rect x="1105.75" y="77.23" width="2.97" height="26.16" fill="#0070ff"/>
<rect x="1108.41" y="77.23" width="2.97" height="26.16" fill="#00b8ff"/>
<rect x="1111.08" y="77.23" width="2.97" height="26.16" fill="#009cff"/>
<rect x="1113.75" y="77.23" width="2.97" height="26.16" fill="#008cff"/>
<rect x="1116.42" y="77.23" width="2.97" height="26.16" fill="#0018ff"/>
<rect x="1119.09" y="77.23" width="2.97" height="26.16" fill="#0000bf"/>
<rect x="1121.75" y="77.23" width="2.97" height="26.16" fill="#00009f"/>
<rect x="1207.11" y="77.23" width="2.97" height="26.16" fill="#00009f"/>
<rect x="1209.78" y="77.23" width="2.97" height="26.16" fill="#0000bb"/>
<rect x="1212.45" y="77.23" width="2.97" height="26.16" fill="#0030ff"/>
<rect x="1215.12" y="77.23" width="2.97" height="26.16" fill="#0084ff"/>
<rect x="1217.78" y="77.23" width="2.97" height="26.16" fill="#00c4ff"/>
<rect x="1220.45" y="77.23" width="2.97" height="26.16" fill="#0078ff"/>
<rect x="1223.12" y="77.23" width="2.97" height="26.16" fill="#0094ff"/>
<rect x="1225.79" y="77.23" width="2.97" height="26.16" fill="#0000ff"/>
<rect x="1228.45" y="77.23" width="2.97" height="26.16" fill="#0000b2"/>
<rect x="1231.12" y="77.23" width="2.97" height="26.16" fill="#00009b"/>
<rect x="1313.81" y="77.23" width="2.97" height="26.16" fill="#00009f"/>
<rect x="1316.48" y="77.23" width="2.97" height="26.16" fill="#0000a8"/>
<rect x="1319.15" y="77.23" width="2.97" height="26.16" fill="#0000f1"/>
<rect x="1321.82" y="77.23" width="2.97" height="26.16" fill="#0078ff"/>
<rect x="1324.48" y="77.23" width="2.97" height="26.16" fill="#00a8ff"/>
<rect x="1327.15" y="77.23" width="2.97" height="26.16" fill="#008cff"/>
<rect x="1329.82" y="77.23" width="2.97" height="26.16" fill="#00a8ff"/>
<rect x="1332.49" y="77.23" width="2.97" height="26.16" fill="#0064ff"/>
<rect x="1335.15" y="77.23" width="2.97" height="26.16" fill="#0000bf"/>
<rect x="1337.82" y="77.23" width="2.97" height="26.16" fill="#0000a8"/>
<rect x="1340.49" y="77.23" width="2.97" height="26.16" fill="#00009b"/>
<rect x="1423.18" y="77.23" width="2.97" height="26.16" fill="#0000a4"/>
<rect x="1425.85" y="77.23" width="2.97" height="26.16" fill="#0000c4"/>
<rect x="1428.52" y="77.23" width="2.97" height="26.16" fill="#002cff"/>
<rect x="1431.18" y="77.23" width="2.97" height="26.16" fill="#00b0ff"/>
<rect x="1433.85" y="77.23" width="2.97" height="26.16" fill="#0084ff"/>
<rect x="1436.52" y="77.23" width="2.97" height="26.16" fill="#008cff"/>
<rect x="1439.18" y="77.23" width="2.97" height="26.16" fill="#0078ff"/>
<rect x="1441.85" y="77.23" width="2.97" height="26.16" fill="#0000ff"/>
<rect x="1444.52" y="77.23" width="2.97" height="26.16" fill="#0000a8"/>
<rect x="1447.19" y="77.23" width="2.97" height="26.16" fill="#0000a4"/>
<rect x="988.38" y="103.09" width="2.97" height="26.16" fill="#00009b"/>
<rect x="991.05" y="103.09" width="2.97" height="26.16" fill="#0000a8"/>
<rect x="993.71" y="103.09" width="2.97" height="26.16" fill="#0000f1"/>
<rect x="996.38" y="103.09" width="2.97" height="26.16" fill="#0064ff"/>
<rect x="999.05" y="103.09" width="2.97" height="26.16" fill="#00b4ff"/>
<rect x="1001.72" y="103.09" width="2.97" height="26.16" fill="#0098ff"/>
<rect x="1004.38" y="103.09" width="2.97" height="26.16" fill="#0090ff"/>
<rect x="1007.05" y="103.09" width="2.97" height="26.16" fill="#004cff"/>
<rect x="1009.72" y="103.09" width="2.97" height="26.16" fill="#0000c4"/>
<rect x="1012.38" y="103.09" width="2.97" height="26.16" fill="#00009f"/>
<rect x="1015.05" y="103.09" width="2.97" height="26.16" fill="#00009b"/>
<rect x="1097.75" y="103.09" width="2.97" height="26.16" fill="#00009b"/>
<rect x="1100.41" y="103.09" width="2.97" height="26.16" fill="#0000b2"/>
<rect x="1103.08" y="103.09" width="2.97" height="26.16" fill="#0000ff"/>
<rect x="1105.75" y="103.09" width="2.97" height="26.16" fill="#0070ff"/>
<rect x="1108.41" y="103.09" width="2.97" height="26.16" fill="#00ccff"/>
<rect x="1111.08" y="103.09" width="2.97" height="26.16" fill="#0088ff"/>
<rect x="1113.75" y="103.09" width="2.97" height="26.16" fill="#00a8ff"/>
<rect x="1116.42" y="103.09" width="2.97" height="26.16" fill="#0038ff"/>
<rect x="1119.09" y="103.09" width="2.97" height="26.16" fill="#0000bf"/>
<rect x="1121.75" y="103.09" width="2.97" height="26.16" fill="#0000a4"/>
<rect x="1207.11" y="103.09" width="2.97" height="26.16" fill="#0000ad"/>
<rect x="1209.78" y="103.09" width="2.97" height="26.16" fill="#0000d1"/>
<rect x="1212.45" y="103.09" width="2.97" height="26.16" fill="#0044ff"/>
<rect x="1215.12" y="103.09" width="2.97" height="26.16" fill="#00a0ff"/>
<rect x="1217.78" y="103.09" width="2.97" height="26.16" fill="#00c4ff"/>
<rect x="1220.45" y="103.09" width="2.97" height="26.16" fill="#00c8ff"/>
<rect x="1223.12" y="103.09" width="2.97" height="26.16" fill="#0088ff"/>
<rect x="1225.79" y="103.09" width="2.97" height="26.16" fill="#000cff"/>
<rect x="1228.45" y="103.09" width="2.97" height="26.16" fill="#0000b6"/>
<rect x="1231.12" y="103.09" width="2.97" height="26.16" fill="#0000a4"/>
<rect x="1313.81" y="103.09" width="2.97" height="26.16" fill="#000092"/>
<rect x="1316.48" y="103.09" width="2.97" height="26.16" fill="#0000a8"/>
<rect x="1319.15" y="103.09" width="2.97" height="26.16" fill="#0000df"/>
<rect x="1321.82" y="103.09" width="2.97" height="26.16" fill="#0068ff"/>
<rect x="1324.48" y="103.09" width="2.97" height="26.16" fill="#00a8ff"/>
<rect x="1327.15" y="103.09" width="2.97" height="26.16" fill="#0090ff"/>
<rect x="1329.82" y="103.09" width="2.97" height="26.16" fill="#006cff"/>
<rect x="1332.49" y="103.09" width="2.97" height="26.16" fill="#0058ff"/>
<rect x="1335.15" y="103.09" width="2.97" height="26.16" fill="#0000d1"/>
<rect x="1337.82" y="103.09" width="2.97" height="26.16" fill="#0000a4"/>
<rect x="1340.49" y="103.09" width="2.97" height="26.16" fill="#00009b"/>
<rect x="1423.18" y="103.09" width="2.97" height="26.16" fill="#0000a4"/>
<rect x="1425.85" y="103.09" width="2.97" height="26.16" fill="#0000b2"/>
<rect x="1428.52" y="103.09" width="2.97" height="26.16" fill="#0004ff"/>
<rect x="1431.18" y="103.09" width="2.97" height="26.16" fill="#0088ff"/>
<rect x="1433.85" y="103.09" width="2.97" height="26.16" fill="#0070ff"/>
<rect x="1436.52" y="103.09" width="2.97" height="26.16" fill="#00a0ff"/>
<rect x="1439.18" y="103.09" width="2.97" height="26.16" fill="#0078ff"/>
<rect x="1441.85" y="103.09" width="2.97" height="26.16" fill="#0004ff"/>
<rect x="1444.52" y="103.09" width="2.97" height="26.16" fill="#0000b6"/>
<rect x="1447.19" y="103.09" width="2.97" height="26.16" fill="#00009f"/>
<rect x="988.38" y="128.95" width="2.97" height="26.16" fill="#000092"/>
<rect x="991.05" y="128.95" width="2.97" height="26.16" fill="#0000a4"/>
<rect x="993.71" y="128.95" width="2.97" height="26.16" fill="#0000c4"/>
<rect x="996.38" y="128.95" width="2.97" height="26.16" fill="#0050ff"/>
<rect x="999.05" y="128.95" width="2.97" height="26.16" fill="#0070ff"/>
<rect x="1001.72" y="128.95" width="2.97" height="26.16" fill="#0084ff"/>
<rect x="1004.38" y="128.95" width="2.97" height="26.16" fill="#0074ff"/>
<rect x="1007.05" y="128.95" width="2.97" height="26.16" fill="#0068ff"/>
<rect x="1009.72" y="128.95" width="2.97" height="26.16" fill="#0000ed"/>
<rect x="1012.38" y="128.95" width="2.97" height="26.16" fill="#0000a4"/>
<rect x="1015.05" y="128.95" width="2.97" height="26.16" fill="#00009b"/>
<rect x="1097.75" y="128.95" width="2.97" height="26.16" fill="#00009b"/>
<rect x="1100.41" y="128.95" width="2.97" height="26.16" fill="#0000b6"/>
<rect x="1103.08" y="128.95" width="2.97" height="26.16" fill="#0010ff"/>
<rect x="1105.75" y="128.95" width="2.97" height="26.16" fill="#0070ff"/>
<rect x="1108.41" y="128.95" width="2.97" height="26.16" fill="#00a0ff"/>
<rect x="1111.08" y="128.95" width="2.97" height="26.16" fill="#00b0ff"/>
<rect x="1113.75" y="128.95" width="2.97" height="26.16" fill="#00b4ff"/>
<rect x="1116.42" y="128.95" width="2.97" height="26.16" fill="#0028ff"/>
<rect x="1119.09" y="128.95" width="2.97" height="26.16" fill="#0000b2"/>
<rect x="1121.75" y="128.95" width="2.97" height="26.16" fill="#0000a4"/>
<rect x="1207.11" y="128.95" width="2.97" height="26.16" fill="#0000a8"/>
<rect x="1209.78" y="128.95" width="2.97" height="26.16" fill="#0000c8"/>
<rect x="1212.45" y="128.95" width="2.97" height="26.16" fill="#0044ff"/>
<rect x="1215.12" y="128.95" width="2.97" height="26.16" fill="#0098ff"/>
<rect x="1217.78" y="128.95" width="2.97" height="26.16" fill="#00b0ff"/>
<rect x="1220.45" y="128.95" width="2.97" height="26.16" fill="#00b4ff"/>
<rect x="1223.12" y="128.95" width="2.97" height="26.16" fill="#0078ff"/>
<rect x="1225.79" y="128.95" width="2.97" height="26.16" fill="#0000fa"/>
<rect x="1228.45" y="128.95" width="2.97" height="26.16" fill="#0000a8"/>
<rect x="1231.12" y="128.95" width="2.97" height="26.16" fill="#000096"/>
<rect x="1313.81" y="128.95" width="2.97" height="26.16" fill="#000096"/>
<rect x="1316.48" y="128.95" width="2.97" height="26.16" fill="#0000a4"/>
<rect x="1319.15" y="128.95" width="2.97" height="26.16" fill="#0000c4"/>
<rect x="1321.82" y="128.95" width="2.97" height="26.16" fill="#0040ff"/>
<rect x="1324.48" y="128.95" width="2.97" height="26.16" fill="#00a8ff"/>
<rect x="1327.15" y="128.95" width="2.97" height="26.16" fill="#009cff"/>
<rect x="1329.82" y="128.95" width="2.97" height="26.16" fill="#0074ff"/>
<rect x="1332.49" y="128.95" width="2.97" height="26.16" fill="#0044ff"/>
<rect x="1335.15" y="128.95" width="2.97" height="26.16" fill="#0000da"/>
<rect x="1337.82" y="128.95" width="2.97" height="26.16" fill="#0000b2"/>
<rect x="1340.49" y="128.95" width="2.97" height="26.16" fill="#00009f"/>
<rect x="1423.18" y="128.95" width="2.97" height="26.16" fill="#00009f"/>
<rect x="1425.85" y="128.95" width="2.97" height="26.16" fill="#0000bb"/>
<rect x="1428.52" y="128.95" width="2.97" height="26.16" fill="#0044ff"/>
<rect x="1431.18" y="128.95" width="2.97" height="26.16" fill="#0080ff"/>
<rect x="1433.85" y="128.95" width="2.97" height="26.16" fill="#00b4ff"/>
<rect x="1436.52" y="128.95" width="2.97" height="26.16" fill="#00b0ff"/>
<rect x="1439.18" y="128.95" width="2.97" height="26.16" fill="#0098ff"/>
<rect x="1441.85" y="128.95" width="2.97" height="26.16" fill="#0018ff"/>
<rect x="1444.52" y="128.95" width="2.97" height="26.16" fill="#0000bb"/>
<rect x="1447.19" y="128.95" width="2.97" height="26.16" fill="#00009b"/>
<rect x="988.38" y="154.82" width="2.97" height="26.16" fill="#00009b"/>
<rect x="991.05" y="154.82" width="2.97" height="26.16" fill="#0000a8"/>
<rect x="993.71" y="154.82" width="2.97" height="26.16" fill="#0000ff"/>
<rect x="996.38" y="154.82" width="2.97" height="26.16" fill="#007cff"/>
<rect x="999.05" y="154.82" width="2.97" height="26.16" fill="#00a8ff"/>
<rect x="1001.72" y="154.82" width="2.97" height="26.16" fill="#0098ff"/>
<rect x="1004.38" y="154.82" width="2.97" height="26.16" fill="#00a8ff"/>
<rect x="1007.05" y="154.82" width="2.97" height="26.16" fill="#002cff"/>
<rect x="1009.72" y="154.82" width="2.97" height="26.16" fill="#0000da"/>
<rect x="1012.38" y="154.82" width="2.97" height="26.16" fill="#00009f"/>
<rect x="1015.05" y="154.82" width="2.97" height="26.16" fill="#00009b"/>
<rect x="1097.75" y="154.82" width="2.97" height="26.16" fill="#00009f"/>
<rect x="1100.41" y="154.82" width="2.97" height="26.16" fill="#0000ad"/>
<rect x="1103.08" y="154.82" width="2.97" height="26.16" fill="#0000ff"/>
<rect x="1105.75" y="154.82" width="2.97" height="26.16" fill="#0060ff"/>
<rect x="1108.41" y="154.82" width="2.97" height="26.16" fill="#00a8ff"/>
<rect x="1111.08" y="154.82" width="2.97" height="26.16" fill="#0074ff"/>
<rect x="1113.75" y="154.82" width="2.97" height="26.16" fill="#008cff"/>
<rect x="1116.42" y="154.82" width="2.97" height="26.16" fill="#0038ff"/>
<rect x="1119.09" y="154.82" width="2.97" height="26.16" fill="#0000c4"/>
<rect x="1121.75" y="154.82" width="2.97" height="26.16" fill="#00009f"/>
<rect x="1207.11" y="154.82" width="2.97" height="26.16" fill="#00009f"/>
<rect x="1209.78" y="154.82" width="2.97" height="26.16" fill="#0000cd"/>
<rect x="1212.45" y="154.82" width="2.97" height="26.16" fill="#0050ff"/>
<rect x="1215.12" y="154.82" width="2.97" height="26.16" fill="#006cff"/>
<rect x="1217.78" y="154.82" width="2.97" height="26.16" fill="#00a4ff"/>
<rect x="1220.45" y="154.82" width="2.97" height="26.16" fill="#0054ff"/>
<rect x="1223.12" y="154.82" width="2.97" height="26.16" fill="#0054ff"/>
<rect x="1225.79" y="154.82" width="2.97" height="26.16" fill="#0000ed"/>
<rect x="1228.45" y="154.82" width="2.97" height="26.16" fill="#0000a8"/>
<rect x="1231.12" y="154.82" width="2.97" height="26.16" fill="#000096"/>
<rect x="1313.81" y="154.82" width="2.97" height="26.16" fill="#00009b"/>
<rect x="1316.48" y="154.82" width="2.97" height="26.16" fill="#00009f"/>
<rect x="1319.15" y="154.82" width="2.97" height="26.16" fill="#0000b6"/>
<rect x="1321.82" y="154.82" width="2.97" height="26.16" fill="#0030ff"/>
<rect x="1324.48" y="154.82" width="2.97" height="26.16" fill="#008cff"/>
<rect x="1327.15" y="154.82" width="2.97" height="26.16" fill="#0058ff"/>
<rect x="1329.82" y="154.82" width="2.97" height="26.16" fill="#0094ff"/>
<rect x="1332.49" y="154.82" width="2.97" height="26.16" fill="#0058ff"/>
<rect x="1335.15" y="154.82" width="2.97" height="26.16" fill="#0000f6"/>
<rect x="1337.82" y="154.82" width="2.97" height="26.16" fill="#00009f"/>
<rect x="1340.49" y="154.82" width="2.97" height="26.16" fill="#00009b"/>
<rect x="1423.18" y="154.82" width="2.97" height="26.16" fill="#000096"/>
<rect x="1425.85" y="154.82" width="2.97" height="26.16" fill="#0000ad"/>
<rect x="1428.52" y="154.82" width="2.97" height="26.16" fill="#000cff"/>
<rect x="1431.18" y="154.82" width="2.97" height="26.16" fill="#0074ff"/>
<rect x="1433.85" y="154.82" width="2.97" height="26.16" fill="#0098ff"/>
<rect x="1436.52" y="154.82" width="2.97" height="26.16" fill="#009cff"/>
<rect x="1439.18" y="154.82" width="2.97" height="26.16" fill="#0088ff"/>
<rect x="1441.85" y="154.82" width="2.97" height="26.16" fill="#0028ff"/>
<rect x="1444.52" y="154.82" width="2.97" height="26.16" fill="#0000bb"/>
<rect x="1447.19" y="154.82" width="2.97" height="26.16" fill="#0000a4"/>
<rect x="988.38" y="180.68" width="2.97" height="26.16" fill="#000096"/>
<rect x="991.05" y="180.68" width="2.97" height="26.16" fill="#0000ad"/>
<rect x="993.71" y="180.68" width="2.97" height="26.16" fill="#0000da"/>
<rect x="996.38" y="180.68" width="2.97" height="26.16" fill="#0068ff"/>
<rect x="999.05" y="180.68" width="2.97" height="26.16" fill="#00a8ff"/>
<rect x="1001.72" y="180.68" width="2.97" height="26.16" fill="#009cff"/>
<rect x="1004.38" y="180.68" width="2.97" height="26.16" fill="#0080ff"/>
<rect x="1007.05" y="180.68" width="2.97" height="26.16" fill="#008cff"/>
<rect x="1009.72" y="180.68" width="2.97" height="26.16" fill="#0000df"/>
<rect x="1012.38" y="180.68" width="2.97" height="26.16" fill="#00009f"/>
<rect x="1015.05" y="180.68" width="2.97" height="26.16" fill="#000096"/>
<rect x="1097.75" y="180.68" width="2.97" height="26.16" fill="#00009f"/>
<rect x="1100.41" y="180.68" width="2.97" height="26.16" fill="#0000b6"/>
<rect x="1103.08" y="180.68" width="2.97" height="26.16" fill="#0000ff"/>
<rect x="1105.75" y="180.68" width="2.97" height="26.16" fill="#0094ff"/>
<rect x="1108.41" y="180.68" width="2.97" height="26.16" fill="#00bcff"/>
<rect x="1111.08" y="180.68" width="2.97" height="26.16" fill="#00a0ff"/>
<rect x="1113.75" y="180.68" width="2.97" height="26.16" fill="#00a8ff"/>
<rect x="1116.42" y="180.68" width="2.97" height="26.16" fill="#0060ff"/>
<rect x="1119.09" y="180.68" width="2.97" height="26.16" fill="#0000bb"/>
<rect x="1121.75" y="180.68" width="2.97" height="26.16" fill="#0000a4"/>
<rect x="1207.11" y="180.68" width="2.97" height="26.16" fill="#00009f"/>
<rect x="1209.78" y="180.68" width="2.97" height="26.16" fill="#0000bf"/>
<rect x="1212.45" y="180.68" width="2.97" height="26.16" fill="#003cff"/>
<rect x="1215.12" y="180.68" width="2.97" height="26.16" fill="#007cff"/>
<rect x="1217.78" y="180.68" width="2.97" height="26.16" fill="#0080ff"/>
<rect x="1220.45" y="180.68" width="2.97" height="26.16" fill="#009cff"/>
<rect x="1223.12" y="180.68" width="2.97" height="26.16" fill="#0088ff"/>
<rect x="1225.79" y="180.68" width="2.97" height="26.16" fill="#0014ff"/>
<rect x="1228.45" y="180.68" width="2.97" height="26.16" fill="#0000b2"/>
<rect x="1231.12" y="180.68" width="2.97" height="26.16" fill="#00009b"/>
<rect x="1313.81" y="180.68" width="2.97" height="26.16" fill="#000096"/>
<rect x="1316.48" y="180.68" width="2.97" height="26.16" fill="#0000a4"/>
<rect x="1319.15" y="180.68" width="2.97" height="26.16" fill="#0000c8"/>
<rect x="1321.82" y="180.68" width="2.97" height="26.16" fill="#0048ff"/>
<rect x="1324.48" y="180.68" width="2.97" height="26.16" fill="#0084ff"/>
<rect x="1327.15" y="180.68" width="2.97" height="26.16" fill="#00b4ff"/>
<rect x="1329.82" y="180.68" width="2.97" height="26.16" fill="#00b0ff"/>
<rect x="1332.49" y="180.68" width="2.97" height="26.16" fill="#0078ff"/>
<rect x="1335.15" y="180.68" width="2.97" height="26.16" fill="#0000df"/>
<rect x="1337.82" y="180.68" width="2.97" height="26.16" fill="#0000a4"/>
<rect x="1340.49" y="180.68" width="2.97" height="26.16" fill="#00009f"/>
<rect x="1423.18" y="180.68" width="2.97" height="26.16" fill="#000096"/>
<rect x="1425.85" y="180.68" width="2.97" height="26.16" fill="#0000b2"/>
<rect x="1428.52" y="180.68" width="2.97" height="26.16" fill="#0014ff"/>
<rect x="1431.18" y="180.68" width="2.97" height="26.16" fill="#0098ff"/>
<rect x="1433.85" y="180.68" width="2.97" height="26.16" fill="#00acff"/>
<rect x="1436.52" y="180.68" width="2.97" height="26.16" fill="#00a4ff"/>
<rect x="1439.18" y="180.68" width="2.97" height="26.16" fill="#0088ff"/>
<rect x="1441.85" y="180.68" width="2.97" height="26.16" fill="#0038ff"/>
<rect x="1444.52" y="180.68" width="2.97" height="26.16" fill="#0000b2"/>
<rect x="1447.19" y="180.68" width="2.97" height="26.16" fill="#00009b"/>
<rect x="988.38" y="206.54" width="2.97" height="26.16" fill="#00009b"/>
<rect x="991.05" y="206.54" width="2.97" height="26.16" fill="#0000ad"/>
<rect x="993.71" y="206.54" width="2.97" height="26.16" fill="#0000fa"/>
<rect x="996.38" y="206.54" width="2.97" height="26.16" fill="#008cff"/>
<rect x="999.05" y="206.54" width="2.97" height="26.16" fill="#00b8ff"/>
<rect x="1001.72" y="206.54" width="2.97" height="26.16" fill="#007cff"/>
<rect x="1004.38" y="206.54" width="2.97" height="26.16" fill="#0090ff"/>
<rect x="1007.05" y="206.54" width="2.97" height="26.16" fill="#005cff"/>
<rect x="1009.72" y="206.54" width="2.97" height="26.16" fill="#0000c8"/>
<rect x="1012.38" y="206.54" width="2.97" height="26.16" fill="#0000ad"/>
<rect x="1015.05" y="206.54" width="2.97" height="26.16" fill="#00009b"/>
<rect x="1097.75" y="206.54" width="2.97" height="26.16" fill="#0000a4"/>
<rect x="1100.41" y="206.54" width="2.97" height="26.16" fill="#0000ad"/>
<rect x="1103.08" y="206.54" width="2.97" height="26.16" fill="#0000ff"/>
<rect x="1105.75" y="206.54" width="2.97" height="26.16" fill="#0080ff"/>
<rect x="1108.41" y="206.54" width="2.97" height="26.16" fill="#00a0ff"/>
<rect x="1111.08" y="206.54" width="2.97" height="26.16" fill="#00b0ff"/>
<rect x="1113.75" y="206.54" width="2.97" height="26.16" fill="#0080ff"/>
<rect x="1116.42" y="206.54" width="2.97" height="26.16" fill="#004cff"/>
<rect x="1119.09" y="206.54" width="2.97" height="26.16" fill="#0000bf"/>
<rect x="1121.75" y="206.54" width="2.97" height="26.16" fill="#0000a4"/>
<rect x="1207.11" y="206.54" width="2.97" height="26.16" fill="#00009f"/>
<rect x="1209.78" y="206.54" width="2.97" height="26.16" fill="#0000c4"/>
<rect x="1212.45" y="206.54" width="2.97" height="26.16" fill="#002cff"/>
<rect x="1215.12" y="206.54" width="2.97" height="26.16" fill="#0080ff"/>
<rect x="1217.78" y="206.54" width="2.97" height="26.16" fill="#0090ff"/>
<rect x="1220.45" y="206.54" width="2.97" height="26.16" fill="#00a0ff"/>
<rect x="1223.12" y="206.54" width="2.97" height="26.16" fill="#0060ff"/>
<rect x="1225.79" y="206.54" width="2.97" height="26.16" fill="#0000ff"/>
<rect x="1228.45" y="206.54" width="2.97" height="26.16" fill="#0000ad"/>
<rect x="1231.12" y="206.54" width="2.97" height="26.16" fill="#000096"/>
<rect x="1313.81" y="206.54" width="2.97" height="26.16" fill="#000096"/>
<rect x="1316.48" y="206.54" width="2.97" height="26.16" fill="#00009f"/>
<rect x="1319.15" y="206.54" width="2.97" height="26.16" fill="#0000bb"/>
<rect x="1321.82" y="206.54" width="2.97" height="26.16" fill="#0034ff"/>
<rect x="1324.48" y="206.54" width="2.97" height="26.16" fill="#0098ff"/>
<rect x="1327.15" y="206.54" width="2.97" height="26.16" fill="#00b0ff"/>
<rect x="1329.82" y="206.54" width="2.97" height="26.16" fill="#00a0ff"/>
<rect x="1332.49" y="206.54" width="2.97" height="26.16" fill="#006cff"/>
<rect x="1335.15" y="206.54" width="2.97" height="26.16" fill="#0000ff"/>
<rect x="1337.82" y="206.54" width="2.97" height="26.16" fill="#0000a8"/>
<rect x="1340.49" y="206.54" width="2.97" height="26.16" fill="#00009b"/>
<rect x="1423.18" y="206.54" width="2.97" height="26.16" fill="#0000a4"/>
<rect x="1425.85" y="206.54" width="2.97" height="26.16" fill="#0000c4"/>
<rect x="1428.52" y="206.54" width="2.97" height="26.16" fill="#0030ff"/>
<rect x="1431.18" y="206.54" width="2.97" height="26.16" fill="#009cff"/>
<rect x="1433.85" y="206.54" width="2.97" height="26.16" fill="#00d0ff"/>
<rect x="1436.52" y="206.54" width="2.97" height="26.16" fill="#00a8ff"/>
<rect x="1439.18" y="206.54" width="2.97" height="26.16" fill="#009cff"/>
<rect x="1441.85" y="206.54" width="2.97" height="26.16" fill="#0008ff"/>
<rect x="1444.52" y="206.54" width="2.97" height="26.16" fill="#0000b6"/>
<rect x="1447.19" y="206.54" width="2.97" height="26.16" fill="#0000a4"/>
<rect x="988.38" y="232.41" width="2.97" height="26.16" fill="#00009f"/>
<rect x="991.05" y="232.41" width="2.97" height="26.16" fill="#00009f"/>
<rect x="993.71" y="232.41" width="2.97" height="26.16" fill="#0000da"/>
<rect x="996.38" y="232.41" width="2.97" height="26.16" fill="#0050ff"/>
<rect x="999.05" y="232.41" width="2.97" height="26.16" fill="#006cff"/>
<rect x="1001.72" y="232.41" width="2.97" height="26.16" fill="#00acff"/>
<rect x="1004.38" y="232.41" width="2.97" height="26.16" fill="#0090ff"/>
<rect x="1007.05" y="232.41" width="2.97" height="26.16" fill="#0058ff"/>
<rect x="1009.72" y="232.41" width="2.97" height="26.16" fill="#0000f6"/>
<rect x="1012.38" y="232.41" width="2.97" height="26.16" fill="#0000a8"/>
<rect x="1015.05" y="232.41" width="2.97" height="26.16" fill="#000096"/>
<rect x="1097.75" y="232.41" width="2.97" height="26.16" fill="#00009b"/>
<rect x="1100.41" y="232.41" width="2.97" height="26.16" fill="#0000b2"/>
<rect x="1103.08" y="232.41" width="2.97" height="26.16" fill="#0004ff"/>
<rect x="1105.75" y="232.41" width="2.97" height="26.16" fill="#0088ff"/>
<rect x="1108.41" y="232.41" width="2.97" height="26.16" fill="#0090ff"/>
<rect x="1111.08" y="232.41" width="2.97" height="26.16" fill="#00c0ff"/>
<rect x="1113.75" y="232.41" width="2.97" height="26.16" fill="#0098ff"/>
<rect x="1116.42" y="232.41" width="2.97" height="26.16" fill="#0028ff"/>
<rect x="1119.09" y="232.41" width="2.97" height="26.16" fill="#0000b6"/>
<rect x="1121.75" y="232.41" width="2.97" height="26.16" fill="#0000a8"/>
<rect x="1207.11" y="232.41" width="2.97" height="26.16" fill="#0000a8"/>
<rect x="1209.78" y="232.41" width="2.97" height="26.16" fill="#0000c8"/>
<rect x="1212.45" y="232.41" width="2.97" height="26.16" fill="#0038ff"/>
<rect x="1215.12" y="232.41" width="2.97" height="26.16" fill="#009cff"/>
<rect x="1217.78" y="232.41" width="2.97" height="26.16" fill="#00a8ff"/>
<rect x="1220.45" y="232.41" width="2.97" height="26.16" fill="#0090ff"/>
<rect x="1223.12" y="232.41" width="2.97" height="26.16" fill="#0068ff"/>
<rect x="1225.79" y="232.41" width="2.97" height="26.16" fill="#0000f1"/>
<rect x="1228.45" y="232.41" width="2.97" height="26.16" fill="#0000a8"/>
<rect x="1231.12" y="232.41" width="2.97" height="26.16" fill="#00009b"/>
<rect x="1313.81" y="232.41" width="2.97" height="26.16" fill="#000096"/>
<rect x="1316.48" y="232.41" width="2.97" height="26.16" fill="#0000a8"/>
<rect x="1319.15" y="232.41" width="2.97" height="26.16" fill="#0000c8"/>
<rect x="1321.82" y="232.41" width="2.97" height="26.16" fill="#0050ff"/>
<rect x="1324.48" y="232.41" width="2.97" height="26.16" fill="#00acff"/>
<rect x="1327.15" y="232.41" width="2.97" height="26.16" fill="#0088ff"/>
<rect x="1329.82" y="232.41" width="2.97" height="26.16" fill="#0070ff"/>
<rect x="1332.49" y="232.41" width="2.97" height="26.16" fill="#006cff"/>
<rect x="1335.15" y="232.41" width="2.97" height="26.16" fill="#0000d6"/>
<rect x="1337.82" y="232.41" width="2.97" height="26.16" fill="#0000a4"/>
<rect x="1340.49" y="232.41" width="2.97" height="26.16" fill="#000096"/>
<rect x="1423.18" y="232.41" width="2.97" height="26.16" fill="#00009b"/>
<rect x="1425.85" y="232.41" width="2.97" height="26.16" fill="#0000bf"/>
<rect x="1428.52" y="232.41" width="2.97" height="26.16" fill="#002cff"/>
<rect x="1431.18" y="232.41" width="2.97" height="26.16" fill="#0084ff"/>
<rect x="1433.85" y="232.41" width="2.97" height="26.16" fill="#00acff"/>
<rect x="1436.52" y="232.41" width="2.97" height="26.16" fill="#00b4ff"/>
<rect x="1439.18" y="232.41" width="2.97" height="26.16" fill="#00a0ff"/>
<rect x="1441.85" y="232.41" width="2.97" height="26.16" fill="#0020ff"/>
<rect x="1444.52" y="232.41" width="2.97" height="26.16" fill="#0000b2"/>
<rect x="1447.19" y="232.41" width="2.97" height="26.16" fill="#0000a4"/>
<rect x="988.38" y="258.27" width="2.97" height="26.16" fill="#00009b"/>
<rect x="991.05" y="258.27" width="2.97" height="26.16" fill="#0000a4"/>
<rect x="993.71" y="258.27" width="2.97" height="26.16" fill="#0000d6"/>
<rect x="996.38" y="258.27" width="2.97" height="26.16" fill="#003cff"/>
<rect x="999.05" y="258.27" width="2.97" height="26.16" fill="#0074ff"/>
<rect x="1001.72" y="258.27" width="2.97" height="26.16" fill="#00b0ff"/>
<rect x="1004.38" y="258.27" width="2.97" height="26.16" fill="#008cff"/>
<rect x="1007.05" y="258.27" width="2.97" height="26.16" fill="#0068ff"/>
<rect x="1009.72" y="258.27" width="2.97" height="26.16" fill="#0000f1"/>
<rect x="1012.38" y="258.27" width="2.97" height="26.16" fill="#0000a8"/>
<rect x="1015.05" y="258.27" width="2.97" height="26.16" fill="#00009b"/>
<rect x="1097.75" y="258.27" width="2.97" height="26.16" fill="#00009b"/>
<rect x="1100.41" y="258.27" width="2.97" height="26.16" fill="#0000a8"/>
<rect x="1103.08" y="258.27" width="2.97" height="26.16" fill="#0000f1"/>
<rect x="1105.75" y="258.27" width="2.97" height="26.16" fill="#0088ff"/>
<rect x="1108.41" y="258.27" width="2.97" height="26.16" fill="#00a4ff"/>
<rect x="1111.08" y="258.27" width="2.97" height="26.16" fill="#00a8ff"/>
<rect x="1113.75" y="258.27" width="2.97" height="26.16" fill="#0080ff"/>
<rect x="1116.42" y="258.27" width="2.97" height="26.16" fill="#0038ff"/>
<rect x="1119.09" y="258.27" width="2.97" height="26.16" fill="#0000c4"/>
<rect x="1121.75" y="258.27" width="2.97" height="26.16" fill="#0000a4"/>
<rect x="1207.11" y="258.27" width="2.97" height="26.16" fill="#00009f"/>
<rect x="1209.78" y="258.27" width="2.97" height="26.16" fill="#0000b6"/>
<rect x="1212.45" y="258.27" width="2.97" height="26.16" fill="#002cff"/>
<rect x="1215.12" y="258.27" width="2.97" height="26.16" fill="#0070ff"/>
<rect x="1217.78" y="258.27" width="2.97" height="26.16" fill="#0098ff"/>
<rect x="1220.45" y="258.27" width="2.97" height="26.16" fill="#00a0ff"/>
<rect x="1223.12" y="258.27" width="2.97" height="26.16" fill="#0090ff"/>
<rect x="1225.79" y="258.27" width="2.97" height="26.16" fill="#0000ff"/>
<rect x="1228.45" y="258.27" width="2.97" height="26.16" fill="#0000ad"/>
<rect x="1231.12" y="258.27" width="2.97" height="26.16" fill="#00009b"/>
<rect x="1313.81" y="258.27" width="2.97" height="26.16" fill="#00009b"/>
<rect x="1316.48" y="258.27" width="2.97" height="26.16" fill="#0000a8"/>
<rect x="1319.15" y="258.27" width="2.97" height="26.16" fill="#0000cd"/>
<rect x="1321.82" y="258.27" width="2.97" height="26.16" fill="#0044ff"/>
<rect x="1324.48" y="258.27" width="2.97" height="26.16" fill="#00b0ff"/>
<rect x="1327.15" y="258.27" width="2.97" height="26.16" fill="#00e4f8"/>
<rect x="1329.82" y="258.27" width="2.97" height="26.16" fill="#00b0ff"/>
<rect x="1332.49" y="258.27" width="2.97" height="26.16" fill="#007cff"/>
<rect x="1335.15" y="258.27" width="2.97" height="26.16" fill="#0000ed"/>
<rect x="1337.82" y="258.27" width="2.97" height="26.16" fill="#0000a8"/>
<rect x="1340.49" y="258.27" width="2.97" height="26.16" fill="#00009b"/>
<rect x="1423.18" y="258.27" width="2.97" height="26.16" fill="#00009b"/>
<rect x="1425.85" y="258.27" width="2.97" height="26.16" fill="#0000a4"/>
<rect x="1428.52" y="258.27" width="2.97" height="26.16" fill="#0000ff"/>
<rect x="1431.18" y="258.27" width="2.97" height="26.16" fill="#007cff"/>
<rect x="1433.85" y="258.27" width="2.97" height="26.16" fill="#008cff"/>
<rect x="1436.52" y="258.27" width="2.97" height="26.16" fill="#0094ff"/>
<rect x="1439.18" y="258.27" width="2.97" height="26.16" fill="#0068ff"/>
<rect x="1441.85" y="258.27" width="2.97" height="26.16" fill="#000cff"/>
<rect x="1444.52" y="258.27" width="2.97" height="26.16" fill="#0000bb"/>
<rect x="1447.19" y="258.27" width="2.97" height="26.16" fill="#00009b"/>
<rect x="988.38" y="284.13" width="2.97" height="26.16" fill="#00009b"/>
<rect x="991.05" y="284.13" width="2.97" height="26.16" fill="#0000a8"/>
<rect x="993.71" y="284.13" width="2.97" height="26.16" fill="#0000da"/>
<rect x="996.38" y="284.13" width="2.97" height="26.16" fill="#006cff"/>
<rect x="999.05" y="284.13" width="2.97" height="26.16" fill="#0094ff"/>
<rect x="1001.72" y="284.13" width="2.97" height="26.16" fill="#0090ff"/>
<rect x="1004.38" y="284.13" width="2.97" height="26.16" fill="#0084ff"/>
<rect x="1007.05" y="284.13" width="2.97" height="26.16" fill="#0040ff"/>
<rect x="1009.72" y="284.13" width="2.97" height="26.16" fill="#0000d1"/>
<rect x="1012.38" y="284.13" width="2.97" height="26.16" fill="#0000a4"/>
<rect x="1015.05" y="284.13" width="2.97" height="26.16" fill="#00009b"/>
<rect x="1097.75" y="284.13" width="2.97" height="26.16" fill="#0000a4"/>
<rect x="1100.41" y="284.13" width="2.97" height="26.16" fill="#0000b2"/>
<rect x="1103.08" y="284.13" width="2.97" height="26.16" fill="#0018ff"/>
<rect x="1105.75" y="284.13" width="2.97" height="26.16" fill="#0068ff"/>
<rect x="1108.41" y="284.13" width="2.97" height="26.16" fill="#009cff"/>
<rect x="1111.08" y="284.13" width="2.97" height="26.16" fill="#009cff"/>
<rect x="1113.75" y="284.13" width="2.97" height="26.16" fill="#0070ff"/>
<rect x="1116.42" y="284.13" width="2.97" height="26.16" fill="#0008ff"/>
<rect x="1119.09" y="284.13" width="2.97" height="26.16" fill="#0000b6"/>
<rect x="1121.75" y="284.13" width="2.97" height="26.16" fill="#00009f"/>
<rect x="1207.11" y="284.13" width="2.97" height="26.16" fill="#00009b"/>
<rect x="1209.78" y="284.13" width="2.97" height="26.16" fill="#0000bb"/>
<rect x="1212.45" y="284.13" width="2.97" height="26.16" fill="#0000ff"/>
<rect x="1215.12" y="284.13" width="2.97" height="26.16" fill="#007cff"/>
<rect x="1217.78" y="284.13" width="2.97" height="26.16" fill="#00a0ff"/>
<rect x="1220.45" y="284.13" width="2.97" height="26.16" fill="#008cff"/>
<rect x="1223.12" y="284.13" width="2.97" height="26.16" fill="#0070ff"/>
<rect x="1225.79" y="284.13" width="2.97" height="26.16" fill="#0018ff"/>
<rect x="1228.45" y="284.13" width="2.97" height="26.16" fill="#0000b2"/>
<rect x="1231.12" y="284.13" width="2.97" height="26.16" fill="#00009f"/>
<rect x="1313.81" y="284.13" width="2.97" height="26.16" fill="#00009f"/>
<rect x="1316.48" y="284.13" width="2.97" height="26.16" fill="#0000a4"/>
<rect x="1319.15" y="284.13" width="2.97" height="26.16" fill="#0000ff"/>
<rect x="1321.82" y="284.13" width="2.97" height="26.16" fill="#008cff"/>
<rect x="1324.48" y="284.13" width="2.97" height="26.16" fill="#00c4ff"/>
<rect x="1327.15" y="284.13" width="2.97" height="26.16" fill="#00b4ff"/>
<rect x="1329.82" y="284.13" width="2.97" height="26.16" fill="#00a8ff"/>
<rect x="1332.49" y="284.13" width="2.97" height="26.16" fill="#0040ff"/>
<rect x="1335.15" y="284.13" width="2.97" height="26.16" fill="#0000cd"/>
<rect x="1337.82" y="284.13" width="2.97" height="26.16" fill="#0000a4"/>
<rect x="1340.49" y="284.13" width="2.97" height="26.16" fill="#00009b"/>
<rect x="1423.18" y="284.13" width="2.97" height="26.16" fill="#0000a4"/>
<rect x="1425.85" y="284.13" width="2.97" height="26.16" fill="#0000cd"/>
<rect x="1428.52" y="284.13" width="2.97" height="26.16" fill="#0060ff"/>
<rect x="1431.18" y="284.13" width="2.97" height="26.16" fill="#009cff"/>
<rect x="1433.85" y="284.13" width="2.97" height="26.16" fill="#00b4ff"/>
<rect x="1436.52" y="284.13" width="2.97" height="26.16" fill="#007cff"/>
<rect x="1439.18" y="284.13" width="2.97" height="26.16" fill="#0068ff"/>
<rect x="1441.85" y="284.13" width="2.97" height="26.16" fill="#0000f6"/>
<rect x="1444.52" y="284.13" width="2.97" height="26.16" fill="#00009b"/>
<rect x="1447.19" y="284.13" width="2.97" height="26.16" fill="#00009b"/>
<rect x="988.38" y="309.99" width="2.97" height="26.16" fill="#00009b"/>
<rect x="991.05" y="309.99" width="2.97" height="26.16" fill="#0000a8"/>
<rect x="993.71" y="309.99" width="2.97" height="26.16" fill="#0000ed"/>
<rect x="996.38" y="309.99" width="2.97" height="26.16" fill="#0088ff"/>
<rect x="999.05" y="309.99" width="2.97" height="26.16" fill="#00b8ff"/>
<rect x="1001.72" y="309.99" width="2.97" height="26.16" fill="#00ccff"/>
<rect x="1004.38" y="309.99" width="2.97" height="26.16" fill="#00bcff"/>
<rect x="1007.05" y="309.99" width="2.97" height="26.16" fill="#0088ff"/>
<rect x="1009.72" y="309.99" width="2.97" height="26.16" fill="#0000df"/>
<rect x="1012.38" y="309.99" width="2.97" height="26.16" fill="#0000a4"/>
<rect x="1015.05" y="309.99" width="2.97" height="26.16" fill="#00009b"/>
<rect x="1097.75" y="309.99" width="2.97" height="26.16" fill="#00009f"/>
<rect x="1100.41" y="309.99" width="2.97" height="26.16" fill="#0000bb"/>
<rect x="1103.08" y="309.99" width="2.97" height="26.16" fill="#0008ff"/>
<rect x="1105.75" y="309.99" width="2.97" height="26.16" fill="#0054ff"/>
<rect x="1108.41" y="309.99" width="2.97" height="26.16" fill="#00a0ff"/>
<rect x="1111.08" y="309.99" width="2.97" height="26.16" fill="#00c4ff"/>
<rect x="1113.75" y="309.99" width="2.97" height="26.16" fill="#0084ff"/>
<rect x="1116.42" y="309.99" width="2.97" height="26.16" fill="#0028ff"/>
<rect x="1119.09" y="309.99" width="2.97" height="26.16" fill="#0000bb"/>
<rect x="1121.75" y="309.99" width="2.97" height="26.16" fill="#00009f"/>
<rect x="1207.11" y="309.99" width="2.97" height="26.16" fill="#0000a8"/>
<rect x="1209.78" y="309.99" width="2.97" height="26.16" fill="#0000df"/>
<rect x="1212.45" y="309.99" width="2.97" height="26.16" fill="#0070ff"/>
<rect x="1215.12" y="309.99" width="2.97" height="26.16" fill="#008cff"/>
<rect x="1217.78" y="309.99" width="2.97" height="26.16" fill="#00c0ff"/>
<rect x="1220.45" y="309.99" width="2.97" height="26.16" fill="#00acff"/>
<rect x="1223.12" y="309.99" width="2.97" height="26.16" fill="#0078ff"/>
<rect x="1225.79" y="309.99" width="2.97" height="26.16" fill="#0000d6"/>
<rect x="1228.45" y="309.99" width="2.97" height="26.16" fill="#0000a4"/>
<rect x="1231.12" y="309.99" width="2.97" height="26.16" fill="#00009b"/>
<rect x="1313.81" y="309.99" width="2.97" height="26.16" fill="#000092"/>
<rect x="1316.48" y="309.99" width="2.97" height="26.16" fill="#0000ad"/>
<rect x="1319.15" y="309.99" width="2.97" height="26.16" fill="#0000d1"/>
<rect x="1321.82" y="309.99" width="2.97" height="26.16" fill="#0070ff"/>
<rect x="1324.48" y="309.99" width="2.97" height="26.16" fill="#00b4ff"/>
<rect x="1327.15" y="309.99" width="2.97" height="26.16" fill="#09f0ee"/>
<rect x="1329.82" y="309.99" width="2.97" height="26.16" fill="#00c4ff"/>
<rect x="1332.49" y="309.99" width="2.97" height="26.16" fill="#0088ff"/>
<rect x="1335.15" y="309.99" width="2.97" height="26.16" fill="#0000fa"/>
<rect x="1337.82" y="309.99" width="2.97" height="26.16" fill="#0000b2"/>
<rect x="1340.49" y="309.99" width="2.97" height="26.16" fill="#0000a4"/>
<rect x="1423.18" y="309.99" width="2.97" height="26.16" fill="#00009b"/>
<rect x="1425.85" y="309.99" width="2.97" height="26.16" fill="#0000b2"/>
<rect x="1428.52" y="309.99" width="2.97" height="26.16" fill="#0000ff"/>
<rect x="1431.18" y="309.99" width="2.97" height="26.16" fill="#0098ff"/>
<rect x="1433.85" y="309.99" width="2.97" height="26.16" fill="#00bcff"/>
<rect x="1436.52" y="309.99" width="2.97" height="26.16" fill="#0088ff"/>
<rect x="1439.18" y="309.99" width="2.97" height="26.16" fill="#00b4ff"/>
<rect x="1441.85" y="309.99" width="2.97" height="26.16" fill="#003cff"/>
<rect x="1444.52" y="309.99" width="2.97" height="26.16" fill="#0000b2"/>
<rect x="1447.19" y="309.99" width="2.97" height="26.16" fill="#00009b"/>
<rect x="988.38" y="335.86" width="2.97" height="26.16" fill="#000096"/>
<rect x="991.05" y="335.86" width="2.97" height="26.16" fill="#0000a8"/>
<rect x="993.71" y="335.86" width="2.97" height="26.16" fill="#0000df"/>
<rect x="996.38" y="335.86" width="2.97" height="26.16" fill="#0054ff"/>
<rect x="999.05" y="335.86" width="2.97" height="26.16" fill="#0090ff"/>
<rect x="1001.72" y="335.86" width="2.97" height="26.16" fill="#00a8ff"/>
<rect x="1004.38" y="335.86" width="2.97" height="26.16" fill="#006cff"/>
<rect x="1007.05" y="335.86" width="2.97" height="26.16" fill="#003cff"/>
<rect x="1009.72" y="335.86" width="2.97" height="26.16" fill="#0000c8"/>
<rect x="1012.38" y="335.86" width="2.97" height="26.16" fill="#00009b"/>
<rect x="1015.05" y="335.86" width="2.97" height="26.16" fill="#000096"/>
<rect x="1097.75" y="335.86" width="2.97" height="26.16" fill="#00009b"/>
<rect x="1100.41" y="335.86" width="2.97" height="26.16" fill="#0000b6"/>
<rect x="1103.08" y="335.86" width="2.97" height="26.16" fill="#0000fa"/>
<rect x="1105.75" y="335.86" width="2.97" height="26.16" fill="#00b0ff"/>
<rect x="1108.41" y="335.86" width="2.97" height="26.16" fill="#00b4ff"/>
<rect x="1111.08" y="335.86" width="2.97" height="26.16" fill="#008cff"/>
<rect x="1113.75" y="335.86" width="2.97" height="26.16" fill="#0090ff"/>
<rect x="1116.42" y="335.86" width="2.97" height="26.16" fill="#005cff"/>
<rect x="1119.09" y="335.86" width="2.97" height="26.16" fill="#0000bf"/>
<rect x="1121.75" y="335.86" width="2.97" height="26.16" fill="#0000a4"/>
<rect x="1207.11" y="335.86" width="2.97" height="26.16" fill="#00009f"/>
<rect x="1209.78" y="335.86" width="2.97" height="26.16" fill="#0000bf"/>
<rect x="1212.45" y="335.86" width="2.97" height="26.16" fill="#0020ff"/>
<rect x="1215.12" y="335.86" width="2.97" height="26.16" fill="#00a0ff"/>
<rect x="1217.78" y="335.86" width="2.97" height="26.16" fill="#00c4ff"/>
<rect x="1220.45" y="335.86" width="2.97" height="26.16" fill="#00acff"/>
<rect x="1223.12" y="335.86" width="2.97" height="26.16" fill="#0084ff"/>
<rect x="1225.79" y="335.86" width="2.97" height="26.16" fill="#000cff"/>
<rect x="1228.45" y="335.86" width="2.97" height="26.16" fill="#0000bb"/>
<rect x="1231.12" y="335.86" width="2.97" height="26.16" fill="#0000a8"/>
<rect x="1313.81" y="335.86" width="2.97" height="26.16" fill="#00009b"/>
<rect x="1316.48" y="335.86" width="2.97" height="26.16" fill="#0000a4"/>
<rect x="1319.15" y="335.86" width="2.97" height="26.16" fill="#0000c8"/>
<rect x="1321.82" y="335.86" width="2.97" height="26.16" fill="#0048ff"/>
<rect x="1324.48" y="335.86" width="2.97" height="26.16" fill="#0098ff"/>
<rect x="1327.15" y="335.86" width="2.97" height="26.16" fill="#0094ff"/>
<rect x="1329.82" y="335.86" width="2.97" height="26.16" fill="#0074ff"/>
<rect x="1332.49" y="335.86" width="2.97" height="26.16" fill="#0054ff"/>
<rect x="1335.15" y="335.86" width="2.97" height="26.16" fill="#0000da"/>
<rect x="1337.82" y="335.86" width="2.97" height="26.16" fill="#0000a8"/>
<rect x="1340.49" y="335.86" width="2.97" height="26.16" fill="#00009b"/>
<rect x="1423.18" y="335.86" width="2.97" height="26.16" fill="#00009b"/>
<rect x="1425.85" y="335.86" width="2.97" height="26.16" fill="#0000ad"/>
<rect x="1428.52" y="335.86" width="2.97" height="26.16" fill="#0008ff"/>
<rect x="1431.18" y="335.86" width="2.97" height="26.16" fill="#0090ff"/>
<rect x="1433.85" y="335.86" width="2.97" height="26.16" fill="#00b8ff"/>
<rect x="1436.52" y="335.86" width="2.97" height="26.16" fill="#0094ff"/>
<rect x="1439.18" y="335.86" width="2.97" height="26.16" fill="#00c4ff"/>
<rect x="1441.85" y="335.86" width="2.97" height="26.16" fill="#0050ff"/>
<rect x="1444.52" y="335.86" width="2.97" height="26.16" fill="#0000c8"/>
<rect x="1447.19" y="335.86" width="2.97" height="26.16" fill="#0000a4"/>
<rect x="988.38" y="361.72" width="2.97" height="26.16" fill="#000096"/>
<rect x="991.05" y="361.72" width="2.97" height="26.16" fill="#0000a8"/>
<rect x="993.71" y="361.72" width="2.97" height="26.16" fill="#0000e3"/>
<rect x="996.38" y="361.72" width="2.97" height="26.16" fill="#0074ff"/>
<rect x="999.05" y="361.72" width="2.97" height="26.16" fill="#0080ff"/>
<rect x="1001.72" y="361.72" width="2.97" height="26.16" fill="#0084ff"/>
<rect x="1004.38" y="361.72" width="2.97" height="26.16" fill="#0090ff"/>
<rect x="1007.05" y="361.72" width="2.97" height="26.16" fill="#005cff"/>
<rect x="1009.72" y="361.72" width="2.97" height="26.16" fill="#0000c8"/>
<rect x="1012.38" y="361.72" width="2.97" height="26.16" fill="#00009b"/>
<rect x="1015.05" y="361.72" width="2.97" height="26.16" fill="#00009b"/>
<rect x="1097.75" y="361.72" width="2.97" height="26.16" fill="#00009f"/>
<rect x="1100.41" y="361.72" width="2.97" height="26.16" fill="#0000a8"/>
<rect x="1103.08" y="361.72" width="2.97" height="26.16" fill="#0000ff"/>
<rect x="1105.75" y="361.72" width="2.97" height="26.16" fill="#0098ff"/>
<rect x="1108.41" y="361.72" width="2.97" height="26.16" fill="#00c8ff"/>
<rect x="1111.08" y="361.72" width="2.97" height="26.16" fill="#00c8ff"/>
<rect x="1113.75" y="361.72" width="2.97" height="26.16" fill="#009cff"/>
<rect x="1116.42" y="361.72" width="2.97" height="26.16" fill="#0024ff"/>
<rect x="1119.09" y="361.72" width="2.97" height="26.16" fill="#0000bb"/>
<rect x="1121.75" y="361.72" width="2.97" height="26.16" fill="#0000a4"/>
<rect x="1207.11" y="361.72" width="2.97" height="26.16" fill="#00009f"/>
<rect x="1209.78" y="361.72" width="2.97" height="26.16" fill="#0000d1"/>
<rect x="1212.45" y="361.72" width="2.97" height="26.16" fill="#0054ff"/>
<rect x="1215.12" y="361.72" width="2.97" height="26.16" fill="#0084ff"/>
<rect x="1217.78" y="361.72" width="2.97" height="26.16" fill="#00a8ff"/>
<rect x="1220.45" y="361.72" width="2.97" height="26.16" fill="#008cff"/>
<rect x="1223.12" y="361.72" width="2.97" height="26.16" fill="#007cff"/>
<rect x="1225.79" y="361.72" width="2.97" height="26.16" fill="#0000fa"/>
<rect x="1228.45" y="361.72" width="2.97" height="26.16" fill="#0000a8"/>
<rect x="1231.12" y="361.72" width="2.97" height="26.16" fill="#00009f"/>
<rect x="1313.81" y="361.72" width="2.97" height="26.16" fill="#000092"/>
<rect x="1316.48" y="361.72" width="2.97" height="26.16" fill="#0000a4"/>
<rect x="1319.15" y="361.72" width="2.97" height="26.16" fill="#0000c4"/>
<rect x="1321.82" y="361.72" width="2.97" height="26.16" fill="#004cff"/>
<rect x="1324.48" y="361.72" width="2.97" height="26.16" fill="#009cff"/>
<rect x="1327.15" y="361.72" width="2.97" height="26.16" fill="#06ecf1"/>
<rect x="1329.82" y="361.72" width="2.97" height="26.16" fill="#00b8ff"/>
<rect x="1332.49" y="361.72" width="2.97" height="26.16" fill="#0088ff"/>
<rect x="1335.15" y="361.72" width="2.97" height="26.16" fill="#0000ff"/>
<rect x="1337.82" y="361.72" width="2.97" height="26.16" fill="#0000b6"/>
<rect x="1340.49" y="361.72" width="2.97" height="26.16" fill="#00009f"/>
<rect x="1423.18" y="361.72" width="2.97" height="26.16" fill="#00009b"/>
<rect x="1425.85" y="361.72" width="2.97" height="26.16" fill="#0000b6"/>
<rect x="1428.52" y="361.72" width="2.97" height="26.16" fill="#0014ff"/>
<rect x="1431.18" y="361.72" width="2.97" height="26.16" fill="#0078ff"/>
<rect x="1433.85" y="361.72" width="2.97" height="26.16" fill="#00a0ff"/>
<rect x="1436.52" y="361.72" width="2.97" height="26.16" fill="#00c4ff"/>
<rect x="1439.18" y="361.72" width="2.97" height="26.16" fill="#0098ff"/>
<rect x="1441.85" y="361.72" width="2.97" height="26.16" fill="#0010ff"/>
<rect x="1444.52" y="361.72" width="2.97" height="26.16" fill="#0000bb"/>
<rect x="1447.19" y="361.72" width="2.97" height="26.16" fill="#00009f"/>
<rect x="988.38" y="387.58" width="2.97" height="26.16" fill="#000096"/>
<rect x="991.05" y="387.58" width="2.97" height="26.16" fill="#0000ad"/>
<rect x="993.71" y="387.58" width="2.97" height="26.16" fill="#0000f1"/>
<rect x="996.38" y="387.58" width="2.97" height="26.16" fill="#006cff"/>
<rect x="999.05" y="387.58" width="2.97" height="26.16" fill="#0094ff"/>
<rect x="1001.72" y="387.58" width="2.97" height="26.16" fill="#0098ff"/>
<rect x="1004.38" y="387.58" width="2.97" height="26.16" fill="#00c8ff"/>
<rect x="1007.05" y="387.58" width="2.97" height="26.16" fill="#002cff"/>
<rect x="1009.72" y="387.58" width="2.97" height="26.16" fill="#0000bf"/>
<rect x="1012.38" y="387.58" width="2.97" height="26.16" fill="#0000a4"/>
<rect x="1015.05" y="387.58" width="2.97" height="26.16" fill="#000092"/>
<rect x="1097.75" y="387.58" width="2.97" height="26.16" fill="#0000a4"/>
<rect x="1100.41" y="387.58" width="2.97" height="26.16" fill="#0000b6"/>
<rect x="1103.08" y="387.58" width="2.97" height="26.16" fill="#0008ff"/>
<rect x="1105.75" y="387.58" width="2.97" height="26.16" fill="#0080ff"/>
<rect x="1108.41" y="387.58" width="2.97" height="26.16" fill="#00acff"/>
<rect x="1111.08" y="387.58" width="2.97" height="26.16" fill="#008cff"/>
<rect x="1113.75" y="387.58" width="2.97" height="26.16" fill="#006cff"/>
<rect x="1116.42" y="387.58" width="2.97" height="26.16" fill="#003cff"/>
<rect x="1119.09" y="387.58" width="2.97" height="26.16" fill="#0000b2"/>
<rect x="1121.75" y="387.58" width="2.97" height="26.16" fill="#00009b"/>
<rect x="1207.11" y="387.58" width="2.97" height="26.16" fill="#00009f"/>
<rect x="1209.78" y="387.58" width="2.97" height="26.16" fill="#0000c4"/>
<rect x="1212.45" y="387.58" width="2.97" height="26.16" fill="#005cff"/>
<rect x="1215.12" y="387.58" width="2.97" height="26.16" fill="#0070ff"/>
<rect x="1217.78" y="387.58" width="2.97" height="26.16" fill="#00b8ff"/>
<rect x="1220.45" y="387.58" width="2.97" height="26.16" fill="#00b4ff"/>
<rect x="1223.12" y="387.58" width="2.97" height="26.16" fill="#0078ff"/>
<rect x="1225.79" y="387.58" width="2.97" height="26.16" fill="#0000f1"/>
<rect x="1228.45" y="387.58" width="2.97" height="26.16" fill="#0000a8"/>
<rect x="1231.12" y="387.58" width="2.97" height="26.16" fill="#00009b"/>
<rect x="1313.81" y="387.58" width="2.97" height="26.16" fill="#00009b"/>
<rect x="1316.48" y="387.58" width="2.97" height="26.16" fill="#0000a4"/>
<rect x="1319.15" y="387.58" width="2.97" height="26.16" fill="#0000d6"/>
<rect x="1321.82" y="387.58" width="2.97" height="26.16" fill="#006cff"/>
<rect x="1324.48" y="387.58" width="2.97" height="26.16" fill="#00a4ff"/>
<rect x="1327.15" y="387.58" width="2.97" height="26.16" fill="#00b8ff"/>
<rect x="1329.82" y="387.58" width="2.97" height="26.16" fill="#00d0ff"/>
<rect x="1332.49" y="387.58" width="2.97" height="26.16" fill="#0058ff"/>
<rect x="1335.15" y="387.58" width="2.97" height="26.16" fill="#0000da"/>
<rect x="1337.82" y="387.58" width="2.97" height="26.16" fill="#0000a8"/>
<rect x="1340.49" y="387.58" width="2.97" height="26.16" fill="#000096"/>
<rect x="1423.18" y="387.58" width="2.97" height="26.16" fill="#00009f"/>
<rect x="1425.85" y="387.58" width="2.97" height="26.16" fill="#0000bb"/>
<rect x="1428.52" y="387.58" width="2.97" height="26.16" fill="#0038ff"/>
<rect x="1431.18" y="387.58" width="2.97" height="26.16" fill="#0088ff"/>
<rect x="1433.85" y="387.58" width="2.97" height="26.16" fill="#00a8ff"/>
<rect x="1436.52" y="387.58" width="2.97" height="26.16" fill="#00bcff"/>
<rect x="1439.18" y="387.58" width="2.97" height="26.16" fill="#0098ff"/>
<rect x="1441.85" y="387.58" width="2.97" height="26.16" fill="#0000ff"/>
<rect x="1444.52" y="387.58" width="2.97" height="26.16" fill="#0000b2"/>
<rect x="1447.19" y="387.58" width="2.97" height="26.16" fill="#00009f"/>
<rect x="988.38" y="413.45" width="2.97" height="26.16" fill="#00009b"/>
<rect x="991.05" y="413.45" width="2.97" height="26.16" fill="#0000a8"/>
<rect x="993.71" y="413.45" width="2.97" height="26.16" fill="#0000ff"/>
<rect x="996.38" y="413.45" width="2.97" height="26.16" fill="#0074ff"/>
<rect x="999.05" y="413.45" width="2.97" height="26.16" fill="#008cff"/>
<rect x="1001.72" y="413.45" width="2.97" height="26.16" fill="#00b8ff"/>
<rect x="1004.38" y="413.45" width="2.97" height="26.16" fill="#008cff"/>
<rect x="1007.05" y="413.45" width="2.97" height="26.16" fill="#004cff"/>
<rect x="1009.72" y="413.45" width="2.97" height="26.16" fill="#0000c4"/>
<rect x="1012.38" y="413.45" width="2.97" height="26.16" fill="#00009f"/>
<rect x="1015.05" y="413.45" width="2.97" height="26.16" fill="#000096"/>
<rect x="1097.75" y="413.45" width="2.97" height="26.16" fill="#0000a4"/>
<rect x="1100.41" y="413.45" width="2.97" height="26.16" fill="#0000bb"/>
<rect x="1103.08" y="413.45" width="2.97" height="26.16" fill="#0038ff"/>
<rect x="1105.75" y="413.45" width="2.97" height="26.16" fill="#0080ff"/>
<rect x="1108.41" y="413.45" width="2.97" height="26.16" fill="#00c0ff"/>
<rect x="1111.08" y="413.45" width="2.97" height="26.16" fill="#009cff"/>
<rect x="1113.75" y="413.45" width="2.97" height="26.16" fill="#00a4ff"/>
<rect x="1116.42" y="413.45" width="2.97" height="26.16" fill="#0014ff"/>
<rect x="1119.09" y="413.45" width="2.97" height="26.16" fill="#0000b6"/>
<rect x="1121.75" y="413.45" width="2.97" height="26.16" fill="#00009f"/>
<rect x="1207.11" y="413.45" width="2.97" height="26.16" fill="#00009f"/>
<rect x="1209.78" y="413.45" width="2.97" height="26.16" fill="#0000c8"/>
<rect x="1212.45" y="413.45" width="2.97" height="26.16" fill="#0020ff"/>
<rect x="1215.12" y="413.45" width="2.97" height="26.16" fill="#0088ff"/>
<rect x="1217.78" y="413.45" width="2.97" height="26.16" fill="#0090ff"/>
<rect x="1220.45" y="413.45" width="2.97" height="26.16" fill="#0090ff"/>
<rect x="1223.12" y="413.45" width="2.97" height="26.16" fill="#005cff"/>
<rect x="1225.79" y="413.45" width="2.97" height="26.16" fill="#0000e8"/>
<rect x="1228.45" y="413.45" width="2.97" height="26.16" fill="#0000a4"/>
<rect x="1231.12" y="413.45" width="2.97" height="26.16" fill="#00009b"/>
<rect x="1313.81" y="413.45" width="2.97" height="26.16" fill="#00009b"/>
<rect x="1316.48" y="413.45" width="2.97" height="26.16" fill="#0000a4"/>
<rect x="1319.15" y="413.45" width="2.97" height="26.16" fill="#0000df"/>
<rect x="1321.82" y="413.45" width="2.97" height="26.16" fill="#0044ff"/>
<rect x="1324.48" y="413.45" width="2.97" height="26.16" fill="#0078ff"/>
<rect x="1327.15" y="413.45" width="2.97" height="26.16" fill="#0078ff"/>
<rect x="1329.82" y="413.45" width="2.97" height="26.16" fill="#0084ff"/>
<rect x="1332.49" y="413.45" width="2.97" height="26.16" fill="#0038ff"/>
<rect x="1335.15" y="413.45" width="2.97" height="26.16" fill="#0000bf"/>
<rect x="1337.82" y="413.45" width="2.97" height="26.16" fill="#00009b"/>
<rect x="1340.49" y="413.45" width="2.97" height="26.16" fill="#000092"/>
<rect x="1423.18" y="413.45" width="2.97" height="26.16" fill="#00009f"/>
<rect x="1425.85" y="413.45" width="2.97" height="26.16" fill="#0000d1"/>
<rect x="1428.52" y="413.45" width="2.97" height="26.16" fill="#003cff"/>
<rect x="1431.18" y="413.45" width="2.97" height="26.16" fill="#00a4ff"/>
<rect x="1433.85" y="413.45" width="2.97" height="26.16" fill="#00c0ff"/>
<rect x="1436.52" y="413.45" width="2.97" height="26.16" fill="#00b4ff"/>
<rect x="1439.18" y="413.45" width="2.97" height="26.16" fill="#0078ff"/>
<rect x="1441.85" y="413.45" width="2.97" height="26.16" fill="#0018ff"/>
<rect x="1444.52" y="413.45" width="2.97" height="26.16" fill="#0000ad"/>
<rect x="1447.19" y="413.45" width="2.97" height="26.16" fill="#0000a4"/>
<rect x="988.38" y="439.31" width="2.97" height="26.16" fill="#000096"/>
<rect x="991.05" y="439.31" width="2.97" height="26.16" fill="#0000ad"/>
<rect x="993.71" y="439.31" width="2.97" height="26.16" fill="#0000e3"/>
<rect x="996.38" y="439.31" width="2.97" height="26.16" fill="#0088ff"/>
<rect x="999.05" y="439.31" width="2.97" height="26.16" fill="#00b4ff"/>
<rect x="1001.72" y="439.31" width="2.97" height="26.16" fill="#00b8ff"/>
<rect x="1004.38" y="439.31" width="2.97" height="26.16" fill="#00d8ff"/>
<rect x="1007.05" y="439.31" width="2.97" height="26.16" fill="#004cff"/>
<rect x="1009.72" y="439.31" width="2.97" height="26.16" fill="#0000da"/>
<rect x="1012.38" y="439.31" width="2.97" height="26.16" fill="#0000a4"/>
<rect x="1015.05" y="439.31" width="2.97" height="26.16" fill="#00009f"/>
<rect x="1097.75" y="439.31" width="2.97" height="26.16" fill="#00009b"/>
<rect x="1100.41" y="439.31" width="2.97" height="26.16" fill="#0000a8"/>
<rect x="1103.08" y="439.31" width="2.97" height="26.16" fill="#0000ed"/>
<rect x="1105.75" y="439.31" width="2.97" height="26.16" fill="#0048ff"/>
<rect x="1108.41" y="439.31" width="2.97" height="26.16" fill="#00c0ff"/>
<rect x="1111.08" y="439.31" width="2.97" height="26.16" fill="#00b4ff"/>
<rect x="1113.75" y="439.31" width="2.97" height="26.16" fill="#0080ff"/>
<rect x="1116.42" y="439.31" width="2.97" height="26.16" fill="#005cff"/>
<rect x="1119.09" y="439.31" width="2.97" height="26.16" fill="#0000d1"/>
<rect x="1121.75" y="439.31" width="2.97" height="26.16" fill="#00009b"/>
<rect x="1207.11" y="439.31" width="2.97" height="26.16" fill="#0000a4"/>
<rect x="1209.78" y="439.31" width="2.97" height="26.16" fill="#0000d1"/>
<rect x="1212.45" y="439.31" width="2.97" height="26.16" fill="#0044ff"/>
<rect x="1215.12" y="439.31" width="2.97" height="26.16" fill="#0064ff"/>
<rect x="1217.78" y="439.31" width="2.97" height="26.16" fill="#0080ff"/>
<rect x="1220.45" y="439.31" width="2.97" height="26.16" fill="#0060ff"/>
<rect x="1223.12" y="439.31" width="2.97" height="26.16" fill="#0024ff"/>
<rect x="1225.79" y="439.31" width="2.97" height="26.16" fill="#0000d1"/>
<rect x="1228.45" y="439.31" width="2.97" height="26.16" fill="#00009b"/>
<rect x="1231.12" y="439.31" width="2.97" height="26.16" fill="#000096"/>
<rect x="1313.81" y="439.31" width="2.97" height="26.16" fill="#000096"/>
<rect x="1316.48" y="439.31" width="2.97" height="26.16" fill="#0000a8"/>
<rect x="1319.15" y="439.31" width="2.97" height="26.16" fill="#0000ed"/>
<rect x="1321.82" y="439.31" width="2.97" height="26.16" fill="#007cff"/>
<rect x="1324.48" y="439.31" width="2.97" height="26.16" fill="#00dcfe"/>
<rect x="1327.15" y="439.31" width="2.97" height="26.16" fill="#00ccff"/>
<rect x="1329.82" y="439.31" width="2.97" height="26.16" fill="#00a0ff"/>
<rect x="1332.49" y="439.31" width="2.97" height="26.16" fill="#0064ff"/>
<rect x="1335.15" y="439.31" width="2.97" height="26.16" fill="#0000e8"/>
<rect x="1337.82" y="439.31" width="2.97" height="26.16" fill="#0000a8"/>
<rect x="1340.49" y="439.31" width="2.97" height="26.16" fill="#000096"/>
<rect x="1423.18" y="439.31" width="2.97" height="26.16" fill="#0000a8"/>
<rect x="1425.85" y="439.31" width="2.97" height="26.16" fill="#0000bf"/>
<rect x="1428.52" y="439.31" width="2.97" height="26.16" fill="#0034ff"/>
<rect x="1431.18" y="439.31" width="2.97" height="26.16" fill="#0098ff"/>
<rect x="1433.85" y="439.31" width="2.97" height="26.16" fill="#00c4ff"/>
<rect x="1436.52" y="439.31" width="2.97" height="26.16" fill="#00acff"/>
<rect x="1439.18" y="439.31" width="2.97" height="26.16" fill="#00b0ff"/>
<rect x="1441.85" y="439.31" width="2.97" height="26.16" fill="#0010ff"/>
<rect x="1444.52" y="439.31" width="2.97" height="26.16" fill="#0000bf"/>
<rect x="1447.19" y="439.31" width="2.97" height="26.16" fill="#00009b"/>
<rect x="988.38" y="465.17" width="2.97" height="26.16" fill="#00009f"/>
<rect x="991.05" y="465.17" width="2.97" height="26.16" fill="#0000a4"/>
<rect x="993.71" y="465.17" width="2.97" height="26.16" fill="#0008ff"/>
<rect x="996.38" y="465.17" width="2.97" height="26.16" fill="#0094ff"/>
<rect x="999.05" y="465.17" width="2.97" height="26.16" fill="#00d4ff"/>
<rect x="1001.72" y="465.17" width="2.97" height="26.16" fill="#00ccff"/>
<rect x="1004.38" y="465.17" width="2.97" height="26.16" fill="#0088ff"/>
<rect x="1007.05" y="465.17" width="2.97" height="26.16" fill="#005cff"/>
<rect x="1009.72" y="465.17" width="2.97" height="26.16" fill="#0000c8"/>
<rect x="1012.38" y="465.17" width="2.97" height="26.16" fill="#0000a8"/>
<rect x="1015.05" y="465.17" width="2.97" height="26.16" fill="#00009f"/>
<rect x="1097.75" y="465.17" width="2.97" height="26.16" fill="#00009f"/>
<rect x="1100.41" y="465.17" width="2.97" height="26.16" fill="#0000b6"/>
<rect x="1103.08" y="465.17" width="2.97" height="26.16" fill="#0014ff"/>
<rect x="1105.75" y="465.17" width="2.97" height="26.16" fill="#00a0ff"/>
<rect x="1108.41" y="465.17" width="2.97" height="26.16" fill="#009cff"/>
<rect x="1111.08" y="465.17" width="2.97" height="26.16" fill="#00a8ff"/>
<rect x="1113.75" y="465.17" width="2.97" height="26.16" fill="#0094ff"/>
<rect x="1116.42" y="465.17" width="2.97" height="26.16" fill="#0014ff"/>
<rect x="1119.09" y="465.17" width="2.97" height="26.16" fill="#0000ad"/>
<rect x="1121.75" y="465.17" width="2.97" height="26.16" fill="#00009f"/>
<rect x="1207.11" y="465.17" width="2.97" height="26.16" fill="#0000a4"/>
<rect x="1209.78" y="465.17" width="2.97" height="26.16" fill="#0000df"/>
<rect x="1212.45" y="465.17" width="2.97" height="26.16" fill="#005cff"/>
<rect x="1215.12" y="465.17" width="2.97" height="26.16" fill="#0068ff"/>
<rect x="1217.78" y="465.17" width="2.97" height="26.16" fill="#0088ff"/>
<rect x="1220.45" y="465.17" width="2.97" height="26.16" fill="#0070ff"/>
<rect x="1223.12" y="465.17" width="2.97" height="26.16" fill="#002cff"/>
<rect x="1225.79" y="465.17" width="2.97" height="26.16" fill="#0000c4"/>
<rect x="1228.45" y="465.17" width="2.97" height="26.16" fill="#0000a4"/>
<rect x="1231.12" y="465.17" width="2.97" height="26.16" fill="#000096"/>
<rect x="1313.81" y="465.17" width="2.97" height="26.16" fill="#000096"/>
<rect x="1316.48" y="465.17" width="2.97" height="26.16" fill="#0000a8"/>
<rect x="1319.15" y="465.17" width="2.97" height="26.16" fill="#0000f6"/>
<rect x="1321.82" y="465.17" width="2.97" height="26.16" fill="#0074ff"/>
<rect x="1324.48" y="465.17" width="2.97" height="26.16" fill="#00bcff"/>
<rect x="1327.15" y="465.17" width="2.97" height="26.16" fill="#00a4ff"/>
<rect x="1329.82" y="465.17" width="2.97" height="26.16" fill="#0098ff"/>
<rect x="1332.49" y="465.17" width="2.97" height="26.16" fill="#0068ff"/>
<rect x="1335.15" y="465.17" width="2.97" height="26.16" fill="#0000da"/>
<rect x="1337.82" y="465.17" width="2.97" height="26.16" fill="#0000a4"/>
<rect x="1340.49" y="465.17" width="2.97" height="26.16" fill="#000096"/>
<rect x="1423.18" y="465.17" width="2.97" height="26.16" fill="#00009b"/>
<rect x="1425.85" y="465.17" width="2.97" height="26.16" fill="#0000ad"/>
<rect x="1428.52" y="465.17" width="2.97" height="26.16" fill="#0000ff"/>
<rect x="1431.18" y="465.17" width="2.97" height="26.16" fill="#0068ff"/>
<rect x="1433.85" y="465.17" width="2.97" height="26.16" fill="#007cff"/>
<rect x="1436.52" y="465.17" width="2.97" height="26.16" fill="#0080ff"/>
<rect x="1439.18" y="465.17" width="2.97" height="26.16" fill="#005cff"/>
<rect x="1441.85" y="465.17" width="2.97" height="26.16" fill="#0008ff"/>
<rect x="1444.52" y="465.17" width="2.97" height="26.16" fill="#0000ad"/>
<rect x="1447.19" y="465.17" width="2.97" height="26.16" fill="#0000a4"/>
<rect x="988.38" y="491.04" width="2.97" height="30.16" fill="#000096"/>
<rect x="991.05" y="491.04" width="2.97" height="30.16" fill="#0000a8"/>
<rect x="993.71" y="491.04" width="2.97" height="30.16" fill="#0000fa"/>
<rect x="996.38" y="491.04" width="2.97" height="30.16" fill="#0070ff"/>
<rect x="999.05" y="491.04" width="2.97" height="30.16" fill="#00b4ff"/>
<rect x="1001.72" y="491.04" width="2.97" height="30.16" fill="#00b4ff"/>
<rect x="1004.38" y="491.04" width="2.97" height="30.16" fill="#00a0ff"/>
<rect x="1007.05" y="491.04" width="2.97" height="30.16" fill="#0060ff"/>
<rect x="1009.72" y="491.04" width="2.97" height="30.16" fill="#0000c8"/>
<rect x="1012.38" y="491.04" width="2.97" height="30.16" fill="#00009f"/>
<rect x="1015.05" y="491.04" width="2.97" height="30.16" fill="#000096"/>
<rect x="1097.75" y="491.04" width="2.97" height="30.16" fill="#000096"/>
<rect x="1100.41" y="491.04" width="2.97" height="30.16" fill="#0000ad"/>
<rect x="1103.08" y="491.04" width="2.97" height="30.16" fill="#0000f1"/>
<rect x="1105.75" y="491.04" width="2.97" height="30.16" fill="#005cff"/>
<rect x="1108.41" y="491.04" width="2.97" height="30.16" fill="#0080ff"/>
<rect x="1111.08" y="491.04" width="2.97" height="30.16" fill="#0090ff"/>
<rect x="1113.75" y="491.04" width="2.97" height="30.16" fill="#007cff"/>
<rect x="1116.42" y="491.04" width="2.97" height="30.16" fill="#0028ff"/>
<rect x="1119.09" y="491.04" width="2.97" height="30.16" fill="#0000bb"/>
<rect x="1121.75" y="491.04" width="2.97" height="30.16" fill="#00009b"/>
<rect x="1207.11" y="491.04" width="2.97" height="30.16" fill="#0000a8"/>
<rect x="1209.78" y="491.04" width="2.97" height="30.16" fill="#0000c8"/>
<rect x="1212.45" y="491.04" width="2.97" height="30.16" fill="#0040ff"/>
<rect x="1215.12" y="491.04" width="2.97" height="30.16" fill="#00a0ff"/>
<rect x="1217.78" y="491.04" width="2.97" height="30.16" fill="#00acff"/>
<rect x="1220.45" y="491.04" width="2.97" height="30.16" fill="#0098ff"/>
<rect x="1223.12" y="491.04" width="2.97" height="30.16" fill="#0060ff"/>
<rect x="1225.79" y="491.04" width="2.97" height="30.16" fill="#0000f1"/>
<rect x="1228.45" y="491.04" width="2.97" height="30.16" fill="#0000ad"/>
<rect x="1231.12" y="491.04" width="2.97" height="30.16" fill="#0000a4"/>
<rect x="1313.81" y="491.04" width="2.97" height="30.16" fill="#00009b"/>
<rect x="1316.48" y="491.04" width="2.97" height="30.16" fill="#00009f"/>
<rect x="1319.15" y="491.04" width="2.97" height="30.16" fill="#0000d6"/>
<rect x="1321.82" y="491.04" width="2.97" height="30.16" fill="#0068ff"/>
<rect x="1324.48" y="491.04" width="2.97" height="30.16" fill="#00a4ff"/>
<rect x="1327.15" y="491.04" width="2.97" height="30.16" fill="#00d0ff"/>
<rect x="1329.82" y="491.04" width="2.97" height="30.16" fill="#00b8ff"/>
<rect x="1332.49" y="491.04" width="2.97" height="30.16" fill="#0074ff"/>
<rect x="1335.15" y="491.04" width="2.97" height="30.16" fill="#0000e3"/>
<rect x="1337.82" y="491.04" width="2.97" height="30.16" fill="#00009f"/>
<rect x="1340.49" y="491.04" width="2.97" height="30.16" fill="#00009b"/>
<rect x="1423.18" y="491.04" width="2.97" height="30.16" fill="#00009f"/>
<rect x="1425.85" y="491.04" width="2.97" height="30.16" fill="#0000bb"/>
<rect x="1428.52" y="491.04" width="2.97" height="30.16" fill="#0048ff"/>
<rect x="1431.18" y="491.04" width="2.97" height="30.16" fill="#0080ff"/>
<rect x="1433.85" y="491.04" width="2.97" height="30.16" fill="#0098ff"/>
<rect x="1436.52" y="491.04" width="2.97" height="30.16" fill="#0098ff"/>
<rect x="1439.18" y="491.04" width="2.97" height="30.16" fill="#0070ff"/>
<rect x="1441.85" y="491.04" width="2.97" height="30.16" fill="#0000ff"/>
<rect x="1444.52" y="491.04" width="2.97" height="30.16" fill="#0000a8"/>
<rect x="1447.19" y="491.04" width="2.97" height="30.16" fill="#00009b"/>
</g></g>
<path d="M953.7 530.9v-5.5M953.7 13.9v5.5M1087.1 530.9v-5.5M1087.1 13.9v5.5M1220.5 530.9v-5.5M1220.5 13.9v5.5M1353.8 530.9v-5.5M1353.8 13.9v5.5M1487.2 530.9v-5.5M1487.2 13.9v5.5M953.7 13.9h5.5M1487.2 13.9h-5.5M953.7 143.2h5.5M1487.2 143.2h-5.5M953.7 272.4h5.5M1487.2 272.4h-5.5M953.7 401.6h5.5M1487.2 401.6h-5.5M953.7 530.9h5.5M1487.2 530.9h-5.5" stroke="#000" stroke-width="1.2" fill="none"/>
<rect x="953.7" y="13.9" width="533.5" height="517" fill="none" stroke="#000" stroke-width="1.7"/>
<text x="953.7" y="558.4" font-size="26.4" text-anchor="middle">0</text>
<text x="1087.1" y="558.4" font-size="26.4" text-anchor="middle">500</text>
<text x="1220.5" y="558.4" font-size="26.4" text-anchor="middle">1000</text>
<text x="1353.8" y="558.4" font-size="26.4" text-anchor="middle">1500</text>
<text x="1487.2" y="558.4" font-size="26.4" text-anchor="middle">2000</text>
<text x="949" y="21.8" font-size="26.4" text-anchor="end">1.0</text>
<text x="949.5" y="151.1" font-size="26.4" text-anchor="end">0.5</text>
<text x="949" y="280.3" font-size="26.4" text-anchor="end">0.0</text>
<text x="949.5" y="409.5" font-size="26.4" text-anchor="end">−0.5</text>
<text x="949" y="538.8" font-size="26.4" text-anchor="end">−1.0</text>
<text x="1221.7" y="592.9" font-size="30" text-anchor="middle">y, um</text>
<text transform="translate(871.4 272.4) rotate(-90)" font-size="30" text-anchor="middle">z, mm</text>
<rect x="1520.7" y="143.5" width="52.1" height="258.5" fill="url(#jet)" stroke="#000" stroke-width="1.1"/>
<text x="1577.4" y="408" font-size="24" text-anchor="start">0</text>
<text x="1577.4" y="382.1" font-size="24" text-anchor="start">4</text>
<text x="1577.4" y="356.3" font-size="24" text-anchor="start">8</text>
<text x="1577.4" y="330.4" font-size="24" text-anchor="start">12</text>
<text x="1577.4" y="304.6" font-size="24" text-anchor="start">16</text>
<text x="1577.4" y="278.8" font-size="24" text-anchor="start">20</text>
<text x="1577.4" y="252.9" font-size="24" text-anchor="start">24</text>
<text x="1577.4" y="227.1" font-size="24" text-anchor="start">28</text>
<text x="1577.4" y="201.2" font-size="24" text-anchor="start">32</text>
<text x="1577.4" y="175.3" font-size="24" text-anchor="start">36</text>
<text x="1577.4" y="149.5" font-size="24" text-anchor="start">40</text>
<path d="M1572.8 376.1h-7M1572.8 350.3h-7M1572.8 324.4h-7M1572.8 298.6h-7M1572.8 272.8h-7M1572.8 246.9h-7M1572.8 221.1h-7M1572.8 195.2h-7M1572.8 169.3h-7" stroke="#000" stroke-width="0.9" fill="none" opacity="0.8"/>
<text transform="translate(1635.4 272.4) rotate(-90)" font-size="30" text-anchor="middle">Dose , Gy</text>
<clipPath id="pc3"><rect x="75.7" y="703.7" width="667.3" height="516.3"/></clipPath>
<g clip-path="url(#pc3)">
<path d="M75.9 1197V1207.4M72.4 1197h7M72.4 1207.4h7M72.4 1198.7l7 7M72.4 1205.7l7 -7M79.2 1197.4V1208.2M75.7 1197.4h7M75.7 1208.2h7M75.7 1199.3l7 7M75.7 1206.3l7 -7M82.5 1195.5V1206.6M79 1195.5h7M79 1206.6h7M79 1197.6l7 7M79 1204.6l7 -7M85.9 1197.5V1207.6M82.4 1197.5h7M82.4 1207.6h7M82.4 1199l7 7M82.4 1206l7 -7M89.2 1196.3V1206.9M85.7 1196.3h7M85.7 1206.9h7M85.7 1198.1l7 7M85.7 1205.1l7 -7M92.5 1194.6V1206.3M89 1194.6h7M89 1206.3h7M89 1196.9l7 7M89 1203.9l7 -7M95.9 1195.7V1206.4M92.4 1195.7h7M92.4 1206.4h7M92.4 1197.5l7 7M92.4 1204.5l7 -7M99.2 1194.6V1206M95.7 1194.6h7M95.7 1206h7M95.7 1196.8l7 7M95.7 1203.8l7 -7M102.6 1196.3V1205.9M99.1 1196.3h7M99.1 1205.9h7M99.1 1197.6l7 7M99.1 1204.6l7 -7M105.9 1192.4V1204.7M102.4 1192.4h7M102.4 1204.7h7M102.4 1195.1l7 7M102.4 1202.1l7 -7M109.2 1190.1V1201.1M105.7 1190.1h7M105.7 1201.1h7M105.7 1192.1l7 7M105.7 1199.1l7 -7M112.6 1183.9V1198M109.1 1183.9h7M109.1 1198h7M109.1 1187.5l7 7M109.1 1194.5l7 -7M115.9 1178.1V1193.9M112.4 1178.1h7M112.4 1193.9h7M112.4 1182.5l7 7M112.4 1189.5l7 -7M119.2 1174.1V1188.6M115.7 1174.1h7M115.7 1188.6h7M115.7 1177.9l7 7M115.7 1184.9l7 -7M122.6 1167V1185.2M119.1 1167h7M119.1 1185.2h7M119.1 1172.6l7 7M119.1 1179.6l7 -7M125.9 1111V1143.1M122.4 1111h7M122.4 1143.1h7M122.4 1123.6l7 7M122.4 1130.6l7 -7M129.3 891V968.2M125.8 891h7M125.8 968.2h7M125.8 926.1l7 7M125.8 933.1l7 -7M132.6 765.7V861.2M129.1 765.7h7M129.1 861.2h7M129.1 809.9l7 7M129.1 816.9l7 -7M135.9 747.9V840.2M132.4 747.9h7M132.4 840.2h7M132.4 790.6l7 7M132.4 797.6l7 -7M139.3 712.8V826.2M135.8 712.8h7M135.8 826.2h7M135.8 766l7 7M135.8 773l7 -7M142.6 790.9V885M139.1 790.9h7M139.1 885h7M139.1 834.4l7 7M139.1 841.4l7 -7M145.9 1001.9V1068.9M142.4 1001.9h7M142.4 1068.9h7M142.4 1031.9l7 7M142.4 1038.9l7 -7M149.3 1158.2V1176M145.8 1158.2h7M145.8 1176h7M145.8 1163.6l7 7M145.8 1170.6l7 -7M152.6 1173.8V1190.4M149.1 1173.8h7M149.1 1190.4h7M149.1 1178.6l7 7M149.1 1185.6l7 -7M155.9 1184.3V1196.2M152.4 1184.3h7M152.4 1196.2h7M152.4 1186.7l7 7M152.4 1193.7l7 -7M159.3 1187.7V1201.1M155.8 1187.7h7M155.8 1201.1h7M155.8 1190.9l7 7M155.8 1197.9l7 -7M162.6 1191.1V1203M159.1 1191.1h7M159.1 1203h7M159.1 1193.5l7 7M159.1 1200.5l7 -7M166 1194.2V1205.4M162.5 1194.2h7M162.5 1205.4h7M162.5 1196.3l7 7M162.5 1203.3l7 -7M169.3 1196.7V1207.8M165.8 1196.7h7M165.8 1207.8h7M165.8 1198.7l7 7M165.8 1205.7l7 -7M172.6 1194.1V1206.9M169.1 1194.1h7M169.1 1206.9h7M169.1 1197l7 7M169.1 1204l7 -7M176 1195.4V1206.4M172.5 1195.4h7M172.5 1206.4h7M172.5 1197.4l7 7M172.5 1204.4l7 -7M179.3 1197.1V1207.4M175.8 1197.1h7M175.8 1207.4h7M175.8 1198.7l7 7M175.8 1205.7l7 -7M182.6 1196.5V1207.4M179.1 1196.5h7M179.1 1207.4h7M179.1 1198.5l7 7M179.1 1205.5l7 -7M186 1196.9V1207.2M182.5 1196.9h7M182.5 1207.2h7M182.5 1198.6l7 7M182.5 1205.6l7 -7M189.3 1196.8V1207.8M185.8 1196.8h7M185.8 1207.8h7M185.8 1198.8l7 7M185.8 1205.8l7 -7M192.6 1196.8V1207.7M189.1 1196.8h7M189.1 1207.7h7M189.1 1198.8l7 7M189.1 1205.8l7 -7M196 1197.4V1208M192.5 1197.4h7M192.5 1208h7M192.5 1199.2l7 7M192.5 1206.2l7 -7M199.3 1196.1V1207M195.8 1196.1h7M195.8 1207h7M195.8 1198.1l7 7M195.8 1205.1l7 -7M202.7 1197.5V1208.2M199.2 1197.5h7M199.2 1208.2h7M199.2 1199.3l7 7M199.2 1206.3l7 -7M206 1196.6V1207.1M202.5 1196.6h7M202.5 1207.1h7M202.5 1198.4l7 7M202.5 1205.4l7 -7M209.3 1198V1207.3M205.8 1198h7M205.8 1207.3h7M205.8 1199.2l7 7M205.8 1206.2l7 -7M212.7 1196.8V1208.4M209.2 1196.8h7M209.2 1208.4h7M209.2 1199.1l7 7M209.2 1206.1l7 -7M216 1196.6V1207.7M212.5 1196.6h7M212.5 1207.7h7M212.5 1198.7l7 7M212.5 1205.7l7 -7M219.3 1196.5V1207.6M215.8 1196.5h7M215.8 1207.6h7M215.8 1198.5l7 7M215.8 1205.5l7 -7M222.7 1197.1V1206.4M219.2 1197.1h7M219.2 1206.4h7M219.2 1198.3l7 7M219.2 1205.3l7 -7M226 1195.9V1205.9M222.5 1195.9h7M222.5 1205.9h7M222.5 1197.4l7 7M222.5 1204.4l7 -7M229.3 1195.4V1206.2M225.8 1195.4h7M225.8 1206.2h7M225.8 1197.3l7 7M225.8 1204.3l7 -7M232.7 1194.1V1206.1M229.2 1194.1h7M229.2 1206.1h7M229.2 1196.6l7 7M229.2 1203.6l7 -7M236 1196.2V1206.4M232.5 1196.2h7M232.5 1206.4h7M232.5 1197.8l7 7M232.5 1204.8l7 -7M239.4 1193V1204.5M235.9 1193h7M235.9 1204.5h7M235.9 1195.3l7 7M235.9 1202.3l7 -7M242.7 1189.7V1202M239.2 1189.7h7M239.2 1202h7M239.2 1192.4l7 7M239.2 1199.4l7 -7M246 1186.9V1199.3M242.5 1186.9h7M242.5 1199.3h7M242.5 1189.6l7 7M242.5 1196.6l7 -7M249.4 1181.1V1195.2M245.9 1181.1h7M245.9 1195.2h7M245.9 1184.6l7 7M245.9 1191.6l7 -7M252.7 1172.5V1187.5M249.2 1172.5h7M249.2 1187.5h7M249.2 1176.5l7 7M249.2 1183.5l7 -7M256 1165.1V1184.1M252.5 1165.1h7M252.5 1184.1h7M252.5 1171.1l7 7M252.5 1178.1l7 -7M259.4 1157.6V1179.2M255.9 1157.6h7M255.9 1179.2h7M255.9 1164.9l7 7M255.9 1171.9l7 -7M262.7 1032V1087.9M259.2 1032h7M259.2 1087.9h7M259.2 1056.4l7 7M259.2 1063.4l7 -7M266 819.2V895.4M262.5 819.2h7M262.5 895.4h7M262.5 853.8l7 7M262.5 860.8l7 -7M269.4 739.3V838.5M265.9 739.3h7M265.9 838.5h7M265.9 785.4l7 7M265.9 792.4l7 -7M272.7 730.2V842.4M269.2 730.2h7M269.2 842.4h7M269.2 782.8l7 7M269.2 789.8l7 -7M276.1 748.6V844.7M272.6 748.6h7M272.6 844.7h7M272.6 793.1l7 7M272.6 800.1l7 -7M279.4 837V916.3M275.9 837h7M275.9 916.3h7M275.9 873.2l7 7M275.9 880.2l7 -7M282.7 1066.3V1115.6M279.2 1066.3h7M279.2 1115.6h7M279.2 1087.4l7 7M279.2 1094.4l7 -7M286.1 1163.8V1183.3M282.6 1163.8h7M282.6 1183.3h7M282.6 1170l7 7M282.6 1177l7 -7M289.4 1179V1192.7M285.9 1179h7M285.9 1192.7h7M285.9 1182.3l7 7M285.9 1189.3l7 -7M292.7 1187.2V1199.6M289.2 1187.2h7M289.2 1199.6h7M289.2 1189.9l7 7M289.2 1196.9l7 -7M296.1 1191.6V1201.6M292.6 1191.6h7M292.6 1201.6h7M292.6 1193.1l7 7M292.6 1200.1l7 -7M299.4 1194V1204.7M295.9 1194h7M295.9 1204.7h7M295.9 1195.9l7 7M295.9 1202.9l7 -7M302.7 1196.5V1207.2M299.2 1196.5h7M299.2 1207.2h7M299.2 1198.4l7 7M299.2 1205.4l7 -7M306.1 1194V1205M302.6 1194h7M302.6 1205h7M302.6 1196l7 7M302.6 1203l7 -7M309.4 1196.7V1206.7M305.9 1196.7h7M305.9 1206.7h7M305.9 1198.2l7 7M305.9 1205.2l7 -7M312.8 1194.8V1206M309.3 1194.8h7M309.3 1206h7M309.3 1196.9l7 7M309.3 1203.9l7 -7M316.1 1195.5V1206.4M312.6 1195.5h7M312.6 1206.4h7M312.6 1197.5l7 7M312.6 1204.5l7 -7M319.4 1196.9V1207.7M315.9 1196.9h7M315.9 1207.7h7M315.9 1198.8l7 7M315.9 1205.8l7 -7M322.8 1197.4V1207.5M319.3 1197.4h7M319.3 1207.5h7M319.3 1199l7 7M319.3 1206l7 -7M326.1 1198.3V1208.2M322.6 1198.3h7M322.6 1208.2h7M322.6 1199.8l7 7M322.6 1206.8l7 -7M329.4 1195.9V1207.6M325.9 1195.9h7M325.9 1207.6h7M325.9 1198.3l7 7M325.9 1205.3l7 -7M332.8 1197.7V1207.5M329.3 1197.7h7M329.3 1207.5h7M329.3 1199.1l7 7M329.3 1206.1l7 -7M336.1 1197.5V1207.6M332.6 1197.5h7M332.6 1207.6h7M332.6 1199.1l7 7M332.6 1206.1l7 -7M339.5 1197.4V1208.1M336 1197.4h7M336 1208.1h7M336 1199.2l7 7M336 1206.2l7 -7M342.8 1196V1206.5M339.3 1196h7M339.3 1206.5h7M339.3 1197.8l7 7M339.3 1204.8l7 -7M346.1 1197.9V1207.1M342.6 1197.9h7M342.6 1207.1h7M342.6 1199l7 7M342.6 1206l7 -7M349.5 1196.7V1207M346 1196.7h7M346 1207h7M346 1198.4l7 7M346 1205.4l7 -7M352.8 1196.2V1206.8M349.3 1196.2h7M349.3 1206.8h7M349.3 1198l7 7M349.3 1205l7 -7M356.1 1196.3V1207M352.6 1196.3h7M352.6 1207h7M352.6 1198.2l7 7M352.6 1205.2l7 -7M359.5 1195.6V1206M356 1195.6h7M356 1206h7M356 1197.3l7 7M356 1204.3l7 -7M362.8 1196.2V1207.2M359.3 1196.2h7M359.3 1207.2h7M359.3 1198.2l7 7M359.3 1205.2l7 -7M366.1 1195.5V1206.4M362.6 1195.5h7M362.6 1206.4h7M362.6 1197.4l7 7M362.6 1204.4l7 -7M369.5 1195.3V1206.9M366 1195.3h7M366 1206.9h7M366 1197.6l7 7M366 1204.6l7 -7M372.8 1196V1206.3M369.3 1196h7M369.3 1206.3h7M369.3 1197.6l7 7M369.3 1204.6l7 -7M376.2 1194.1V1203.1M372.7 1194.1h7M372.7 1203.1h7M372.7 1195.1l7 7M372.7 1202.1l7 -7M379.5 1189.5V1201.8M376 1189.5h7M376 1201.8h7M376 1192.1l7 7M376 1199.1l7 -7M382.8 1185.3V1197.9M379.3 1185.3h7M379.3 1197.9h7M379.3 1188.1l7 7M379.3 1195.1l7 -7M386.2 1178.7V1195.3M382.7 1178.7h7M382.7 1195.3h7M382.7 1183.5l7 7M382.7 1190.5l7 -7M389.5 1174.6V1190.4M386 1174.6h7M386 1190.4h7M386 1179l7 7M386 1186l7 -7M392.8 1168.7V1186.1M389.3 1168.7h7M389.3 1186.1h7M389.3 1173.9l7 7M389.3 1180.9l7 -7M396.2 1130.2V1160M392.7 1130.2h7M392.7 1160h7M392.7 1141.6l7 7M392.7 1148.6l7 -7M399.5 939.2V987.1M396 939.2h7M396 987.1h7M396 959.6l7 7M396 966.6l7 -7M402.8 773.5V845.6M399.3 773.5h7M399.3 845.6h7M399.3 806l7 7M399.3 813l7 -7M406.2 735.2V806.4M402.7 735.2h7M402.7 806.4h7M402.7 767.3l7 7M402.7 774.3l7 -7M409.5 722.9V826.5M406 722.9h7M406 826.5h7M406 771.2l7 7M406 778.2l7 -7M412.9 744.4V836M409.4 744.4h7M409.4 836h7M409.4 786.7l7 7M409.4 793.7l7 -7M416.2 929.5V1002M412.7 929.5h7M412.7 1002h7M412.7 962.2l7 7M412.7 969.2l7 -7M419.5 1142.6V1163.2M416 1142.6h7M416 1163.2h7M416 1149.4l7 7M416 1156.4l7 -7M422.9 1184.3V1197.2M419.4 1184.3h7M419.4 1197.2h7M419.4 1187.2l7 7M419.4 1194.2l7 -7M426.2 1188.3V1200.2M422.7 1188.3h7M422.7 1200.2h7M422.7 1190.7l7 7M422.7 1197.7l7 -7M429.5 1191.8V1202.9M426 1191.8h7M426 1202.9h7M426 1193.8l7 7M426 1200.8l7 -7M432.9 1194.4V1205.7M429.4 1194.4h7M429.4 1205.7h7M429.4 1196.5l7 7M429.4 1203.5l7 -7M436.2 1196.9V1208M432.7 1196.9h7M432.7 1208h7M432.7 1198.9l7 7M432.7 1205.9l7 -7M439.5 1198.6V1208M436 1198.6h7M436 1208h7M436 1199.8l7 7M436 1206.8l7 -7M442.9 1194.7V1205.5M439.4 1194.7h7M439.4 1205.5h7M439.4 1196.6l7 7M439.4 1203.6l7 -7M446.2 1196.3V1206.2M442.7 1196.3h7M442.7 1206.2h7M442.7 1197.8l7 7M442.7 1204.8l7 -7M449.6 1195.4V1206.5M446.1 1195.4h7M446.1 1206.5h7M446.1 1197.5l7 7M446.1 1204.5l7 -7M452.9 1196.9V1206.7M449.4 1196.9h7M449.4 1206.7h7M449.4 1198.3l7 7M449.4 1205.3l7 -7M456.2 1198.5V1207.8M452.7 1198.5h7M452.7 1207.8h7M452.7 1199.6l7 7M452.7 1206.6l7 -7M459.6 1198.1V1207.6M456.1 1198.1h7M456.1 1207.6h7M456.1 1199.4l7 7M456.1 1206.4l7 -7M462.9 1196.9V1206.4M459.4 1196.9h7M459.4 1206.4h7M459.4 1198.1l7 7M459.4 1205.1l7 -7M466.2 1195.4V1206.9M462.7 1195.4h7M462.7 1206.9h7M462.7 1197.7l7 7M462.7 1204.7l7 -7M469.6 1198.3V1208.5M466.1 1198.3h7M466.1 1208.5h7M466.1 1199.9l7 7M466.1 1206.9l7 -7M472.9 1197.8V1207.3M469.4 1197.8h7M469.4 1207.3h7M469.4 1199.1l7 7M469.4 1206.1l7 -7M476.2 1196.9V1206.5M472.7 1196.9h7M472.7 1206.5h7M472.7 1198.2l7 7M472.7 1205.2l7 -7M479.6 1197V1207.4M476.1 1197h7M476.1 1207.4h7M476.1 1198.7l7 7M476.1 1205.7l7 -7M482.9 1196.7V1208.4M479.4 1196.7h7M479.4 1208.4h7M479.4 1199.1l7 7M479.4 1206.1l7 -7M486.3 1197.7V1208.2M482.8 1197.7h7M482.8 1208.2h7M482.8 1199.5l7 7M482.8 1206.5l7 -7M489.6 1198.4V1209M486.1 1198.4h7M486.1 1209h7M486.1 1200.2l7 7M486.1 1207.2l7 -7M492.9 1197.2V1207.6M489.4 1197.2h7M489.4 1207.6h7M489.4 1198.9l7 7M489.4 1205.9l7 -7M496.3 1195.7V1207.4M492.8 1195.7h7M492.8 1207.4h7M492.8 1198l7 7M492.8 1205l7 -7M499.6 1197.4V1207.1M496.1 1197.4h7M496.1 1207.1h7M496.1 1198.7l7 7M496.1 1205.7l7 -7M502.9 1196.6V1206.4M499.4 1196.6h7M499.4 1206.4h7M499.4 1198l7 7M499.4 1205l7 -7M506.3 1194.6V1205M502.8 1194.6h7M502.8 1205h7M502.8 1196.3l7 7M502.8 1203.3l7 -7M509.6 1195.2V1205.5M506.1 1195.2h7M506.1 1205.5h7M506.1 1196.8l7 7M506.1 1203.8l7 -7M512.9 1191.7V1203.6M509.4 1191.7h7M509.4 1203.6h7M509.4 1194.1l7 7M509.4 1201.1l7 -7M516.3 1188.3V1201M512.8 1188.3h7M512.8 1201h7M512.8 1191.2l7 7M512.8 1198.2l7 -7M519.6 1183.9V1195.6M516.1 1183.9h7M516.1 1195.6h7M516.1 1186.2l7 7M516.1 1193.2l7 -7M523 1177.7V1192.3M519.5 1177.7h7M519.5 1192.3h7M519.5 1181.5l7 7M519.5 1188.5l7 -7M526.3 1172.8V1187.7M522.8 1172.8h7M522.8 1187.7h7M522.8 1176.7l7 7M522.8 1183.7l7 -7M529.6 1165V1184.6M526.1 1165h7M526.1 1184.6h7M526.1 1171.3l7 7M526.1 1178.3l7 -7M533 1083.7V1121.4M529.5 1083.7h7M529.5 1121.4h7M529.5 1099l7 7M529.5 1106l7 -7M536.3 830.3V904.9M532.8 830.3h7M532.8 904.9h7M532.8 864.1l7 7M532.8 871.1l7 -7M539.6 735.7V852.4M536.1 735.7h7M536.1 852.4h7M536.1 790.6l7 7M536.1 797.6l7 -7M543 741.8V815.4M539.5 741.8h7M539.5 815.4h7M539.5 775.1l7 7M539.5 782.1l7 -7M546.3 721.6V840.7M542.8 721.6h7M542.8 840.7h7M542.8 777.6l7 7M542.8 784.6l7 -7M549.6 798.7V887.5M546.1 798.7h7M546.1 887.5h7M546.1 839.6l7 7M546.1 846.6l7 -7M553 1037V1085.5M549.5 1037h7M549.5 1085.5h7M549.5 1057.7l7 7M549.5 1064.7l7 -7M556.3 1159.8V1176.9M552.8 1159.8h7M552.8 1176.9h7M552.8 1164.9l7 7M552.8 1171.9l7 -7M559.7 1177.1V1191.5M556.2 1177.1h7M556.2 1191.5h7M556.2 1180.8l7 7M556.2 1187.8l7 -7M563 1183.8V1197.8M559.5 1183.8h7M559.5 1197.8h7M559.5 1187.3l7 7M559.5 1194.3l7 -7M566.3 1188.1V1200.5M562.8 1188.1h7M562.8 1200.5h7M562.8 1190.8l7 7M562.8 1197.8l7 -7M569.7 1191.8V1203M566.2 1191.8h7M566.2 1203h7M566.2 1193.9l7 7M566.2 1200.9l7 -7M573 1194.5V1205.7M569.5 1194.5h7M569.5 1205.7h7M569.5 1196.6l7 7M569.5 1203.6l7 -7M576.3 1197.7V1207.3M572.8 1197.7h7M572.8 1207.3h7M572.8 1199l7 7M572.8 1206l7 -7M579.7 1194V1205.8M576.2 1194h7M576.2 1205.8h7M576.2 1196.4l7 7M576.2 1203.4l7 -7M583 1196.3V1206.2M579.5 1196.3h7M579.5 1206.2h7M579.5 1197.8l7 7M579.5 1204.8l7 -7M586.4 1195.9V1206.7M582.9 1195.9h7M582.9 1206.7h7M582.9 1197.8l7 7M582.9 1204.8l7 -7M589.7 1196.3V1207.3M586.2 1196.3h7M586.2 1207.3h7M586.2 1198.3l7 7M586.2 1205.3l7 -7M593 1196.4V1207.2M589.5 1196.4h7M589.5 1207.2h7M589.5 1198.3l7 7M589.5 1205.3l7 -7M596.4 1195.1V1207M592.9 1195.1h7M592.9 1207h7M592.9 1197.5l7 7M592.9 1204.5l7 -7M599.7 1196.9V1208M596.2 1196.9h7M596.2 1208h7M596.2 1199l7 7M596.2 1206l7 -7M603 1198.6V1207.7M599.5 1198.6h7M599.5 1207.7h7M599.5 1199.7l7 7M599.5 1206.7l7 -7M606.4 1197V1208.2M602.9 1197h7M602.9 1208.2h7M602.9 1199.1l7 7M602.9 1206.1l7 -7M609.7 1197.4V1208.2M606.2 1197.4h7M606.2 1208.2h7M606.2 1199.3l7 7M606.2 1206.3l7 -7M613 1196.9V1207.6M609.5 1196.9h7M609.5 1207.6h7M609.5 1198.8l7 7M609.5 1205.8l7 -7M616.4 1197.4V1207.6M612.9 1197.4h7M612.9 1207.6h7M612.9 1199l7 7M612.9 1206l7 -7M619.7 1196.7V1207.3M616.2 1196.7h7M616.2 1207.3h7M616.2 1198.5l7 7M616.2 1205.5l7 -7M623.1 1198.3V1206.8M619.6 1198.3h7M619.6 1206.8h7M619.6 1199.1l7 7M619.6 1206.1l7 -7M626.4 1196.1V1206.6M622.9 1196.1h7M622.9 1206.6h7M622.9 1197.9l7 7M622.9 1204.9l7 -7M629.7 1197.1V1207.1M626.2 1197.1h7M626.2 1207.1h7M626.2 1198.6l7 7M626.2 1205.6l7 -7M633.1 1195.4V1207.4M629.6 1195.4h7M629.6 1207.4h7M629.6 1197.9l7 7M629.6 1204.9l7 -7M636.4 1195.2V1207.3M632.9 1195.2h7M632.9 1207.3h7M632.9 1197.8l7 7M632.9 1204.8l7 -7M639.7 1194.7V1206.7M636.2 1194.7h7M636.2 1206.7h7M636.2 1197.2l7 7M636.2 1204.2l7 -7M643.1 1196.6V1207.5M639.6 1196.6h7M639.6 1207.5h7M639.6 1198.5l7 7M639.6 1205.5l7 -7M646.4 1193.8V1205.4M642.9 1193.8h7M642.9 1205.4h7M642.9 1196.1l7 7M642.9 1203.1l7 -7M649.7 1191.3V1202.3M646.2 1191.3h7M646.2 1202.3h7M646.2 1193.3l7 7M646.2 1200.3l7 -7M653.1 1187.3V1199.9M649.6 1187.3h7M649.6 1199.9h7M649.6 1190.1l7 7M649.6 1197.1l7 -7M656.4 1183.5V1196.5M652.9 1183.5h7M652.9 1196.5h7M652.9 1186.5l7 7M652.9 1193.5l7 -7M659.8 1177.9V1193.9M656.3 1177.9h7M656.3 1193.9h7M656.3 1182.4l7 7M656.3 1189.4l7 -7M663.1 1172.6V1189.9M659.6 1172.6h7M659.6 1189.9h7M659.6 1177.8l7 7M659.6 1184.8l7 -7M666.4 1155.3V1173.7M662.9 1155.3h7M662.9 1173.7h7M662.9 1161l7 7M662.9 1168l7 -7M669.8 1000.4V1065.3M666.3 1000.4h7M666.3 1065.3h7M666.3 1029.3l7 7M666.3 1036.3l7 -7M673.1 783.9V879M669.6 783.9h7M669.6 879h7M669.6 828l7 7M669.6 835l7 -7M676.4 747.2V840.9M672.9 747.2h7M672.9 840.9h7M672.9 790.6l7 7M672.9 797.6l7 -7M679.8 749.1V823.5M676.3 749.1h7M676.3 823.5h7M676.3 782.8l7 7M676.3 789.8l7 -7M683.1 728.3V821M679.6 728.3h7M679.6 821h7M679.6 771.2l7 7M679.6 778.2l7 -7M686.4 877.6V950.6M682.9 877.6h7M682.9 950.6h7M682.9 910.6l7 7M682.9 917.6l7 -7M689.8 1109.8V1139.2M686.3 1109.8h7M686.3 1139.2h7M686.3 1121l7 7M686.3 1128l7 -7M693.1 1170V1187.4M689.6 1170h7M689.6 1187.4h7M689.6 1175.2l7 7M689.6 1182.2l7 -7M696.5 1179.3V1193.2M693 1179.3h7M693 1193.2h7M693 1182.7l7 7M693 1189.7l7 -7M699.8 1187.6V1200.3M696.3 1187.6h7M696.3 1200.3h7M696.3 1190.5l7 7M696.3 1197.5l7 -7M703.1 1191.2V1203M699.6 1191.2h7M699.6 1203h7M699.6 1193.6l7 7M699.6 1200.6l7 -7M706.5 1194.5V1205.2M703 1194.5h7M703 1205.2h7M703 1196.3l7 7M703 1203.3l7 -7M709.8 1197V1207.5M706.3 1197h7M706.3 1207.5h7M706.3 1198.8l7 7M706.3 1205.8l7 -7M713.1 1194.4V1205.8M709.6 1194.4h7M709.6 1205.8h7M709.6 1196.6l7 7M709.6 1203.6l7 -7M716.5 1194.9V1205.7M713 1194.9h7M713 1205.7h7M713 1196.8l7 7M713 1203.8l7 -7M719.8 1196.2V1206.5M716.3 1196.2h7M716.3 1206.5h7M716.3 1197.8l7 7M716.3 1204.8l7 -7M723.1 1197.1V1208.3M719.6 1197.1h7M719.6 1208.3h7M719.6 1199.2l7 7M719.6 1206.2l7 -7M726.5 1196.3V1207M723 1196.3h7M723 1207h7M723 1198.1l7 7M723 1205.1l7 -7M729.8 1196.3V1207.8M726.3 1196.3h7M726.3 1207.8h7M726.3 1198.5l7 7M726.3 1205.5l7 -7M733.2 1197.4V1208M729.7 1197.4h7M729.7 1208h7M729.7 1199.2l7 7M729.7 1206.2l7 -7M736.5 1196.9V1207M733 1196.9h7M733 1207h7M733 1198.5l7 7M733 1205.5l7 -7M739.8 1196.7V1207.6M736.3 1196.7h7M736.3 1207.6h7M736.3 1198.7l7 7M736.3 1205.7l7 -7" stroke="#1414b0" stroke-width="1.45" fill="none"/>
<polyline points="75.7,1207.2 76.4,1207.2 77,1207.2 77.7,1207.2 78.4,1207.1 79,1207.1 79.7,1207.1 80.4,1207.1 81,1207.1 81.7,1207.1 82.4,1207 83,1207 83.7,1207 84.4,1207 85,1207 85.7,1206.9 86.4,1206.9 87,1206.9 87.7,1206.9 88.4,1206.8 89,1206.8 89.7,1206.8 90.4,1206.7 91,1206.7 91.7,1206.6 92.4,1206.6 93,1206.5 93.7,1206.5 94.4,1206.4 95.1,1206.3 95.7,1206.3 96.4,1206.2 97.1,1206.1 97.7,1206.1 98.4,1206 99.1,1205.9 99.7,1205.8 100.4,1205.7 101.1,1205.6 101.7,1205.5 102.4,1205.4 103.1,1205.3 103.7,1205.2 104.4,1205.1 105.1,1204.9 105.7,1204.7 106.4,1204.5 107.1,1204.3 107.7,1204.1 108.4,1203.9 109.1,1203.6 109.7,1203.3 110.4,1203 111.1,1202.7 111.7,1202.3 112.4,1201.8 113.1,1201.2 113.7,1200.5 114.4,1199.8 115.1,1199 115.7,1198.1 116.4,1197.1 117.1,1195.9 117.7,1194.5 118.4,1192.9 119.1,1190.9 119.7,1188.7 120.4,1186 121.1,1182.4 121.7,1177.6 122.4,1171.6 123.1,1164 123.7,1154.8 124.4,1136.6 125.1,1109.6 125.7,1084.2 126.4,1061.5 127.1,1037.9 127.7,1011.8 128.4,983 129.1,948.8 129.8,905.6 130.4,877.1 131.1,855 131.8,836.6 132.4,820.1 133.1,804.9 133.8,793.1 134.4,786 135.1,780.7 135.8,778.4 136.4,780.7 137.1,786 137.8,793.1 138.4,804.9 139.1,820.1 139.8,836.6 140.4,855 141.1,877.1 141.8,905.6 142.4,948.8 143.1,983 143.8,1011.7 144.4,1037.9 145.1,1061.5 145.8,1084.1 146.4,1109.6 147.1,1136.6 147.8,1154.7 148.4,1164 149.1,1171.5 149.8,1177.6 150.4,1182.3 151.1,1185.9 151.8,1188.6 152.4,1190.9 153.1,1192.8 153.8,1194.5 154.4,1195.9 155.1,1197.1 155.8,1198.1 156.4,1199 157.1,1199.8 157.8,1200.5 158.4,1201.2 159.1,1201.7 159.8,1202.2 160.4,1202.6 161.1,1203 161.8,1203.3 162.4,1203.5 163.1,1203.8 163.8,1204 164.5,1204.3 165.1,1204.5 165.8,1204.7 166.5,1204.8 167.1,1205 167.8,1205.1 168.5,1205.3 169.1,1205.4 169.8,1205.5 170.5,1205.6 171.1,1205.6 171.8,1205.7 172.5,1205.8 173.1,1205.9 173.8,1206 174.5,1206.1 175.1,1206.1 175.8,1206.2 176.5,1206.3 177.1,1206.3 177.8,1206.4 178.5,1206.4 179.1,1206.5 179.8,1206.5 180.5,1206.6 181.1,1206.6 181.8,1206.7 182.5,1206.7 183.1,1206.7 183.8,1206.8 184.5,1206.8 185.1,1206.8 185.8,1206.8 186.5,1206.9 187.1,1206.9 187.8,1206.9 188.5,1206.9 189.1,1206.9 189.8,1206.9 190.5,1207 191.1,1207 191.8,1207 192.5,1207 193.1,1207 193.8,1207 194.5,1207 195.1,1207 195.8,1207.1 196.5,1207.1 197.1,1207.1 197.8,1207.1 198.5,1207.1 199.2,1207.1 199.8,1207.1 200.5,1207.1 201.2,1207.1 201.8,1207.1 202.5,1207.1 203.2,1207.1 203.8,1207.1 204.5,1207.1 205.2,1207.1 205.8,1207.1 206.5,1207.1 207.2,1207.1 207.8,1207.1 208.5,1207.1 209.2,1207.1 209.8,1207.1 210.5,1207.1 211.2,1207.1 211.8,1207 212.5,1207 213.2,1207 213.8,1207 214.5,1207 215.2,1207 215.8,1207 216.5,1207 217.2,1206.9 217.8,1206.9 218.5,1206.9 219.2,1206.9 219.8,1206.9 220.5,1206.9 221.2,1206.8 221.8,1206.8 222.5,1206.8 223.2,1206.8 223.8,1206.7 224.5,1206.7 225.2,1206.7 225.8,1206.6 226.5,1206.6 227.2,1206.5 227.8,1206.5 228.5,1206.4 229.2,1206.4 229.8,1206.3 230.5,1206.3 231.2,1206.2 231.8,1206.1 232.5,1206.1 233.2,1206 233.9,1205.9 234.5,1205.8 235.2,1205.7 235.9,1205.7 236.5,1205.6 237.2,1205.5 237.9,1205.4 238.5,1205.3 239.2,1205.2 239.9,1205 240.5,1204.9 241.2,1204.7 241.9,1204.5 242.5,1204.3 243.2,1204.1 243.9,1203.9 244.5,1203.6 245.2,1203.4 245.9,1203.1 246.5,1202.8 247.2,1202.4 247.9,1201.9 248.5,1201.4 249.2,1200.8 249.9,1200.1 250.5,1199.3 251.2,1198.5 251.9,1197.5 252.5,1196.4 253.2,1195.1 253.9,1193.5 254.5,1191.7 255.2,1189.6 255.9,1187.1 256.5,1183.8 257.2,1179.5 257.9,1173.9 258.5,1166.9 259.2,1158.4 259.9,1143.9 260.5,1118.7 261.2,1092.7 261.9,1070.5 262.5,1047.9 263.2,1022.9 263.9,995.7 264.5,964.5 265.2,922.6 265.9,891.2 266.5,868.4 267.2,849.7 267.9,833.3 268.5,817.9 269.2,805.4 269.9,797.5 270.6,792 271.2,788.8 271.9,790 272.6,794.6 273.2,800.8 273.9,811.2 274.6,825.4 275.2,841.4 275.9,858.6 276.6,879.2 277.2,904.6 277.9,944.3 278.6,980.7 279.2,1009.7 279.9,1035.7 280.6,1059.4 281.2,1081.5 281.9,1105.1 282.6,1132 283.2,1152.9 283.9,1162.9 284.6,1170.6 285.2,1176.9 285.9,1181.8 286.6,1185.6 287.2,1188.4 287.9,1190.7 288.6,1192.7 289.2,1194.3 289.9,1195.8 290.6,1197 291.2,1198 291.9,1198.9 292.6,1199.7 293.2,1200.4 293.9,1201.1 294.6,1201.6 295.2,1202.1 295.9,1202.6 296.6,1202.9 297.2,1203.2 297.9,1203.5 298.6,1203.7 299.2,1204 299.9,1204.2 300.6,1204.4 301.2,1204.6 301.9,1204.8 302.6,1204.9 303.2,1205.1 303.9,1205.2 304.6,1205.3 305.3,1205.4 305.9,1205.5 306.6,1205.6 307.3,1205.7 307.9,1205.8 308.6,1205.8 309.3,1205.9 309.9,1206 310.6,1206.1 311.3,1206.1 311.9,1206.2 312.6,1206.3 313.3,1206.3 313.9,1206.4 314.6,1206.4 315.3,1206.5 315.9,1206.5 316.6,1206.6 317.3,1206.6 317.9,1206.6 318.6,1206.7 319.3,1206.7 319.9,1206.7 320.6,1206.8 321.3,1206.8 321.9,1206.8 322.6,1206.8 323.3,1206.8 323.9,1206.9 324.6,1206.9 325.3,1206.9 325.9,1206.9 326.6,1206.9 327.3,1206.9 327.9,1206.9 328.6,1207 329.3,1207 329.9,1207 330.6,1207 331.3,1207 331.9,1207 332.6,1207 333.3,1207 333.9,1207 334.6,1207 335.3,1207 335.9,1207 336.6,1207 337.3,1207 337.9,1207 338.6,1207 339.3,1207 340,1207 340.6,1207 341.3,1207 342,1207 342.6,1207 343.3,1207 344,1207 344.6,1207 345.3,1207 346,1207 346.6,1207 347.3,1207 348,1207 348.6,1207 349.3,1207 350,1206.9 350.6,1206.9 351.3,1206.9 352,1206.9 352.6,1206.9 353.3,1206.9 354,1206.9 354.6,1206.8 355.3,1206.8 356,1206.8 356.6,1206.8 357.3,1206.8 358,1206.7 358.6,1206.7 359.3,1206.7 360,1206.7 360.6,1206.6 361.3,1206.6 362,1206.5 362.6,1206.5 363.3,1206.5 364,1206.4 364.6,1206.3 365.3,1206.3 366,1206.2 366.6,1206.2 367.3,1206.1 368,1206 368.6,1206 369.3,1205.9 370,1205.8 370.6,1205.7 371.3,1205.6 372,1205.5 372.6,1205.4 373.3,1205.4 374,1205.3 374.7,1205.1 375.3,1205 376,1204.9 376.7,1204.7 377.3,1204.5 378,1204.3 378.7,1204.1 379.3,1203.9 380,1203.6 380.7,1203.4 381.3,1203.1 382,1202.8 382.7,1202.4 383.3,1202 384,1201.5 384.7,1200.9 385.3,1200.2 386,1199.4 386.7,1198.6 387.3,1197.7 388,1196.6 388.7,1195.3 389.3,1193.8 390,1192.1 390.7,1190 391.3,1187.6 392,1184.6 392.7,1180.5 393.3,1175.2 394,1168.6 394.7,1160.3 395.3,1148.4 396,1124.9 396.7,1098 397.3,1075.1 398,1052.7 398.7,1028.2 399.3,1001.5 400,971.3 400.7,931.6 401.3,895.8 402,871.5 402.7,851.9 403.3,835 404,819.2 404.7,805.7 405.3,796.5 406,790.7 406.7,786.7 407.3,786.7 408,790.7 408.7,796.5 409.3,805.7 410,819.2 410.7,835 411.4,851.9 412,871.5 412.7,895.8 413.4,931.6 414,971.3 414.7,1001.5 415.4,1028.2 416,1052.7 416.7,1075.1 417.4,1098 418,1124.9 418.7,1148.4 419.4,1160.3 420,1168.6 420.7,1175.2 421.4,1180.5 422,1184.6 422.7,1187.6 423.4,1190 424,1192.1 424.7,1193.8 425.4,1195.3 426,1196.6 426.7,1197.7 427.4,1198.6 428,1199.4 428.7,1200.2 429.4,1200.9 430,1201.5 430.7,1202 431.4,1202.4 432,1202.8 432.7,1203.1 433.4,1203.4 434,1203.6 434.7,1203.9 435.4,1204.1 436,1204.3 436.7,1204.5 437.4,1204.7 438,1204.9 438.7,1205 439.4,1205.1 440,1205.3 440.7,1205.4 441.4,1205.4 442,1205.5 442.7,1205.6 443.4,1205.7 444,1205.8 444.7,1205.9 445.4,1206 446.1,1206 446.7,1206.1 447.4,1206.2 448.1,1206.2 448.7,1206.3 449.4,1206.3 450.1,1206.4 450.7,1206.5 451.4,1206.5 452.1,1206.5 452.7,1206.6 453.4,1206.6 454.1,1206.7 454.7,1206.7 455.4,1206.7 456.1,1206.7 456.7,1206.8 457.4,1206.8 458.1,1206.8 458.7,1206.8 459.4,1206.8 460.1,1206.9 460.7,1206.9 461.4,1206.9 462.1,1206.9 462.7,1206.9 463.4,1206.9 464.1,1206.9 464.7,1207 465.4,1207 466.1,1207 466.7,1207 467.4,1207 468.1,1207 468.7,1207 469.4,1207 470.1,1207 470.7,1207 471.4,1207 472.1,1207 472.7,1207 473.4,1207 474.1,1207 474.7,1207 475.4,1207 476.1,1207 476.7,1207 477.4,1207 478.1,1207 478.7,1207 479.4,1207 480.1,1207 480.8,1207 481.4,1207 482.1,1207 482.8,1207 483.4,1207 484.1,1207 484.8,1207 485.4,1206.9 486.1,1206.9 486.8,1206.9 487.4,1206.9 488.1,1206.9 488.8,1206.9 489.4,1206.9 490.1,1206.8 490.8,1206.8 491.4,1206.8 492.1,1206.8 492.8,1206.8 493.4,1206.8 494.1,1206.7 494.8,1206.7 495.4,1206.7 496.1,1206.6 496.8,1206.6 497.4,1206.6 498.1,1206.5 498.8,1206.5 499.4,1206.4 500.1,1206.4 500.8,1206.3 501.4,1206.2 502.1,1206.2 502.8,1206.1 503.4,1206 504.1,1206 504.8,1205.9 505.4,1205.8 506.1,1205.7 506.8,1205.7 507.4,1205.6 508.1,1205.5 508.8,1205.4 509.4,1205.3 510.1,1205.2 510.8,1205 511.4,1204.9 512.1,1204.8 512.8,1204.6 513.4,1204.4 514.1,1204.2 514.8,1204 515.5,1203.7 516.1,1203.4 516.8,1203.2 517.5,1202.9 518.1,1202.5 518.8,1202.1 519.5,1201.6 520.1,1201.1 520.8,1200.4 521.5,1199.7 522.1,1198.9 522.8,1198 523.5,1197 524.1,1195.8 524.8,1194.4 525.5,1192.7 526.1,1190.8 526.8,1188.5 527.5,1185.8 528.1,1182.2 528.8,1177.4 529.5,1171.4 530.1,1163.8 530.8,1154.5 531.5,1136.3 532.1,1109.2 532.8,1083.7 533.5,1061 534.1,1037.3 534.8,1011.1 535.5,982.3 536.1,948 536.8,904.6 537.5,876.1 538.1,853.8 538.8,835.4 539.5,818.8 540.1,803.6 540.8,791.7 541.5,784.6 542.1,779.4 542.8,777 543.5,779.4 544.1,784.6 544.8,791.7 545.5,803.6 546.1,818.8 546.8,835.4 547.5,853.8 548.1,876.1 548.8,904.6 549.5,948 550.2,982.3 550.8,1011.1 551.5,1037.3 552.2,1061 552.8,1083.7 553.5,1109.2 554.2,1136.3 554.8,1154.5 555.5,1163.8 556.2,1171.4 556.8,1177.4 557.5,1182.2 558.2,1185.8 558.8,1188.5 559.5,1190.8 560.2,1192.7 560.8,1194.4 561.5,1195.8 562.2,1197 562.8,1198 563.5,1198.9 564.2,1199.7 564.8,1200.4 565.5,1201.1 566.2,1201.6 566.8,1202.1 567.5,1202.5 568.2,1202.9 568.8,1203.2 569.5,1203.5 570.2,1203.7 570.8,1204 571.5,1204.2 572.2,1204.4 572.8,1204.6 573.5,1204.8 574.2,1204.9 574.8,1205.1 575.5,1205.2 576.2,1205.3 576.8,1205.4 577.5,1205.5 578.2,1205.6 578.8,1205.7 579.5,1205.8 580.2,1205.9 580.8,1205.9 581.5,1206 582.2,1206.1 582.8,1206.2 583.5,1206.2 584.2,1206.3 584.8,1206.3 585.5,1206.4 586.2,1206.5 586.9,1206.5 587.5,1206.6 588.2,1206.6 588.9,1206.6 589.5,1206.7 590.2,1206.7 590.9,1206.7 591.5,1206.8 592.2,1206.8 592.9,1206.8 593.5,1206.8 594.2,1206.9 594.9,1206.9 595.5,1206.9 596.2,1206.9 596.9,1206.9 597.5,1206.9 598.2,1207 598.9,1207 599.5,1207 600.2,1207 600.9,1207 601.5,1207 602.2,1207 602.9,1207 603.5,1207 604.2,1207.1 604.9,1207.1 605.5,1207.1 606.2,1207.1 606.9,1207.1 607.5,1207.1 608.2,1207.1 608.9,1207.1 609.5,1207.1 610.2,1207.1 610.9,1207.1 611.5,1207.1 612.2,1207.1 612.9,1207.1 613.5,1207.1 614.2,1207.1 614.9,1207.1 615.5,1207.1 616.2,1207.1 616.9,1207.1 617.5,1207.1 618.2,1207.1 618.9,1207 619.5,1207 620.2,1207 620.9,1207 621.6,1207 622.2,1207 622.9,1207 623.6,1207 624.2,1206.9 624.9,1206.9 625.6,1206.9 626.2,1206.9 626.9,1206.9 627.6,1206.9 628.2,1206.8 628.9,1206.8 629.6,1206.8 630.2,1206.8 630.9,1206.7 631.6,1206.7 632.2,1206.7 632.9,1206.6 633.6,1206.6 634.2,1206.5 634.9,1206.5 635.6,1206.4 636.2,1206.4 636.9,1206.3 637.6,1206.2 638.2,1206.2 638.9,1206.1 639.6,1206 640.2,1206 640.9,1205.9 641.6,1205.8 642.2,1205.7 642.9,1205.6 643.6,1205.5 644.2,1205.4 644.9,1205.3 645.6,1205.2 646.2,1205.1 646.9,1205 647.6,1204.8 648.2,1204.6 648.9,1204.4 649.6,1204.2 650.2,1204 650.9,1203.7 651.6,1203.5 652.2,1203.2 652.9,1202.9 653.6,1202.5 654.2,1202.1 654.9,1201.5 655.6,1200.9 656.3,1200.3 656.9,1199.5 657.6,1198.7 658.3,1197.7 658.9,1196.7 659.6,1195.4 660.3,1193.9 660.9,1192.1 661.6,1190.1 662.3,1187.7 662.9,1184.6 663.6,1180.5 664.3,1175.2 664.9,1168.6 665.6,1160.3 666.3,1148.3 666.9,1124.8 667.6,1097.8 668.3,1074.8 668.9,1052.4 669.6,1027.8 670.3,1001 670.9,970.7 671.6,930.9 672.3,894.9 672.9,870.6 673.6,850.9 674.3,834 674.9,818.1 675.6,804.6 676.3,795.4 676.9,789.5 677.6,785.5 678.3,785.5 678.9,789.5 679.6,795.4 680.3,804.6 680.9,818.1 681.6,834 682.3,850.9 682.9,870.6 683.6,894.9 684.3,930.9 684.9,970.7 685.6,1001 686.3,1027.8 686.9,1052.4 687.6,1074.8 688.3,1097.8 688.9,1124.8 689.6,1148.4 690.3,1160.3 691,1168.6 691.6,1175.3 692.3,1180.6 693,1184.6 693.6,1187.7 694.3,1190.1 695,1192.2 695.6,1193.9 696.3,1195.4 697,1196.7 697.6,1197.8 698.3,1198.7 699,1199.5 699.6,1200.3 700.3,1201 701,1201.6 701.6,1202.1 702.3,1202.6 703,1202.9 703.6,1203.2 704.3,1203.5 705,1203.8 705.6,1204 706.3,1204.3 707,1204.5 707.6,1204.7 708.3,1204.9 709,1205 709.6,1205.2 710.3,1205.3 711,1205.4 711.6,1205.5 712.3,1205.6 713,1205.7 713.6,1205.8 714.3,1205.9 715,1206 715.6,1206 716.3,1206.1 717,1206.2 717.6,1206.3 718.3,1206.3 719,1206.4 719.6,1206.4 720.3,1206.5 721,1206.6 721.6,1206.6 722.3,1206.7 723,1206.7 723.6,1206.8 724.3,1206.8 725,1206.8 725.7,1206.9 726.3,1206.9 727,1206.9 727.7,1206.9 728.3,1207 729,1207 729.7,1207 730.3,1207 731,1207 731.7,1207.1 732.3,1207.1 733,1207.1 733.7,1207.1 734.3,1207.1 735,1207.1 735.7,1207.2 736.3,1207.2 737,1207.2 737.7,1207.2 738.3,1207.2 739,1207.2 739.7,1207.2 740.3,1207.3 741,1207.3 741.7,1207.3 742.3,1207.3 743,1207.3" stroke="#e4141e" stroke-width="1.6" fill="none" stroke-linejoin="round"/>
</g>
<path d="M75.7 1220v-6.3M75.7 703.7v6.3M242.5 1220v-6.3M242.5 703.7v6.3M409.3 1220v-6.3M409.3 703.7v6.3M576.2 1220v-6.3M576.2 703.7v6.3M743 1220v-6.3M743 703.7v6.3M75.7 1220h6.3M743 1220h-6.3M75.7 1155.5h6.3M743 1155.5h-6.3M75.7 1090.9h6.3M743 1090.9h-6.3M75.7 1026.4h6.3M743 1026.4h-6.3M75.7 961.9h6.3M743 961.9h-6.3M75.7 897.3h6.3M743 897.3h-6.3M75.7 832.8h6.3M743 832.8h-6.3M75.7 768.2h6.3M743 768.2h-6.3M75.7 703.7h6.3M743 703.7h-6.3" stroke="#000" stroke-width="1.6" fill="none"/>
<rect x="75.7" y="703.7" width="667.3" height="516.3" fill="none" stroke="#000" stroke-width="1.9"/>
<text x="75.7" y="1246" font-size="26.4" text-anchor="middle">0</text>
<text x="242.5" y="1246" font-size="26.4" text-anchor="middle">500</text>
<text x="409.3" y="1246" font-size="26.4" text-anchor="middle">1000</text>
<text x="576.2" y="1246" font-size="26.4" text-anchor="middle">1500</text>
<text x="743" y="1246" font-size="26.4" text-anchor="middle">2000</text>
<text x="70.3" y="1228" font-size="26.4" text-anchor="end">0</text>
<text x="70.8" y="1163.5" font-size="26.4" text-anchor="end">5</text>
<text x="70.3" y="1098.9" font-size="26.4" text-anchor="end">10</text>
<text x="70.8" y="1034.4" font-size="26.4" text-anchor="end">15</text>
<text x="70.3" y="969.9" font-size="26.4" text-anchor="end">20</text>
<text x="70.8" y="905.3" font-size="26.4" text-anchor="end">25</text>
<text x="70.3" y="840.8" font-size="26.4" text-anchor="end">30</text>
<text x="70.8" y="776.2" font-size="26.4" text-anchor="end">35</text>
<text x="70.3" y="711.7" font-size="26.4" text-anchor="end">40</text>
<text x="409.8" y="1282.6" font-size="30" text-anchor="middle">y, um</text>
<text transform="translate(23.1 961.9) rotate(-90)" font-size="30" text-anchor="middle">Dose , Gy</text>
<rect x="284.8" y="648.1" width="249" height="37.6" fill="#fff" stroke="#000" stroke-width="1.4"/>
<path d="M300.1 654.6V676.2M295.6 654.6h9M295.6 676.2h9M295.6 660.4l9 10M295.6 670.4l9 -10M330.1 654.6V676.2M325.6 654.6h9M325.6 676.2h9M325.6 660.4l9 10M325.6 670.4l9 -10" stroke="#1414b0" stroke-width="1.45" fill="none"/>
<text x="351.6" y="672" font-size="21" text-anchor="start">G4</text>
<path d="M431 665.6h31" stroke="#e4141e" stroke-width="1.6"/>
<text x="482" y="672" font-size="21" text-anchor="start">Film</text>
<clipPath id="pc4"><rect x="916.6" y="703.7" width="667.7" height="516.5"/></clipPath>
<g clip-path="url(#pc4)">
<path d="M916.8 1200.5V1210.4M913.3 1200.5h7M913.3 1210.4h7M913.3 1202l7 7M913.3 1209l7 -7M920.1 1199.7V1210.8M916.6 1199.7h7M916.6 1210.8h7M916.6 1201.7l7 7M916.6 1208.7l7 -7M923.4 1199V1210.7M919.9 1199h7M919.9 1210.7h7M919.9 1201.3l7 7M919.9 1208.3l7 -7M926.8 1199.8V1210.1M923.3 1199.8h7M923.3 1210.1h7M923.3 1201.4l7 7M923.3 1208.4l7 -7M930.1 1199.1V1210M926.6 1199.1h7M926.6 1210h7M926.6 1201.1l7 7M926.6 1208.1l7 -7M933.5 1198.4V1209M930 1198.4h7M930 1209h7M930 1200.2l7 7M930 1207.2l7 -7M936.8 1197.4V1208.4M933.3 1197.4h7M933.3 1208.4h7M933.3 1199.4l7 7M933.3 1206.4l7 -7M940.1 1196.5V1208.3M936.6 1196.5h7M936.6 1208.3h7M936.6 1198.9l7 7M936.6 1205.9l7 -7M943.5 1197.8V1209M940 1197.8h7M940 1209h7M940 1199.9l7 7M940 1206.9l7 -7M946.8 1195.3V1206.9M943.3 1195.3h7M943.3 1206.9h7M943.3 1197.6l7 7M943.3 1204.6l7 -7M950.2 1192.3V1204.6M946.7 1192.3h7M946.7 1204.6h7M946.7 1195l7 7M946.7 1202l7 -7M953.5 1187.7V1202.6M950 1187.7h7M950 1202.6h7M950 1191.6l7 7M950 1198.6l7 -7M956.8 1179.4V1194.2M953.3 1179.4h7M953.3 1194.2h7M953.3 1183.3l7 7M953.3 1190.3l7 -7M960.2 1174.4V1188M956.7 1174.4h7M956.7 1188h7M956.7 1177.7l7 7M956.7 1184.7l7 -7M963.5 1166.3V1185.6M960 1166.3h7M960 1185.6h7M960 1172.4l7 7M960 1179.4l7 -7M966.8 1115.6V1147.7M963.3 1115.6h7M963.3 1147.7h7M963.3 1128.2l7 7M963.3 1135.2l7 -7M970.2 890.2V967.3M966.7 890.2h7M966.7 967.3h7M966.7 925.2l7 7M966.7 932.2l7 -7M973.5 798.9V881.5M970 798.9h7M970 881.5h7M970 836.7l7 7M970 843.7l7 -7M976.9 758.9V840.3M973.4 758.9h7M973.4 840.3h7M973.4 796.1l7 7M973.4 803.1l7 -7M980.2 777.9V865.6M976.7 777.9h7M976.7 865.6h7M976.7 818.3l7 7M976.7 825.3l7 -7M983.5 779.6V878.6M980 779.6h7M980 878.6h7M980 825.6l7 7M980 832.6l7 -7M986.9 984.7V1064.6M983.4 984.7h7M983.4 1064.6h7M983.4 1021.2l7 7M983.4 1028.2l7 -7M990.2 1148.9V1173.4M986.7 1148.9h7M986.7 1173.4h7M986.7 1157.7l7 7M986.7 1164.7l7 -7M993.6 1182.4V1197.1M990.1 1182.4h7M990.1 1197.1h7M990.1 1186.2l7 7M990.1 1193.2l7 -7M996.9 1188.4V1202.6M993.4 1188.4h7M993.4 1202.6h7M993.4 1192l7 7M993.4 1199l7 -7M1000.2 1193.2V1204.9M996.7 1193.2h7M996.7 1204.9h7M996.7 1195.6l7 7M996.7 1202.6l7 -7M1003.6 1194.6V1208.6M1000.1 1194.6h7M1000.1 1208.6h7M1000.1 1198.1l7 7M1000.1 1205.1l7 -7M1006.9 1198.6V1209.1M1003.4 1198.6h7M1003.4 1209.1h7M1003.4 1200.3l7 7M1003.4 1207.3l7 -7M1010.2 1200.3V1210.3M1006.7 1200.3h7M1006.7 1210.3h7M1006.7 1201.8l7 7M1006.7 1208.8l7 -7M1013.6 1197.1V1208.1M1010.1 1197.1h7M1010.1 1208.1h7M1010.1 1199.1l7 7M1010.1 1206.1l7 -7M1016.9 1198.8V1210.1M1013.4 1198.8h7M1013.4 1210.1h7M1013.4 1200.9l7 7M1013.4 1207.9l7 -7M1020.3 1199.9V1210.9M1016.8 1199.9h7M1016.8 1210.9h7M1016.8 1201.9l7 7M1016.8 1208.9l7 -7M1023.6 1197.6V1209.5M1020.1 1197.6h7M1020.1 1209.5h7M1020.1 1200l7 7M1020.1 1207l7 -7M1026.9 1198.6V1210.4M1023.4 1198.6h7M1023.4 1210.4h7M1023.4 1201l7 7M1023.4 1208l7 -7M1030.3 1199.4V1209.7M1026.8 1199.4h7M1026.8 1209.7h7M1026.8 1201l7 7M1026.8 1208l7 -7M1033.6 1199.5V1210.6M1030.1 1199.5h7M1030.1 1210.6h7M1030.1 1201.5l7 7M1030.1 1208.5l7 -7M1037 1200.1V1210.4M1033.5 1200.1h7M1033.5 1210.4h7M1033.5 1201.7l7 7M1033.5 1208.7l7 -7M1040.3 1200.4V1210.9M1036.8 1200.4h7M1036.8 1210.9h7M1036.8 1202.1l7 7M1036.8 1209.1l7 -7M1043.6 1200V1211.2M1040.1 1200h7M1040.1 1211.2h7M1040.1 1202.1l7 7M1040.1 1209.1l7 -7M1047 1199.6V1210.9M1043.5 1199.6h7M1043.5 1210.9h7M1043.5 1201.7l7 7M1043.5 1208.7l7 -7M1050.3 1199.1V1210.5M1046.8 1199.1h7M1046.8 1210.5h7M1046.8 1201.3l7 7M1046.8 1208.3l7 -7M1053.6 1199.7V1210.3M1050.1 1199.7h7M1050.1 1210.3h7M1050.1 1201.5l7 7M1050.1 1208.5l7 -7M1057 1199.5V1209.6M1053.5 1199.5h7M1053.5 1209.6h7M1053.5 1201l7 7M1053.5 1208l7 -7M1060.3 1199.9V1210.2M1056.8 1199.9h7M1056.8 1210.2h7M1056.8 1201.6l7 7M1056.8 1208.6l7 -7M1063.7 1199.6V1210.2M1060.2 1199.6h7M1060.2 1210.2h7M1060.2 1201.4l7 7M1060.2 1208.4l7 -7M1067 1198.8V1209.5M1063.5 1198.8h7M1063.5 1209.5h7M1063.5 1200.7l7 7M1063.5 1207.7l7 -7M1070.3 1199V1209.8M1066.8 1199h7M1066.8 1209.8h7M1066.8 1200.9l7 7M1066.8 1207.9l7 -7M1073.7 1197.5V1208.2M1070.2 1197.5h7M1070.2 1208.2h7M1070.2 1199.3l7 7M1070.2 1206.3l7 -7M1077 1197.5V1209.7M1073.5 1197.5h7M1073.5 1209.7h7M1073.5 1200.1l7 7M1073.5 1207.1l7 -7M1080.4 1195.2V1207.4M1076.9 1195.2h7M1076.9 1207.4h7M1076.9 1197.8l7 7M1076.9 1204.8l7 -7M1083.7 1192.9V1204.9M1080.2 1192.9h7M1080.2 1204.9h7M1080.2 1195.4l7 7M1080.2 1202.4l7 -7M1087 1189.8V1202.6M1083.5 1189.8h7M1083.5 1202.6h7M1083.5 1192.7l7 7M1083.5 1199.7l7 -7M1090.4 1183.8V1199.4M1086.9 1183.8h7M1086.9 1199.4h7M1086.9 1188.1l7 7M1086.9 1195.1l7 -7M1093.7 1174.2V1191.1M1090.2 1174.2h7M1090.2 1191.1h7M1090.2 1179.2l7 7M1090.2 1186.2l7 -7M1097 1168.9V1187.1M1093.5 1168.9h7M1093.5 1187.1h7M1093.5 1174.5l7 7M1093.5 1181.5l7 -7M1100.4 1161.4V1183.1M1096.9 1161.4h7M1096.9 1183.1h7M1096.9 1168.7l7 7M1096.9 1175.7l7 -7M1103.7 1025.1V1090.6M1100.2 1025.1h7M1100.2 1090.6h7M1100.2 1054.4l7 7M1100.2 1061.4l7 -7M1107.1 834V927.6M1103.6 834h7M1103.6 927.6h7M1103.6 877.3l7 7M1103.6 884.3l7 -7M1110.4 767.2V854.2M1106.9 767.2h7M1106.9 854.2h7M1106.9 807.2l7 7M1106.9 814.2l7 -7M1113.7 758.9V877.3M1110.2 758.9h7M1110.2 877.3h7M1110.2 814.6l7 7M1110.2 821.6l7 -7M1117.1 797.7V867.9M1113.6 797.7h7M1113.6 867.9h7M1113.6 829.3l7 7M1113.6 836.3l7 -7M1120.4 859V954.2M1116.9 859h7M1116.9 954.2h7M1116.9 903.1l7 7M1116.9 910.1l7 -7M1123.8 1083.8V1135.3M1120.3 1083.8h7M1120.3 1135.3h7M1120.3 1106l7 7M1120.3 1113l7 -7M1127.1 1165.9V1185.9M1123.6 1165.9h7M1123.6 1185.9h7M1123.6 1172.4l7 7M1123.6 1179.4l7 -7M1130.4 1184.9V1200.3M1126.9 1184.9h7M1126.9 1200.3h7M1126.9 1189.1l7 7M1126.9 1196.1l7 -7M1133.8 1191.1V1203.4M1130.3 1191.1h7M1130.3 1203.4h7M1130.3 1193.8l7 7M1130.3 1200.8l7 -7M1137.1 1194.4V1205.6M1133.6 1194.4h7M1133.6 1205.6h7M1133.6 1196.5l7 7M1133.6 1203.5l7 -7M1140.4 1196.2V1208.6M1136.9 1196.2h7M1136.9 1208.6h7M1136.9 1198.9l7 7M1136.9 1205.9l7 -7M1143.8 1200.1V1209M1140.3 1200.1h7M1140.3 1209h7M1140.3 1201.1l7 7M1140.3 1208.1l7 -7M1147.1 1198.5V1209.3M1143.6 1198.5h7M1143.6 1209.3h7M1143.6 1200.4l7 7M1143.6 1207.4l7 -7M1150.5 1197.1V1209.2M1147 1197.1h7M1147 1209.2h7M1147 1199.6l7 7M1147 1206.6l7 -7M1153.8 1198.4V1210.5M1150.3 1198.4h7M1150.3 1210.5h7M1150.3 1200.9l7 7M1150.3 1207.9l7 -7M1157.1 1199.4V1209.1M1153.6 1199.4h7M1153.6 1209.1h7M1153.6 1200.8l7 7M1153.6 1207.8l7 -7M1160.5 1199.3V1209.3M1157 1199.3h7M1157 1209.3h7M1157 1200.8l7 7M1157 1207.8l7 -7M1163.8 1198.7V1209.8M1160.3 1198.7h7M1160.3 1209.8h7M1160.3 1200.8l7 7M1160.3 1207.8l7 -7M1167.2 1198.7V1210.8M1163.7 1198.7h7M1163.7 1210.8h7M1163.7 1201.2l7 7M1163.7 1208.2l7 -7M1170.5 1199.2V1210.1M1167 1199.2h7M1167 1210.1h7M1167 1201.1l7 7M1167 1208.1l7 -7M1173.8 1200.2V1209.8M1170.3 1200.2h7M1170.3 1209.8h7M1170.3 1201.5l7 7M1170.3 1208.5l7 -7M1177.2 1200.1V1210.5M1173.7 1200.1h7M1173.7 1210.5h7M1173.7 1201.8l7 7M1173.7 1208.8l7 -7M1180.5 1200.4V1209.6M1177 1200.4h7M1177 1209.6h7M1177 1201.5l7 7M1177 1208.5l7 -7M1183.8 1199.9V1210.2M1180.3 1199.9h7M1180.3 1210.2h7M1180.3 1201.5l7 7M1180.3 1208.5l7 -7M1187.2 1199.4V1209.9M1183.7 1199.4h7M1183.7 1209.9h7M1183.7 1201.2l7 7M1183.7 1208.2l7 -7M1190.5 1200.3V1209.5M1187 1200.3h7M1187 1209.5h7M1187 1201.4l7 7M1187 1208.4l7 -7M1193.9 1199.9V1210M1190.4 1199.9h7M1190.4 1210h7M1190.4 1201.4l7 7M1190.4 1208.4l7 -7M1197.2 1198.8V1209.5M1193.7 1198.8h7M1193.7 1209.5h7M1193.7 1200.6l7 7M1193.7 1207.6l7 -7M1200.5 1198.7V1210.3M1197 1198.7h7M1197 1210.3h7M1197 1201l7 7M1197 1208l7 -7M1203.9 1198.6V1209.4M1200.4 1198.6h7M1200.4 1209.4h7M1200.4 1200.5l7 7M1200.4 1207.5l7 -7M1207.2 1197.8V1208.7M1203.7 1197.8h7M1203.7 1208.7h7M1203.7 1199.8l7 7M1203.7 1206.8l7 -7M1210.6 1197.4V1209.1M1207.1 1197.4h7M1207.1 1209.1h7M1207.1 1199.8l7 7M1207.1 1206.8l7 -7M1213.9 1198.8V1208.9M1210.4 1198.8h7M1210.4 1208.9h7M1210.4 1200.3l7 7M1210.4 1207.3l7 -7M1217.2 1195.9V1207.3M1213.7 1195.9h7M1213.7 1207.3h7M1213.7 1198.1l7 7M1213.7 1205.1l7 -7M1220.6 1193.1V1204.9M1217.1 1193.1h7M1217.1 1204.9h7M1217.1 1195.5l7 7M1217.1 1202.5l7 -7M1223.9 1186.8V1204M1220.4 1186.8h7M1220.4 1204h7M1220.4 1191.9l7 7M1220.4 1198.9l7 -7M1227.2 1184V1199.3M1223.7 1184h7M1223.7 1199.3h7M1223.7 1188.1l7 7M1223.7 1195.1l7 -7M1230.6 1180V1195.5M1227.1 1180h7M1227.1 1195.5h7M1227.1 1184.2l7 7M1227.1 1191.2l7 -7M1233.9 1173.5V1193.1M1230.4 1173.5h7M1230.4 1193.1h7M1230.4 1179.8l7 7M1230.4 1186.8l7 -7M1237.3 1137.8V1169.8M1233.8 1137.8h7M1233.8 1169.8h7M1233.8 1150.3l7 7M1233.8 1157.3l7 -7M1240.6 957.6V1040.1M1237.1 957.6h7M1237.1 1040.1h7M1237.1 995.3l7 7M1237.1 1002.3l7 -7M1243.9 788.1V870.2M1240.4 788.1h7M1240.4 870.2h7M1240.4 825.6l7 7M1240.4 832.6l7 -7M1247.3 779.9V871M1243.8 779.9h7M1243.8 871h7M1243.8 821.9l7 7M1243.8 828.9l7 -7M1250.6 769.6V881.3M1247.1 769.6h7M1247.1 881.3h7M1247.1 821.9l7 7M1247.1 828.9l7 -7M1254 774.9V861.3M1250.5 774.9h7M1250.5 861.3h7M1250.5 814.6l7 7M1250.5 821.6l7 -7M1257.3 934.6V1018.8M1253.8 934.6h7M1253.8 1018.8h7M1253.8 973.2l7 7M1253.8 980.2l7 -7M1260.6 1130.4V1162.4M1257.1 1130.4h7M1257.1 1162.4h7M1257.1 1142.9l7 7M1257.1 1149.9l7 -7M1264 1185V1200.2M1260.5 1185h7M1260.5 1200.2h7M1260.5 1189.1l7 7M1260.5 1196.1l7 -7M1267.3 1189.1V1202.8M1263.8 1189.1h7M1263.8 1202.8h7M1263.8 1192.4l7 7M1263.8 1199.4l7 -7M1270.6 1192.6V1205M1267.1 1192.6h7M1267.1 1205h7M1267.1 1195.3l7 7M1267.1 1202.3l7 -7M1274 1195.3V1207.5M1270.5 1195.3h7M1270.5 1207.5h7M1270.5 1197.9l7 7M1270.5 1204.9l7 -7M1277.3 1198.1V1209.2M1273.8 1198.1h7M1273.8 1209.2h7M1273.8 1200.2l7 7M1273.8 1207.2l7 -7M1280.7 1200.6V1210.7M1277.2 1200.6h7M1277.2 1210.7h7M1277.2 1202.1l7 7M1277.2 1209.1l7 -7M1284 1198.1V1208.1M1280.5 1198.1h7M1280.5 1208.1h7M1280.5 1199.6l7 7M1280.5 1206.6l7 -7M1287.3 1199V1208.6M1283.8 1199h7M1283.8 1208.6h7M1283.8 1200.3l7 7M1283.8 1207.3l7 -7M1290.7 1199.3V1209.7M1287.2 1199.3h7M1287.2 1209.7h7M1287.2 1201l7 7M1287.2 1208l7 -7M1294 1199.7V1210.4M1290.5 1199.7h7M1290.5 1210.4h7M1290.5 1201.6l7 7M1290.5 1208.6l7 -7M1297.4 1199.6V1210.8M1293.9 1199.6h7M1293.9 1210.8h7M1293.9 1201.7l7 7M1293.9 1208.7l7 -7M1300.7 1199.1V1209.8M1297.2 1199.1h7M1297.2 1209.8h7M1297.2 1201l7 7M1297.2 1208l7 -7M1304 1199.7V1210.1M1300.5 1199.7h7M1300.5 1210.1h7M1300.5 1201.4l7 7M1300.5 1208.4l7 -7M1307.4 1199.2V1210.2M1303.9 1199.2h7M1303.9 1210.2h7M1303.9 1201.2l7 7M1303.9 1208.2l7 -7M1310.7 1199.2V1210.7M1307.2 1199.2h7M1307.2 1210.7h7M1307.2 1201.4l7 7M1307.2 1208.4l7 -7M1314 1200.8V1210.4M1310.5 1200.8h7M1310.5 1210.4h7M1310.5 1202.1l7 7M1310.5 1209.1l7 -7M1317.4 1199.4V1210.3M1313.9 1199.4h7M1313.9 1210.3h7M1313.9 1201.3l7 7M1313.9 1208.3l7 -7M1320.7 1201.3V1209.8M1317.2 1201.3h7M1317.2 1209.8h7M1317.2 1202l7 7M1317.2 1209l7 -7M1324.1 1198.1V1211M1320.6 1198.1h7M1320.6 1211h7M1320.6 1201.1l7 7M1320.6 1208.1l7 -7M1327.4 1199.8V1210.5M1323.9 1199.8h7M1323.9 1210.5h7M1323.9 1201.6l7 7M1323.9 1208.6l7 -7M1330.7 1199.3V1210.3M1327.2 1199.3h7M1327.2 1210.3h7M1327.2 1201.3l7 7M1327.2 1208.3l7 -7M1334.1 1199.6V1209.4M1330.6 1199.6h7M1330.6 1209.4h7M1330.6 1201l7 7M1330.6 1208l7 -7M1337.4 1198.6V1209.5M1333.9 1198.6h7M1333.9 1209.5h7M1333.9 1200.5l7 7M1333.9 1207.5l7 -7M1340.8 1198.6V1211.3M1337.3 1198.6h7M1337.3 1211.3h7M1337.3 1201.5l7 7M1337.3 1208.5l7 -7M1344.1 1197.7V1209.2M1340.6 1197.7h7M1340.6 1209.2h7M1340.6 1199.9l7 7M1340.6 1206.9l7 -7M1347.4 1197.5V1209M1343.9 1197.5h7M1343.9 1209h7M1343.9 1199.8l7 7M1343.9 1206.8l7 -7M1350.8 1197.7V1208.7M1347.3 1197.7h7M1347.3 1208.7h7M1347.3 1199.7l7 7M1347.3 1206.7l7 -7M1354.1 1195V1206.8M1350.6 1195h7M1350.6 1206.8h7M1350.6 1197.4l7 7M1350.6 1204.4l7 -7M1357.4 1192V1204.5M1353.9 1192h7M1353.9 1204.5h7M1353.9 1194.7l7 7M1353.9 1201.7l7 -7M1360.8 1188.3V1202.2M1357.3 1188.3h7M1357.3 1202.2h7M1357.3 1191.8l7 7M1357.3 1198.8l7 -7M1364.1 1175.4V1194.9M1360.6 1175.4h7M1360.6 1194.9h7M1360.6 1181.6l7 7M1360.6 1188.6l7 -7M1367.5 1170.8V1191.6M1364 1170.8h7M1364 1191.6h7M1364 1177.7l7 7M1364 1184.7l7 -7M1370.8 1165.6V1186.3M1367.3 1165.6h7M1367.3 1186.3h7M1367.3 1172.4l7 7M1367.3 1179.4l7 -7M1374.1 1074.1V1137.6M1370.6 1074.1h7M1370.6 1137.6h7M1370.6 1102.3l7 7M1370.6 1109.3l7 -7M1377.5 859V932.1M1374 859h7M1374 932.1h7M1374 892l7 7M1374 899l7 -7M1380.8 742.1V849.7M1377.3 742.1h7M1377.3 849.7h7M1377.3 792.4l7 7M1377.3 799.4l7 -7M1384.2 758.7V862.7M1380.7 758.7h7M1380.7 862.7h7M1380.7 807.2l7 7M1380.7 814.2l7 -7M1387.5 776.7V874.2M1384 776.7h7M1384 874.2h7M1384 821.9l7 7M1384 828.9l7 -7M1390.8 792.7V887.7M1387.3 792.7h7M1387.3 887.7h7M1387.3 836.7l7 7M1387.3 843.7l7 -7M1394.2 1042.2V1110.4M1390.7 1042.2h7M1390.7 1110.4h7M1390.7 1072.8l7 7M1390.7 1079.8l7 -7M1397.5 1159.3V1177.8M1394 1159.3h7M1394 1177.8h7M1394 1165l7 7M1394 1172l7 -7M1400.8 1181.4V1197.9M1397.3 1181.4h7M1397.3 1197.9h7M1397.3 1186.2l7 7M1397.3 1193.2l7 -7M1404.2 1187.5V1202.4M1400.7 1187.5h7M1400.7 1202.4h7M1400.7 1191.5l7 7M1400.7 1198.5l7 -7M1407.5 1192.5V1203.3M1404 1192.5h7M1404 1203.3h7M1404 1194.4l7 7M1404 1201.4l7 -7M1410.9 1193.6V1207.6M1407.4 1193.6h7M1407.4 1207.6h7M1407.4 1197.1l7 7M1407.4 1204.1l7 -7M1414.2 1197.6V1208.3M1410.7 1197.6h7M1410.7 1208.3h7M1410.7 1199.4l7 7M1410.7 1206.4l7 -7M1417.5 1198.2V1209.6M1414 1198.2h7M1414 1209.6h7M1414 1200.4l7 7M1414 1207.4l7 -7M1420.9 1198.5V1209.1M1417.4 1198.5h7M1417.4 1209.1h7M1417.4 1200.3l7 7M1417.4 1207.3l7 -7M1424.2 1197.9V1209M1420.7 1197.9h7M1420.7 1209h7M1420.7 1200l7 7M1420.7 1207l7 -7M1427.6 1199.2V1210.2M1424.1 1199.2h7M1424.1 1210.2h7M1424.1 1201.2l7 7M1424.1 1208.2l7 -7M1430.9 1200.3V1209.7M1427.4 1200.3h7M1427.4 1209.7h7M1427.4 1201.5l7 7M1427.4 1208.5l7 -7M1434.2 1199.4V1210.9M1430.7 1199.4h7M1430.7 1210.9h7M1430.7 1201.7l7 7M1430.7 1208.7l7 -7M1437.6 1198.6V1210.9M1434.1 1198.6h7M1434.1 1210.9h7M1434.1 1201.3l7 7M1434.1 1208.3l7 -7M1440.9 1201.2V1210.1M1437.4 1201.2h7M1437.4 1210.1h7M1437.4 1202.2l7 7M1437.4 1209.2l7 -7M1444.2 1199.3V1210.1M1440.7 1199.3h7M1440.7 1210.1h7M1440.7 1201.2l7 7M1440.7 1208.2l7 -7M1447.6 1199.6V1210.9M1444.1 1199.6h7M1444.1 1210.9h7M1444.1 1201.7l7 7M1444.1 1208.7l7 -7M1450.9 1200.6V1209.7M1447.4 1200.6h7M1447.4 1209.7h7M1447.4 1201.7l7 7M1447.4 1208.7l7 -7M1454.3 1199.5V1211.1M1450.8 1199.5h7M1450.8 1211.1h7M1450.8 1201.8l7 7M1450.8 1208.8l7 -7M1457.6 1200.8V1210.4M1454.1 1200.8h7M1454.1 1210.4h7M1454.1 1202.1l7 7M1454.1 1209.1l7 -7M1460.9 1199V1210M1457.4 1199h7M1457.4 1210h7M1457.4 1201l7 7M1457.4 1208l7 -7M1464.3 1200.1V1210.6M1460.8 1200.1h7M1460.8 1210.6h7M1460.8 1201.9l7 7M1460.8 1208.9l7 -7M1467.6 1199.4V1209.9M1464.1 1199.4h7M1464.1 1209.9h7M1464.1 1201.1l7 7M1464.1 1208.1l7 -7M1471 1199V1210.1M1467.5 1199h7M1467.5 1210.1h7M1467.5 1201.1l7 7M1467.5 1208.1l7 -7M1474.3 1198.9V1208.4M1470.8 1198.9h7M1470.8 1208.4h7M1470.8 1200.2l7 7M1470.8 1207.2l7 -7M1477.6 1197.8V1209.6M1474.1 1197.8h7M1474.1 1209.6h7M1474.1 1200.2l7 7M1474.1 1207.2l7 -7M1481 1197.3V1208.2M1477.5 1197.3h7M1477.5 1208.2h7M1477.5 1199.3l7 7M1477.5 1206.3l7 -7M1484.3 1199.6V1210.2M1480.8 1199.6h7M1480.8 1210.2h7M1480.8 1201.4l7 7M1480.8 1208.4l7 -7M1487.7 1197.5V1208.2M1484.2 1197.5h7M1484.2 1208.2h7M1484.2 1199.3l7 7M1484.2 1206.3l7 -7M1491 1194.1V1206.8M1487.5 1194.1h7M1487.5 1206.8h7M1487.5 1197l7 7M1487.5 1204l7 -7M1494.3 1190.5V1205.1M1490.8 1190.5h7M1490.8 1205.1h7M1490.8 1194.3l7 7M1490.8 1201.3l7 -7M1497.7 1185.2V1198.1M1494.2 1185.2h7M1494.2 1198.1h7M1494.2 1188.1l7 7M1494.2 1195.1l7 -7M1501 1179.7V1195.8M1497.5 1179.7h7M1497.5 1195.8h7M1497.5 1184.2l7 7M1497.5 1191.2l7 -7M1504.3 1174.7V1191.9M1500.8 1174.7h7M1500.8 1191.9h7M1500.8 1179.8l7 7M1500.8 1186.8l7 -7M1507.7 1154.2V1175.6M1504.2 1154.2h7M1504.2 1175.6h7M1504.2 1161.4l7 7M1504.2 1168.4l7 -7M1511 997.7V1066.4M1507.5 997.7h7M1507.5 1066.4h7M1507.5 1028.5l7 7M1507.5 1035.5l7 -7M1514.4 776.4V881.8M1510.9 776.4h7M1510.9 881.8h7M1510.9 825.6l7 7M1510.9 832.6l7 -7M1517.7 731.7V867.6M1514.2 731.7h7M1514.2 867.6h7M1514.2 796.1l7 7M1514.2 803.1l7 -7M1521 758.5V870.3M1517.5 758.5h7M1517.5 870.3h7M1517.5 810.9l7 7M1517.5 817.9l7 -7M1524.4 782V883.7M1520.9 782h7M1520.9 883.7h7M1520.9 829.3l7 7M1520.9 836.3l7 -7M1527.7 919.7V1004.2M1524.2 919.7h7M1524.2 1004.2h7M1524.2 958.5l7 7M1524.2 965.5l7 -7M1531.1 1110.5V1152.8M1527.6 1110.5h7M1527.6 1152.8h7M1527.6 1128.2l7 7M1527.6 1135.2l7 -7M1534.4 1169.6V1189.7M1530.9 1169.6h7M1530.9 1189.7h7M1530.9 1176.1l7 7M1530.9 1183.1l7 -7M1537.7 1185.3V1200.9M1534.2 1185.3h7M1534.2 1200.9h7M1534.2 1189.6l7 7M1534.2 1196.6l7 -7M1541.1 1191.9V1204.4M1537.6 1191.9h7M1537.6 1204.4h7M1537.6 1194.6l7 7M1537.6 1201.6l7 -7M1544.4 1195V1206.5M1540.9 1195h7M1540.9 1206.5h7M1540.9 1197.3l7 7M1540.9 1204.3l7 -7M1547.7 1197.5V1208.7M1544.2 1197.5h7M1544.2 1208.7h7M1544.2 1199.6l7 7M1544.2 1206.6l7 -7M1551.1 1199.8V1210.5M1547.6 1199.8h7M1547.6 1210.5h7M1547.6 1201.7l7 7M1547.6 1208.7l7 -7M1554.4 1198.5V1208.5M1550.9 1198.5h7M1550.9 1208.5h7M1550.9 1200l7 7M1550.9 1207l7 -7M1557.8 1198.1V1208.8M1554.3 1198.1h7M1554.3 1208.8h7M1554.3 1200l7 7M1554.3 1207l7 -7M1561.1 1199.3V1209.2M1557.6 1199.3h7M1557.6 1209.2h7M1557.6 1200.8l7 7M1557.6 1207.8l7 -7M1564.4 1199.2V1210M1560.9 1199.2h7M1560.9 1210h7M1560.9 1201.1l7 7M1560.9 1208.1l7 -7M1567.8 1200.8V1210.6M1564.3 1200.8h7M1564.3 1210.6h7M1564.3 1202.2l7 7M1564.3 1209.2l7 -7M1571.1 1199.2V1210.1M1567.6 1199.2h7M1567.6 1210.1h7M1567.6 1201.1l7 7M1567.6 1208.1l7 -7M1574.5 1199.5V1210.3M1571 1199.5h7M1571 1210.3h7M1571 1201.4l7 7M1571 1208.4l7 -7M1577.8 1199.5V1211.1M1574.3 1199.5h7M1574.3 1211.1h7M1574.3 1201.8l7 7M1574.3 1208.8l7 -7M1581.1 1200.2V1210.3M1577.6 1200.2h7M1577.6 1210.3h7M1577.6 1201.7l7 7M1577.6 1208.7l7 -7" stroke="#1414b0" stroke-width="1.45" fill="none"/>
<polyline points="916.6,1203.1 917.3,1203 917.9,1203 918.6,1203 919.3,1203 919.9,1203 920.6,1203 921.3,1202.9 921.9,1202.9 922.6,1202.9 923.3,1202.9 923.9,1202.9 924.6,1202.8 925.3,1202.8 925.9,1202.8 926.6,1202.8 927.3,1202.8 928,1202.7 928.6,1202.7 929.3,1202.7 930,1202.6 930.6,1202.6 931.3,1202.6 932,1202.5 932.6,1202.5 933.3,1202.4 934,1202.4 934.6,1202.3 935.3,1202.2 936,1202.2 936.6,1202.1 937.3,1202 938,1202 938.6,1201.9 939.3,1201.8 940,1201.7 940.6,1201.6 941.3,1201.5 942,1201.5 942.6,1201.4 943.3,1201.3 944,1201.2 944.6,1201 945.3,1200.9 946,1200.7 946.6,1200.6 947.3,1200.4 948,1200.2 948.6,1199.9 949.3,1199.7 950,1199.4 950.7,1199.1 951.3,1198.8 952,1198.5 952.7,1198.1 953.3,1197.6 954,1197 954.7,1196.3 955.3,1195.6 956,1194.8 956.7,1193.9 957.3,1192.9 958,1191.7 958.7,1190.2 959.3,1188.6 960,1186.6 960.7,1184.3 961.3,1181.6 962,1178 962.7,1173.2 963.3,1167.1 964,1159.4 964.7,1150.1 965.3,1131.7 966,1104.5 966.7,1078.8 967.3,1055.9 968,1032.1 968.7,1005.6 969.3,976.6 970,942.1 970.7,898.4 971.4,869.7 972,847.3 972.7,828.8 973.4,812 974,796.7 974.7,784.7 975.4,777.6 976,772.3 976.7,769.9 977.4,772.3 978,777.6 978.7,784.7 979.4,796.7 980,812 980.7,828.8 981.4,847.3 982,869.7 982.7,898.4 983.4,942.1 984,976.6 984.7,1005.6 985.4,1032.1 986,1055.9 986.7,1078.8 987.4,1104.4 988,1131.7 988.7,1150.1 989.4,1159.4 990,1167 990.7,1173.2 991.4,1177.9 992.1,1181.6 992.7,1184.3 993.4,1186.6 994.1,1188.5 994.7,1190.2 995.4,1191.6 996.1,1192.8 996.7,1193.8 997.4,1194.7 998.1,1195.5 998.7,1196.3 999.4,1196.9 1000.1,1197.5 1000.7,1198 1001.4,1198.4 1002.1,1198.8 1002.7,1199.1 1003.4,1199.4 1004.1,1199.6 1004.7,1199.9 1005.4,1200.1 1006.1,1200.3 1006.7,1200.5 1007.4,1200.7 1008.1,1200.8 1008.7,1201 1009.4,1201.1 1010.1,1201.2 1010.7,1201.3 1011.4,1201.4 1012.1,1201.5 1012.7,1201.6 1013.4,1201.7 1014.1,1201.7 1014.8,1201.8 1015.4,1201.9 1016.1,1202 1016.8,1202 1017.4,1202.1 1018.1,1202.2 1018.8,1202.2 1019.4,1202.3 1020.1,1202.3 1020.8,1202.4 1021.4,1202.4 1022.1,1202.5 1022.8,1202.5 1023.4,1202.6 1024.1,1202.6 1024.8,1202.6 1025.4,1202.6 1026.1,1202.7 1026.8,1202.7 1027.4,1202.7 1028.1,1202.7 1028.8,1202.7 1029.4,1202.8 1030.1,1202.8 1030.8,1202.8 1031.4,1202.8 1032.1,1202.8 1032.8,1202.8 1033.4,1202.9 1034.1,1202.9 1034.8,1202.9 1035.5,1202.9 1036.1,1202.9 1036.8,1202.9 1037.5,1202.9 1038.1,1202.9 1038.8,1202.9 1039.5,1202.9 1040.1,1202.9 1040.8,1202.9 1041.5,1202.9 1042.1,1202.9 1042.8,1202.9 1043.5,1203 1044.1,1203 1044.8,1203 1045.5,1203 1046.1,1202.9 1046.8,1202.9 1047.5,1202.9 1048.1,1202.9 1048.8,1202.9 1049.5,1202.9 1050.1,1202.9 1050.8,1202.9 1051.5,1202.9 1052.1,1202.9 1052.8,1202.9 1053.5,1202.9 1054.1,1202.9 1054.8,1202.9 1055.5,1202.8 1056.1,1202.8 1056.8,1202.8 1057.5,1202.8 1058.2,1202.8 1058.8,1202.8 1059.5,1202.7 1060.2,1202.7 1060.8,1202.7 1061.5,1202.7 1062.2,1202.7 1062.8,1202.7 1063.5,1202.6 1064.2,1202.6 1064.8,1202.6 1065.5,1202.5 1066.2,1202.5 1066.8,1202.5 1067.5,1202.4 1068.2,1202.4 1068.8,1202.3 1069.5,1202.3 1070.2,1202.2 1070.8,1202.1 1071.5,1202.1 1072.2,1202 1072.8,1201.9 1073.5,1201.9 1074.2,1201.8 1074.8,1201.7 1075.5,1201.6 1076.2,1201.6 1076.8,1201.5 1077.5,1201.4 1078.2,1201.3 1078.9,1201.2 1079.5,1201.1 1080.2,1201 1080.9,1200.8 1081.5,1200.7 1082.2,1200.5 1082.9,1200.3 1083.5,1200.1 1084.2,1199.9 1084.9,1199.6 1085.5,1199.4 1086.2,1199.1 1086.9,1198.8 1087.5,1198.5 1088.2,1198.1 1088.9,1197.6 1089.5,1197.1 1090.2,1196.4 1090.9,1195.7 1091.5,1194.9 1092.2,1194 1092.9,1193.1 1093.5,1191.9 1094.2,1190.6 1094.9,1189 1095.5,1187.1 1096.2,1184.9 1096.9,1182.3 1097.5,1179 1098.2,1174.5 1098.9,1168.8 1099.5,1161.6 1100.2,1152.7 1100.9,1137.8 1101.6,1111.8 1102.2,1085 1102.9,1062.1 1103.6,1038.9 1104.2,1013.1 1104.9,985.1 1105.6,952.9 1106.2,909.7 1106.9,877.4 1107.6,853.9 1108.2,834.6 1108.9,817.7 1109.6,801.9 1110.2,789 1110.9,780.9 1111.6,775.2 1112.2,771.9 1112.9,773.1 1113.6,777.8 1114.2,784.2 1114.9,794.9 1115.6,809.6 1116.2,826 1116.9,843.8 1117.6,865 1118.2,891.2 1118.9,932.2 1119.6,969.6 1120.2,999.5 1120.9,1026.3 1121.6,1050.7 1122.3,1073.5 1122.9,1097.8 1123.6,1125.6 1124.3,1147.1 1124.9,1157.3 1125.6,1165.4 1126.3,1171.8 1126.9,1176.9 1127.6,1180.8 1128.3,1183.7 1128.9,1186 1129.6,1188.1 1130.3,1189.8 1130.9,1191.3 1131.6,1192.5 1132.3,1193.6 1132.9,1194.5 1133.6,1195.3 1134.3,1196.1 1134.9,1196.7 1135.6,1197.3 1136.3,1197.8 1136.9,1198.3 1137.6,1198.6 1138.3,1198.9 1138.9,1199.2 1139.6,1199.5 1140.3,1199.7 1140.9,1200 1141.6,1200.2 1142.3,1200.4 1143,1200.6 1143.6,1200.7 1144.3,1200.9 1145,1201 1145.6,1201.1 1146.3,1201.2 1147,1201.3 1147.6,1201.4 1148.3,1201.5 1149,1201.6 1149.6,1201.6 1150.3,1201.7 1151,1201.8 1151.6,1201.9 1152.3,1201.9 1153,1202 1153.6,1202.1 1154.3,1202.1 1155,1202.2 1155.6,1202.3 1156.3,1202.3 1157,1202.4 1157.6,1202.4 1158.3,1202.4 1159,1202.5 1159.6,1202.5 1160.3,1202.5 1161,1202.6 1161.6,1202.6 1162.3,1202.6 1163,1202.6 1163.6,1202.7 1164.3,1202.7 1165,1202.7 1165.7,1202.7 1166.3,1202.7 1167,1202.7 1167.7,1202.8 1168.3,1202.8 1169,1202.8 1169.7,1202.8 1170.3,1202.8 1171,1202.8 1171.7,1202.8 1172.3,1202.8 1173,1202.8 1173.7,1202.9 1174.3,1202.9 1175,1202.9 1175.7,1202.9 1176.3,1202.9 1177,1202.9 1177.7,1202.9 1178.3,1202.9 1179,1202.9 1179.7,1202.9 1180.3,1202.9 1181,1202.9 1181.7,1202.9 1182.3,1202.9 1183,1202.9 1183.7,1202.9 1184.3,1202.9 1185,1202.9 1185.7,1202.9 1186.4,1202.9 1187,1202.8 1187.7,1202.8 1188.4,1202.8 1189,1202.8 1189.7,1202.8 1190.4,1202.8 1191,1202.8 1191.7,1202.8 1192.4,1202.8 1193,1202.7 1193.7,1202.7 1194.4,1202.7 1195,1202.7 1195.7,1202.7 1196.4,1202.7 1197,1202.6 1197.7,1202.6 1198.4,1202.6 1199,1202.6 1199.7,1202.6 1200.4,1202.5 1201,1202.5 1201.7,1202.5 1202.4,1202.4 1203,1202.4 1203.7,1202.3 1204.4,1202.3 1205,1202.2 1205.7,1202.2 1206.4,1202.1 1207,1202.1 1207.7,1202 1208.4,1201.9 1209.1,1201.8 1209.7,1201.8 1210.4,1201.7 1211.1,1201.6 1211.7,1201.5 1212.4,1201.4 1213.1,1201.4 1213.7,1201.3 1214.4,1201.2 1215.1,1201.1 1215.7,1200.9 1216.4,1200.8 1217.1,1200.7 1217.7,1200.5 1218.4,1200.3 1219.1,1200.1 1219.7,1199.9 1220.4,1199.7 1221.1,1199.4 1221.7,1199.1 1222.4,1198.9 1223.1,1198.5 1223.7,1198.2 1224.4,1197.7 1225.1,1197.2 1225.7,1196.6 1226.4,1195.9 1227.1,1195.1 1227.7,1194.3 1228.4,1193.3 1229.1,1192.2 1229.8,1190.9 1230.4,1189.4 1231.1,1187.6 1231.8,1185.5 1232.4,1183.1 1233.1,1180 1233.8,1175.8 1234.4,1170.4 1235.1,1163.6 1235.8,1155.3 1236.4,1143.1 1237.1,1119.1 1237.8,1091.7 1238.4,1068.3 1239.1,1045.5 1239.8,1020.5 1240.4,993.2 1241.1,962.5 1241.8,922 1242.4,885.4 1243.1,860.7 1243.8,840.6 1244.4,823.5 1245.1,807.3 1245.8,793.5 1246.4,784.2 1247.1,778.2 1247.8,774.2 1248.4,774.2 1249.1,778.2 1249.8,784.2 1250.5,793.5 1251.1,807.3 1251.8,823.5 1252.5,840.6 1253.1,860.7 1253.8,885.4 1254.5,922 1255.1,962.5 1255.8,993.2 1256.5,1020.5 1257.1,1045.5 1257.8,1068.3 1258.5,1091.7 1259.1,1119.1 1259.8,1143.1 1260.5,1155.3 1261.1,1163.6 1261.8,1170.4 1262.5,1175.8 1263.1,1180 1263.8,1183.1 1264.5,1185.5 1265.1,1187.6 1265.8,1189.4 1266.5,1190.9 1267.1,1192.2 1267.8,1193.3 1268.5,1194.3 1269.1,1195.1 1269.8,1195.9 1270.5,1196.6 1271.1,1197.2 1271.8,1197.7 1272.5,1198.2 1273.2,1198.5 1273.8,1198.9 1274.5,1199.1 1275.2,1199.4 1275.8,1199.7 1276.5,1199.9 1277.2,1200.1 1277.8,1200.3 1278.5,1200.5 1279.2,1200.7 1279.8,1200.8 1280.5,1200.9 1281.2,1201.1 1281.8,1201.2 1282.5,1201.3 1283.2,1201.4 1283.8,1201.4 1284.5,1201.5 1285.2,1201.6 1285.8,1201.7 1286.5,1201.8 1287.2,1201.8 1287.8,1201.9 1288.5,1202 1289.2,1202.1 1289.8,1202.1 1290.5,1202.2 1291.2,1202.2 1291.8,1202.3 1292.5,1202.3 1293.2,1202.4 1293.9,1202.4 1294.5,1202.5 1295.2,1202.5 1295.9,1202.5 1296.5,1202.6 1297.2,1202.6 1297.9,1202.6 1298.5,1202.6 1299.2,1202.6 1299.9,1202.7 1300.5,1202.7 1301.2,1202.7 1301.9,1202.7 1302.5,1202.7 1303.2,1202.7 1303.9,1202.8 1304.5,1202.8 1305.2,1202.8 1305.9,1202.8 1306.5,1202.8 1307.2,1202.8 1307.9,1202.8 1308.5,1202.8 1309.2,1202.8 1309.9,1202.9 1310.5,1202.9 1311.2,1202.9 1311.9,1202.9 1312.5,1202.9 1313.2,1202.9 1313.9,1202.9 1314.5,1202.9 1315.2,1202.9 1315.9,1202.9 1316.6,1202.9 1317.2,1202.9 1317.9,1202.9 1318.6,1202.9 1319.2,1202.9 1319.9,1202.9 1320.6,1202.9 1321.2,1202.9 1321.9,1202.9 1322.6,1202.8 1323.2,1202.8 1323.9,1202.8 1324.6,1202.8 1325.2,1202.8 1325.9,1202.8 1326.6,1202.8 1327.2,1202.8 1327.9,1202.8 1328.6,1202.7 1329.2,1202.7 1329.9,1202.7 1330.6,1202.7 1331.2,1202.7 1331.9,1202.7 1332.6,1202.6 1333.2,1202.6 1333.9,1202.6 1334.6,1202.6 1335.2,1202.6 1335.9,1202.5 1336.6,1202.5 1337.3,1202.5 1337.9,1202.4 1338.6,1202.4 1339.3,1202.3 1339.9,1202.3 1340.6,1202.2 1341.3,1202.2 1341.9,1202.1 1342.6,1202.1 1343.3,1202 1343.9,1201.9 1344.6,1201.8 1345.3,1201.8 1345.9,1201.7 1346.6,1201.6 1347.3,1201.5 1347.9,1201.4 1348.6,1201.3 1349.3,1201.3 1349.9,1201.2 1350.6,1201.1 1351.3,1200.9 1351.9,1200.8 1352.6,1200.7 1353.3,1200.5 1353.9,1200.3 1354.6,1200.1 1355.3,1199.9 1355.9,1199.7 1356.6,1199.4 1357.3,1199.2 1357.9,1198.9 1358.6,1198.5 1359.3,1198.2 1360,1197.8 1360.6,1197.3 1361.3,1196.7 1362,1196 1362.6,1195.2 1363.3,1194.4 1364,1193.5 1364.6,1192.4 1365.3,1191.2 1366,1189.7 1366.6,1188 1367.3,1186 1368,1183.6 1368.6,1180.8 1369.3,1177.1 1370,1172.2 1370.6,1165.9 1371.3,1158 1372,1148.4 1372.6,1129.5 1373.3,1101.4 1374,1074.9 1374.6,1051.4 1375.3,1026.9 1376,999.7 1376.6,969.8 1377.3,934.2 1378,889.2 1378.6,859.6 1379.3,836.6 1380,817.5 1380.7,800.3 1381.3,784.5 1382,772.2 1382.7,764.8 1383.3,759.4 1384,756.9 1384.7,759.4 1385.3,764.8 1386,772.2 1386.7,784.5 1387.3,800.3 1388,817.5 1388.7,836.6 1389.3,859.6 1390,889.3 1390.7,934.2 1391.3,969.8 1392,999.7 1392.7,1026.9 1393.3,1051.4 1394,1075 1394.7,1101.4 1395.3,1129.5 1396,1148.4 1396.7,1158 1397.3,1165.9 1398,1172.2 1398.7,1177.1 1399.3,1180.8 1400,1183.6 1400.7,1186 1401.4,1188 1402,1189.8 1402.7,1191.2 1403.4,1192.4 1404,1193.5 1404.7,1194.4 1405.4,1195.2 1406,1196 1406.7,1196.7 1407.4,1197.3 1408,1197.8 1408.7,1198.2 1409.4,1198.6 1410,1198.9 1410.7,1199.2 1411.4,1199.5 1412,1199.7 1412.7,1199.9 1413.4,1200.2 1414,1200.4 1414.7,1200.5 1415.4,1200.7 1416,1200.8 1416.7,1201 1417.4,1201.1 1418,1201.2 1418.7,1201.3 1419.4,1201.4 1420,1201.5 1420.7,1201.6 1421.4,1201.6 1422,1201.7 1422.7,1201.8 1423.4,1201.9 1424.1,1202 1424.7,1202 1425.4,1202.1 1426.1,1202.2 1426.7,1202.2 1427.4,1202.3 1428.1,1202.3 1428.7,1202.4 1429.4,1202.4 1430.1,1202.5 1430.7,1202.5 1431.4,1202.5 1432.1,1202.6 1432.7,1202.6 1433.4,1202.6 1434.1,1202.6 1434.7,1202.7 1435.4,1202.7 1436.1,1202.7 1436.7,1202.7 1437.4,1202.7 1438.1,1202.8 1438.7,1202.8 1439.4,1202.8 1440.1,1202.8 1440.7,1202.8 1441.4,1202.8 1442.1,1202.8 1442.7,1202.9 1443.4,1202.9 1444.1,1202.9 1444.8,1202.9 1445.4,1202.9 1446.1,1202.9 1446.8,1202.9 1447.4,1202.9 1448.1,1202.9 1448.8,1202.9 1449.4,1202.9 1450.1,1202.9 1450.8,1202.9 1451.4,1202.9 1452.1,1202.9 1452.8,1202.9 1453.4,1202.9 1454.1,1202.9 1454.8,1202.9 1455.4,1202.9 1456.1,1202.9 1456.8,1202.9 1457.4,1202.9 1458.1,1202.9 1458.8,1202.9 1459.4,1202.9 1460.1,1202.9 1460.8,1202.9 1461.4,1202.9 1462.1,1202.8 1462.8,1202.8 1463.4,1202.8 1464.1,1202.8 1464.8,1202.8 1465.4,1202.8 1466.1,1202.8 1466.8,1202.7 1467.5,1202.7 1468.1,1202.7 1468.8,1202.7 1469.5,1202.7 1470.1,1202.7 1470.8,1202.6 1471.5,1202.6 1472.1,1202.6 1472.8,1202.5 1473.5,1202.5 1474.1,1202.4 1474.8,1202.4 1475.5,1202.4 1476.1,1202.3 1476.8,1202.2 1477.5,1202.2 1478.1,1202.1 1478.8,1202.1 1479.5,1202 1480.1,1201.9 1480.8,1201.8 1481.5,1201.8 1482.1,1201.7 1482.8,1201.6 1483.5,1201.5 1484.1,1201.4 1484.8,1201.3 1485.5,1201.2 1486.1,1201.1 1486.8,1201 1487.5,1200.9 1488.2,1200.7 1488.8,1200.6 1489.5,1200.4 1490.2,1200.2 1490.8,1200 1491.5,1199.7 1492.2,1199.5 1492.8,1199.2 1493.5,1198.9 1494.2,1198.6 1494.8,1198.2 1495.5,1197.7 1496.2,1197.2 1496.8,1196.6 1497.5,1195.9 1498.2,1195.1 1498.8,1194.2 1499.5,1193.3 1500.2,1192.2 1500.8,1190.8 1501.5,1189.3 1502.2,1187.5 1502.8,1185.3 1503.5,1182.8 1504.2,1179.7 1504.8,1175.5 1505.5,1170 1506.2,1163.1 1506.8,1154.5 1507.5,1142.2 1508.2,1117.8 1508.8,1089.9 1509.5,1066.1 1510.2,1042.9 1510.9,1017.5 1511.5,989.8 1512.2,958.4 1512.9,917.3 1513.5,880.1 1514.2,855 1514.9,834.5 1515.5,817.1 1516.2,800.7 1516.9,786.6 1517.5,777.1 1518.2,771.1 1518.9,766.9 1519.5,766.9 1520.2,771.1 1520.9,777.1 1521.5,786.6 1522.2,800.7 1522.9,817.1 1523.5,834.5 1524.2,855 1524.9,880.1 1525.5,917.3 1526.2,958.5 1526.9,989.8 1527.5,1017.5 1528.2,1042.9 1528.9,1066.1 1529.5,1089.9 1530.2,1117.8 1530.9,1142.2 1531.6,1154.6 1532.2,1163.1 1532.9,1170 1533.6,1175.5 1534.2,1179.7 1534.9,1182.9 1535.6,1185.3 1536.2,1187.5 1536.9,1189.3 1537.6,1190.9 1538.2,1192.2 1538.9,1193.3 1539.6,1194.3 1540.2,1195.1 1540.9,1195.9 1541.6,1196.6 1542.2,1197.2 1542.9,1197.8 1543.6,1198.2 1544.2,1198.6 1544.9,1198.9 1545.6,1199.2 1546.2,1199.5 1546.9,1199.8 1547.6,1200 1548.2,1200.2 1548.9,1200.4 1549.6,1200.6 1550.2,1200.8 1550.9,1200.9 1551.6,1201.1 1552.3,1201.2 1552.9,1201.3 1553.6,1201.4 1554.3,1201.5 1554.9,1201.6 1555.6,1201.7 1556.3,1201.8 1556.9,1201.8 1557.6,1201.9 1558.3,1202 1558.9,1202.1 1559.6,1202.1 1560.3,1202.2 1560.9,1202.3 1561.6,1202.3 1562.3,1202.4 1562.9,1202.4 1563.6,1202.5 1564.3,1202.5 1564.9,1202.6 1565.6,1202.6 1566.3,1202.7 1566.9,1202.7 1567.6,1202.7 1568.3,1202.7 1568.9,1202.8 1569.6,1202.8 1570.3,1202.8 1570.9,1202.8 1571.6,1202.9 1572.3,1202.9 1572.9,1202.9 1573.6,1202.9 1574.3,1202.9 1575,1202.9 1575.6,1203 1576.3,1203 1577,1203 1577.6,1203 1578.3,1203 1579,1203 1579.6,1203.1 1580.3,1203.1 1581,1203.1 1581.6,1203.1 1582.3,1203.1 1583,1203.1 1583.6,1203.1 1584.3,1203.1" stroke="#e4141e" stroke-width="1.6" fill="none" stroke-linejoin="round"/>
</g>
<path d="M916.6 1220.2v-6.3M916.6 703.7v6.3M1083.5 1220.2v-6.3M1083.5 703.7v6.3M1250.5 1220.2v-6.3M1250.5 703.7v6.3M1417.4 1220.2v-6.3M1417.4 703.7v6.3M1584.3 1220.2v-6.3M1584.3 703.7v6.3M916.6 1220.2h6.3M1584.3 1220.2h-6.3M916.6 1146.4h6.3M1584.3 1146.4h-6.3M916.6 1072.6h6.3M1584.3 1072.6h-6.3M916.6 998.8h6.3M1584.3 998.8h-6.3M916.6 925.1h6.3M1584.3 925.1h-6.3M916.6 851.3h6.3M1584.3 851.3h-6.3M916.6 777.5h6.3M1584.3 777.5h-6.3M916.6 703.7h6.3M1584.3 703.7h-6.3" stroke="#000" stroke-width="1.6" fill="none"/>
<rect x="916.6" y="703.7" width="667.7" height="516.5" fill="none" stroke="#000" stroke-width="1.9"/>
<text x="916.6" y="1246.2" font-size="26.4" text-anchor="middle">0</text>
<text x="1083.5" y="1246.2" font-size="26.4" text-anchor="middle">500</text>
<text x="1250.5" y="1246.2" font-size="26.4" text-anchor="middle">1000</text>
<text x="1417.4" y="1246.2" font-size="26.4" text-anchor="middle">1500</text>
<text x="1584.3" y="1246.2" font-size="26.4" text-anchor="middle">2000</text>
<text x="913.1" y="1228.2" font-size="26.4" text-anchor="end">0</text>
<text x="913.9" y="1154.4" font-size="26.4" text-anchor="end">2</text>
<text x="912.8" y="1080.6" font-size="26.4" text-anchor="end">4</text>
<text x="913" y="1006.8" font-size="26.4" text-anchor="end">6</text>
<text x="913.1" y="933.1" font-size="26.4" text-anchor="end">8</text>
<text x="913.1" y="859.3" font-size="26.4" text-anchor="end">10</text>
<text x="913.9" y="785.5" font-size="26.4" text-anchor="end">12</text>
<text x="912.8" y="711.7" font-size="26.4" text-anchor="end">14</text>
<text x="1252.2" y="1282.8" font-size="30" text-anchor="middle">y, um</text>
<text transform="translate(866 962) rotate(-90)" font-size="30" text-anchor="middle">Dose , Gy</text>
<rect x="1127" y="648.1" width="249" height="37.6" fill="#fff" stroke="#000" stroke-width="1.4"/>
<path d="M1142.3 654.6V676.2M1137.8 654.6h9M1137.8 676.2h9M1137.8 660.4l9 10M1137.8 670.4l9 -10M1172.3 654.6V676.2M1167.8 654.6h9M1167.8 676.2h9M1167.8 660.4l9 10M1167.8 670.4l9 -10" stroke="#1414b0" stroke-width="1.45" fill="none"/>
<text x="1193.8" y="672" font-size="21" text-anchor="start">G4</text>
<path d="M1273.2 665.6h31" stroke="#e4141e" stroke-width="1.6"/>
<text x="1324.2" y="672" font-size="21" text-anchor="start">Film</text>
<text x="404" y="1355.8" font-size="52" font-weight="bold" text-anchor="middle" font-family="'Liberation Sans',sans-serif">(a)</text>
<text x="1249" y="1355.8" font-size="52" font-weight="bold" text-anchor="middle" font-family="'Liberation Sans',sans-serif">(b)</text>
</svg>
</body></html>
